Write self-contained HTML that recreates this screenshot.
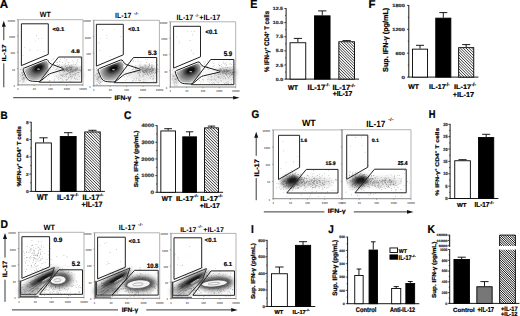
<!DOCTYPE html>
<html><head><meta charset="utf-8"><style>
html,body{margin:0;padding:0;background:#fff;width:520px;height:316px;overflow:hidden}
svg{display:block}
text{font-family:"Liberation Sans",sans-serif;text-rendering:geometricPrecision}
</style></head><body>
<svg width="520" height="316" viewBox="0 0 520 316">
<defs>
<filter id="b1" x="-50%" y="-50%" width="200%" height="200%"><feGaussianBlur stdDeviation="1"/></filter>
<filter id="b2" x="-50%" y="-50%" width="200%" height="200%"><feGaussianBlur stdDeviation="2.2"/></filter>
<filter id="b3" x="-50%" y="-50%" width="200%" height="200%"><feGaussianBlur stdDeviation="0.5"/></filter>
<pattern id="hatch" patternUnits="userSpaceOnUse" width="2.3" height="2.3"><rect width="2.3" height="2.3" fill="#fff"/><path d="M-0.5,-0.5 L2.8,2.8 M1.8,-0.5 L2.8,0.5 M-0.5,1.8 L0.5,2.8" stroke="#111" stroke-width="0.8"/></pattern>
</defs>
<rect width="520" height="316" fill="#fff"/>
<text transform="translate(-0.35,7.80) scale(0.1164,0.1159)" font-size="100" font-weight="bold" fill="#000" stroke="#000" stroke-width="1.89">A</text>
<clipPath id="ac1"><path d="M23.3,70.8 Q22.4,68.8 24.4,68.0 L45.3,59.6 Q47.3,58.8 48.2,60.8 L48.4,61.3 Q49.3,63.3 51.4,64.1 L62.3,68.2 Q63.0,68.4 63.5,68.9 L63.5,68.9 Q64.0,69.4 63.3,69.6 L51.4,73.2 Q49.3,73.8 47.6,75.2 L41.7,80.2 Q40.0,81.6 37.8,81.5 L32.4,81.2 Q30.3,81.1 28.6,80.0 L28.6,79.9 Q26.8,78.8 26.0,76.9 Z"/></clipPath>
<ellipse cx="70.0" cy="69.6" rx="11" ry="2.8" transform="rotate(2 70.0 69.6)" fill="#8a8a8a" opacity="0.9" filter="url(#b2)"/>
<ellipse cx="68.8" cy="75.6" rx="16" ry="4" transform="rotate(0 68.8 75.6)" fill="#e2e2e2" opacity="0.9" filter="url(#b2)"/>
<ellipse cx="23.8" cy="75.8" rx="3.5" ry="7" transform="rotate(0 23.8 75.8)" fill="#cfcfcf" opacity="0.9" filter="url(#b2)"/>
<path d="M23.3,70.8 Q22.4,68.8 24.4,68.0 L45.3,59.6 Q47.3,58.8 48.2,60.8 L48.4,61.3 Q49.3,63.3 51.4,64.1 L62.3,68.2 Q63.0,68.4 63.5,68.9 L63.5,68.9 Q64.0,69.4 63.3,69.6 L51.4,73.2 Q49.3,73.8 47.6,75.2 L41.7,80.2 Q40.0,81.6 37.8,81.5 L32.4,81.2 Q30.3,81.1 28.6,80.0 L28.6,79.9 Q26.8,78.8 26.0,76.9 Z" fill="#f2f2f2"/>
<g clip-path="url(#ac1)">
<ellipse cx="36.7" cy="70.2" rx="14" ry="9.5" transform="rotate(-35 36.7 70.2)" fill="#b0b0b0" opacity="1" filter="url(#b1)"/>
<ellipse cx="37.7" cy="69.2" rx="10.5" ry="7.0" transform="rotate(-30 37.7 69.2)" fill="#7a7a7a" opacity="1" filter="url(#b1)"/>
<ellipse cx="38.2" cy="68.2" rx="7.0" ry="4.6" transform="rotate(-25 38.2 68.2)" fill="#333" opacity="1" filter="url(#b1)"/>
<ellipse cx="38.5" cy="67.8" rx="4.2" ry="2.6" transform="rotate(-25 38.5 67.8)" fill="#0a0a0a" opacity="1" filter="url(#b3)"/>
<ellipse cx="38.5" cy="69.2" rx="1.4" ry="0.6" fill="#bbb" filter="url(#b3)"/>
<ellipse cx="37.6" cy="69.2" rx="10.0" ry="6.8" transform="rotate(-32 38.2 68.2)" fill="none" stroke="#888" stroke-width="0.35"/>
<ellipse cx="37.6" cy="69.2" rx="7.6" ry="5.0" transform="rotate(-32 38.2 68.2)" fill="none" stroke="#666" stroke-width="0.35"/>
<ellipse cx="37.6" cy="69.2" rx="5.2" ry="3.4" transform="rotate(-32 38.2 68.2)" fill="none" stroke="#444" stroke-width="0.35"/>
<path d="M48.3,64.4 L63.0,68.6 L63.5,69.4 L49.3,73.6 Z" fill="#f7f7f7" filter="url(#b3)"/>
<path d="M23.3,70.8 Q22.4,68.8 24.4,68.0 L45.3,59.6 Q47.3,58.8 48.2,60.8 L48.4,61.3 Q49.3,63.3 51.4,64.1 L62.3,68.2 Q63.0,68.4 63.5,68.9 L63.5,68.9 Q64.0,69.4 63.3,69.6 L51.4,73.2 Q49.3,73.8 47.6,75.2 L41.7,80.2 Q40.0,81.6 37.8,81.5 L32.4,81.2 Q30.3,81.1 28.6,80.0 L28.6,79.9 Q26.8,78.8 26.0,76.9 Z" fill="none" stroke="#fff" stroke-width="2.4"/>
</g>
<path d="M70.6 66.9h0.6v0.6h-0.6zM72.5 71.6h0.6v0.6h-0.6zM68.5 70.6h0.6v0.6h-0.6zM64.2 71.3h0.6v0.6h-0.6zM67.2 73.6h0.6v0.6h-0.6zM63.4 72.6h0.6v0.6h-0.6zM71.0 67.1h0.6v0.6h-0.6zM80.0 66.2h0.6v0.6h-0.6zM67.0 71.3h0.6v0.6h-0.6zM66.2 67.2h0.6v0.6h-0.6zM73.9 69.7h0.6v0.6h-0.6zM72.9 71.5h0.6v0.6h-0.6zM71.4 66.0h0.6v0.6h-0.6zM64.2 64.7h0.6v0.6h-0.6zM70.3 70.2h0.6v0.6h-0.6zM75.4 69.9h0.6v0.6h-0.6zM61.1 68.7h0.6v0.6h-0.6zM67.3 69.6h0.6v0.6h-0.6zM57.3 67.2h0.6v0.6h-0.6zM61.6 66.0h0.6v0.6h-0.6zM57.6 68.8h0.6v0.6h-0.6zM68.9 67.4h0.6v0.6h-0.6zM61.8 65.7h0.6v0.6h-0.6zM72.4 70.8h0.6v0.6h-0.6zM71.6 69.5h0.6v0.6h-0.6zM69.2 70.4h0.6v0.6h-0.6zM53.0 66.8h0.6v0.6h-0.6zM66.8 68.0h0.6v0.6h-0.6zM70.2 67.4h0.6v0.6h-0.6zM71.4 67.7h0.6v0.6h-0.6zM59.8 69.7h0.6v0.6h-0.6zM67.2 67.8h0.6v0.6h-0.6zM63.6 70.1h0.6v0.6h-0.6zM64.8 70.1h0.6v0.6h-0.6zM77.8 74.3h0.6v0.6h-0.6zM65.0 66.3h0.6v0.6h-0.6zM70.2 71.5h0.6v0.6h-0.6zM76.7 69.6h0.6v0.6h-0.6zM66.4 69.4h0.6v0.6h-0.6zM69.8 66.4h0.6v0.6h-0.6zM71.3 68.6h0.6v0.6h-0.6zM70.9 71.2h0.6v0.6h-0.6zM61.9 69.1h0.6v0.6h-0.6zM71.0 69.8h0.6v0.6h-0.6zM80.0 69.3h0.6v0.6h-0.6zM59.6 71.8h0.6v0.6h-0.6zM76.5 69.8h0.6v0.6h-0.6zM71.5 64.8h0.6v0.6h-0.6zM66.1 67.9h0.6v0.6h-0.6zM76.1 62.6h0.6v0.6h-0.6zM62.2 68.1h0.6v0.6h-0.6zM70.9 72.6h0.6v0.6h-0.6zM74.5 69.8h0.6v0.6h-0.6zM69.3 67.0h0.6v0.6h-0.6zM75.3 67.7h0.6v0.6h-0.6zM69.9 72.1h0.6v0.6h-0.6zM75.2 70.1h0.6v0.6h-0.6zM80.6 70.1h0.6v0.6h-0.6zM65.8 69.3h0.6v0.6h-0.6zM71.9 69.7h0.6v0.6h-0.6zM67.2 71.3h0.6v0.6h-0.6zM71.3 70.8h0.6v0.6h-0.6zM62.2 69.8h0.6v0.6h-0.6zM66.5 67.2h0.6v0.6h-0.6zM69.1 70.7h0.6v0.6h-0.6zM76.8 68.3h0.6v0.6h-0.6zM78.4 72.3h0.6v0.6h-0.6zM61.3 66.5h0.6v0.6h-0.6zM65.0 69.1h0.6v0.6h-0.6zM75.0 69.7h0.6v0.6h-0.6zM56.7 66.2h0.6v0.6h-0.6zM67.1 73.3h0.6v0.6h-0.6zM69.7 72.8h0.6v0.6h-0.6zM79.3 68.9h0.6v0.6h-0.6zM75.3 71.5h0.6v0.6h-0.6zM68.2 70.4h0.6v0.6h-0.6zM68.1 63.8h0.6v0.6h-0.6zM68.7 70.1h0.6v0.6h-0.6zM81.2 69.8h0.6v0.6h-0.6zM67.5 69.7h0.6v0.6h-0.6zM68.5 67.2h0.6v0.6h-0.6zM73.0 69.1h0.6v0.6h-0.6zM69.7 69.2h0.6v0.6h-0.6zM69.0 72.2h0.6v0.6h-0.6zM62.7 70.1h0.6v0.6h-0.6zM70.4 69.6h0.6v0.6h-0.6zM67.3 72.9h0.6v0.6h-0.6zM78.7 68.7h0.6v0.6h-0.6zM75.1 68.9h0.6v0.6h-0.6zM70.5 65.6h0.6v0.6h-0.6zM75.1 73.2h0.6v0.6h-0.6zM68.0 71.6h0.6v0.6h-0.6zM77.8 71.9h0.6v0.6h-0.6zM70.4 71.1h0.6v0.6h-0.6zM74.6 70.0h0.6v0.6h-0.6zM61.5 69.8h0.6v0.6h-0.6zM72.9 69.1h0.6v0.6h-0.6zM58.7 68.7h0.6v0.6h-0.6zM56.3 69.2h0.6v0.6h-0.6zM68.3 72.8h0.6v0.6h-0.6zM64.2 70.6h0.6v0.6h-0.6zM71.7 69.5h0.6v0.6h-0.6zM64.7 68.0h0.6v0.6h-0.6zM66.0 73.0h0.6v0.6h-0.6zM71.9 70.8h0.6v0.6h-0.6zM73.9 69.9h0.6v0.6h-0.6zM69.3 68.8h0.6v0.6h-0.6zM69.1 67.1h0.6v0.6h-0.6zM75.4 69.6h0.6v0.6h-0.6zM74.1 71.6h0.6v0.6h-0.6zM63.3 68.5h0.6v0.6h-0.6zM70.0 69.1h0.6v0.6h-0.6zM70.8 69.1h0.6v0.6h-0.6zM63.1 69.6h0.6v0.6h-0.6zM72.4 66.2h0.6v0.6h-0.6zM64.5 68.9h0.6v0.6h-0.6zM77.4 68.0h0.6v0.6h-0.6zM71.8 71.6h0.6v0.6h-0.6zM71.2 67.9h0.6v0.6h-0.6zM66.3 70.7h0.6v0.6h-0.6zM69.6 72.9h0.6v0.6h-0.6zM56.5 68.4h0.6v0.6h-0.6zM62.6 68.0h0.6v0.6h-0.6zM73.0 70.1h0.6v0.6h-0.6zM55.6 69.1h0.6v0.6h-0.6zM76.5 67.6h0.6v0.6h-0.6zM58.2 70.2h0.6v0.6h-0.6zM75.6 74.2h0.6v0.6h-0.6zM64.6 68.8h0.6v0.6h-0.6zM76.0 69.3h0.6v0.6h-0.6zM71.5 67.3h0.6v0.6h-0.6zM59.7 69.9h0.6v0.6h-0.6zM79.3 67.2h0.6v0.6h-0.6zM80.7 67.5h0.6v0.6h-0.6zM69.9 72.4h0.6v0.6h-0.6zM68.7 67.5h0.6v0.6h-0.6zM69.3 71.9h0.6v0.6h-0.6zM63.6 72.7h0.6v0.6h-0.6zM78.2 70.4h0.6v0.6h-0.6zM66.7 70.7h0.6v0.6h-0.6zM70.0 73.9h0.6v0.6h-0.6zM65.0 69.0h0.6v0.6h-0.6zM66.2 68.1h0.6v0.6h-0.6zM61.7 66.3h0.6v0.6h-0.6zM79.3 70.0h0.6v0.6h-0.6zM69.3 72.8h0.6v0.6h-0.6zM77.2 71.9h0.6v0.6h-0.6zM70.7 67.5h0.6v0.6h-0.6zM65.7 67.5h0.6v0.6h-0.6zM68.3 68.4h0.6v0.6h-0.6zM66.6 70.1h0.6v0.6h-0.6zM70.6 69.2h0.6v0.6h-0.6zM67.9 70.0h0.6v0.6h-0.6zM68.4 70.2h0.6v0.6h-0.6zM60.9 68.6h0.6v0.6h-0.6zM64.9 69.3h0.6v0.6h-0.6zM65.8 69.3h0.6v0.6h-0.6zM63.1 70.4h0.6v0.6h-0.6zM72.7 73.8h0.6v0.6h-0.6zM80.3 71.2h0.6v0.6h-0.6zM60.3 69.4h0.6v0.6h-0.6zM69.2 65.8h0.6v0.6h-0.6zM66.0 70.3h0.6v0.6h-0.6zM58.3 64.9h0.6v0.6h-0.6zM75.7 66.7h0.6v0.6h-0.6zM70.3 71.5h0.6v0.6h-0.6zM70.9 71.2h0.6v0.6h-0.6zM65.2 69.1h0.6v0.6h-0.6zM73.8 66.0h0.6v0.6h-0.6zM66.8 68.7h0.6v0.6h-0.6zM69.6 68.1h0.6v0.6h-0.6zM62.7 70.7h0.6v0.6h-0.6zM61.8 74.3h0.6v0.6h-0.6zM79.8 70.4h0.6v0.6h-0.6zM67.0 67.8h0.6v0.6h-0.6zM72.6 67.1h0.6v0.6h-0.6zM70.3 69.5h0.6v0.6h-0.6zM67.4 69.1h0.6v0.6h-0.6zM67.0 66.9h0.6v0.6h-0.6zM74.9 70.0h0.6v0.6h-0.6zM68.5 67.0h0.6v0.6h-0.6zM69.4 72.0h0.6v0.6h-0.6zM70.6 71.9h0.6v0.6h-0.6zM78.6 72.3h0.6v0.6h-0.6zM75.3 68.7h0.6v0.6h-0.6zM73.1 70.8h0.6v0.6h-0.6zM66.6 69.2h0.6v0.6h-0.6zM60.9 68.4h0.6v0.6h-0.6zM77.2 69.1h0.6v0.6h-0.6zM77.4 67.0h0.6v0.6h-0.6zM69.6 66.4h0.6v0.6h-0.6zM74.2 71.5h0.6v0.6h-0.6zM76.0 69.4h0.6v0.6h-0.6zM76.3 70.3h0.6v0.6h-0.6zM76.9 72.0h0.6v0.6h-0.6zM67.4 65.7h0.6v0.6h-0.6zM81.2 68.2h0.6v0.6h-0.6zM74.4 77.6h0.6v0.6h-0.6zM56.5 76.0h0.6v0.6h-0.6zM74.3 73.6h0.6v0.6h-0.6zM70.9 74.7h0.6v0.6h-0.6zM68.9 74.7h0.6v0.6h-0.6zM79.4 76.1h0.6v0.6h-0.6zM61.7 81.8h0.6v0.6h-0.6zM61.0 75.3h0.6v0.6h-0.6zM70.5 76.3h0.6v0.6h-0.6zM75.4 75.5h0.6v0.6h-0.6zM58.3 77.6h0.6v0.6h-0.6zM69.8 81.3h0.6v0.6h-0.6zM54.0 80.7h0.6v0.6h-0.6zM65.7 75.6h0.6v0.6h-0.6zM73.2 74.5h0.6v0.6h-0.6zM49.0 80.6h0.6v0.6h-0.6zM71.8 76.7h0.6v0.6h-0.6zM47.3 78.7h0.6v0.6h-0.6zM79.7 72.5h0.6v0.6h-0.6zM62.9 80.5h0.6v0.6h-0.6zM60.8 74.9h0.6v0.6h-0.6zM71.5 76.7h0.6v0.6h-0.6zM64.7 73.8h0.6v0.6h-0.6zM71.9 76.0h0.6v0.6h-0.6zM49.7 80.1h0.6v0.6h-0.6zM66.1 80.1h0.6v0.6h-0.6zM65.9 76.5h0.6v0.6h-0.6zM78.8 79.5h0.6v0.6h-0.6zM48.2 76.4h0.6v0.6h-0.6zM62.3 75.5h0.6v0.6h-0.6zM68.4 77.3h0.6v0.6h-0.6zM65.7 73.8h0.6v0.6h-0.6zM49.3 75.0h0.6v0.6h-0.6zM67.1 78.9h0.6v0.6h-0.6zM54.4 79.5h0.6v0.6h-0.6zM53.5 72.4h0.6v0.6h-0.6zM76.9 79.1h0.6v0.6h-0.6zM53.6 80.0h0.6v0.6h-0.6zM62.4 76.3h0.6v0.6h-0.6zM72.5 72.4h0.6v0.6h-0.6zM71.1 78.6h0.6v0.6h-0.6zM65.8 74.3h0.6v0.6h-0.6zM74.5 78.2h0.6v0.6h-0.6zM62.8 75.6h0.6v0.6h-0.6zM68.1 78.2h0.6v0.6h-0.6zM74.9 74.4h0.6v0.6h-0.6zM70.1 76.6h0.6v0.6h-0.6zM68.8 77.0h0.6v0.6h-0.6zM60.7 78.1h0.6v0.6h-0.6zM66.0 73.8h0.6v0.6h-0.6zM60.4 81.4h0.6v0.6h-0.6zM72.3 74.7h0.6v0.6h-0.6zM59.8 74.9h0.6v0.6h-0.6zM62.8 74.4h0.6v0.6h-0.6zM72.7 72.5h0.6v0.6h-0.6zM64.1 76.0h0.6v0.6h-0.6zM58.4 79.5h0.6v0.6h-0.6zM75.2 78.9h0.6v0.6h-0.6zM59.9 73.8h0.6v0.6h-0.6zM75.8 73.2h0.6v0.6h-0.6zM73.7 75.0h0.6v0.6h-0.6zM62.1 79.5h0.6v0.6h-0.6zM71.3 76.7h0.6v0.6h-0.6zM48.0 81.0h0.6v0.6h-0.6zM60.2 78.4h0.6v0.6h-0.6zM76.3 78.0h0.6v0.6h-0.6zM66.7 79.5h0.6v0.6h-0.6zM65.9 79.3h0.6v0.6h-0.6zM69.6 75.2h0.6v0.6h-0.6zM70.0 74.4h0.6v0.6h-0.6zM20.1 69.3h0.6v0.6h-0.6zM21.6 72.6h0.6v0.6h-0.6zM22.2 82.2h0.6v0.6h-0.6zM23.0 77.2h0.6v0.6h-0.6zM22.0 75.3h0.6v0.6h-0.6zM22.1 74.6h0.6v0.6h-0.6zM20.8 69.5h0.6v0.6h-0.6zM22.3 72.3h0.6v0.6h-0.6zM21.7 77.9h0.6v0.6h-0.6zM23.0 77.8h0.6v0.6h-0.6zM20.4 76.4h0.6v0.6h-0.6zM23.3 80.8h0.6v0.6h-0.6zM23.1 71.9h0.6v0.6h-0.6zM22.5 75.5h0.6v0.6h-0.6zM21.9 79.5h0.6v0.6h-0.6zM23.9 78.7h0.6v0.6h-0.6zM19.5 81.2h0.6v0.6h-0.6zM23.7 77.8h0.6v0.6h-0.6zM23.3 74.3h0.6v0.6h-0.6zM23.4 77.6h0.6v0.6h-0.6zM23.6 70.8h0.6v0.6h-0.6zM21.5 67.6h0.6v0.6h-0.6zM22.3 78.7h0.6v0.6h-0.6zM24.1 75.5h0.6v0.6h-0.6zM23.7 77.3h0.6v0.6h-0.6zM23.2 67.3h0.6v0.6h-0.6zM19.8 74.0h0.6v0.6h-0.6zM23.9 72.8h0.6v0.6h-0.6zM25.1 71.5h0.6v0.6h-0.6zM24.8 64.5h0.6v0.6h-0.6zM23.3 74.1h0.6v0.6h-0.6zM19.7 80.3h0.6v0.6h-0.6zM24.7 77.7h0.6v0.6h-0.6zM22.5 72.8h0.6v0.6h-0.6zM23.6 79.6h0.6v0.6h-0.6zM19.8 62.0h0.6v0.6h-0.6zM35.2 40.7h0.6v0.6h-0.6zM22.7 55.0h0.6v0.6h-0.6zM36.1 35.1h0.6v0.6h-0.6zM43.8 51.3h0.6v0.6h-0.6zM24.0 47.0h0.6v0.6h-0.6zM28.9 50.7h0.6v0.6h-0.6zM41.7 38.0h0.6v0.6h-0.6zM37.6 50.2h0.6v0.6h-0.6zM29.9 49.2h0.6v0.6h-0.6zM38.2 38.4h0.6v0.6h-0.6zM51.6 63.9h0.6v0.6h-0.6zM80.0 58.4h0.6v0.6h-0.6zM72.4 59.9h0.6v0.6h-0.6zM57.0 64.3h0.6v0.6h-0.6zM72.9 61.6h0.6v0.6h-0.6zM59.2 61.4h0.6v0.6h-0.6zM65.0 65.5h0.6v0.6h-0.6zM76.9 60.4h0.6v0.6h-0.6zM64.4 58.1h0.6v0.6h-0.6zM59.5 60.9h0.6v0.6h-0.6zM60.1 59.0h0.6v0.6h-0.6zM53.1 58.5h0.6v0.6h-0.6zM57.5 62.3h0.6v0.6h-0.6zM59.0 65.4h0.6v0.6h-0.6zM56.0 62.4h0.6v0.6h-0.6zM52.7 63.0h0.6v0.6h-0.6zM64.9 60.4h0.6v0.6h-0.6zM57.3 62.4h0.6v0.6h-0.6zM73.2 63.8h0.6v0.6h-0.6zM78.8 62.5h0.6v0.6h-0.6zM59.1 64.2h0.6v0.6h-0.6zM68.1 62.2h0.6v0.6h-0.6zM66.2 59.4h0.6v0.6h-0.6zM53.1 62.5h0.6v0.6h-0.6zM54.6 61.7h0.6v0.6h-0.6zM77.6 59.1h0.6v0.6h-0.6zM65.2 62.8h0.6v0.6h-0.6zM75.2 64.3h0.6v0.6h-0.6zM52.8 58.9h0.6v0.6h-0.6zM68.8 62.2h0.6v0.6h-0.6zM77.0 63.7h0.6v0.6h-0.6zM77.1 61.0h0.6v0.6h-0.6zM51.0 60.0h0.6v0.6h-0.6zM66.6 60.8h0.6v0.6h-0.6zM62.0 62.1h0.6v0.6h-0.6z" fill="#333" opacity="0.55"/>
<path d="M23.3,70.8 Q22.4,68.8 24.4,68.0 L45.3,59.6 Q47.3,58.8 48.2,60.8 L48.4,61.3 Q49.3,63.3 51.4,64.1 L62.3,68.2 Q63.0,68.4 63.5,68.9 L63.5,68.9 Q64.0,69.4 63.3,69.6 L51.4,73.2 Q49.3,73.8 47.6,75.2 L41.7,80.2 Q40.0,81.6 37.8,81.5 L32.4,81.2 Q30.3,81.1 28.6,80.0 L28.6,79.9 Q26.8,78.8 26.0,76.9 Z" fill="none" stroke="#1a1a1a" stroke-width="1.0"/>
<polygon points="21.4,23.8 48.3,23.8 48.3,54.3 21.4,65.6" fill="none" stroke="#222" stroke-width="1.0" stroke-linejoin="miter"/>
<polygon points="58.5,57.0 81.7,57.0 81.7,82.2 39.2,82.2" fill="none" stroke="#222" stroke-width="1.0" stroke-linejoin="miter"/>
<path d="M18.1,19.7 H83.0 V84.9" fill="none" stroke="#aaa" stroke-width="0.9"/>
<path d="M18.1,19.7 V84.9 H83.0" fill="none" stroke="#888" stroke-width="1.0"/>
<line x1="16.900000000000002" y1="19.7" x2="18.1" y2="19.7" stroke="#777" stroke-width="0.6"/>
<text x="15.0" y="21.6" font-size="2.8" font-weight="bold" text-anchor="end" fill="#444" textLength="7.5" lengthAdjust="spacingAndGlyphs">10000</text>
<line x1="16.900000000000002" y1="36.0" x2="18.1" y2="36.0" stroke="#777" stroke-width="0.6"/>
<text x="15.0" y="37.9" font-size="2.8" font-weight="bold" text-anchor="end" fill="#444" textLength="6.0" lengthAdjust="spacingAndGlyphs">1000</text>
<line x1="16.900000000000002" y1="52.3" x2="18.1" y2="52.3" stroke="#777" stroke-width="0.6"/>
<text x="15.0" y="54.2" font-size="2.8" font-weight="bold" text-anchor="end" fill="#444" textLength="4.5" lengthAdjust="spacingAndGlyphs">100</text>
<line x1="16.900000000000002" y1="68.6" x2="18.1" y2="68.6" stroke="#777" stroke-width="0.6"/>
<text x="15.0" y="70.5" font-size="2.8" font-weight="bold" text-anchor="end" fill="#444" textLength="3.0" lengthAdjust="spacingAndGlyphs">10</text>
<line x1="16.900000000000002" y1="84.9" x2="18.1" y2="84.9" stroke="#777" stroke-width="0.6"/>
<text x="15.0" y="86.8" font-size="2.8" font-weight="bold" text-anchor="end" fill="#444" textLength="1.5" lengthAdjust="spacingAndGlyphs">1</text>
<line x1="18.1" y1="84.9" x2="18.1" y2="86.10000000000001" stroke="#777" stroke-width="0.6"/>
<text x="18.1" y="90.2" font-size="2.8" font-weight="bold" text-anchor="middle" fill="#444" textLength="1.5" lengthAdjust="spacingAndGlyphs">1</text>
<line x1="34.3" y1="84.9" x2="34.3" y2="86.10000000000001" stroke="#777" stroke-width="0.6"/>
<text x="34.3" y="90.2" font-size="2.8" font-weight="bold" text-anchor="middle" fill="#444" textLength="3.0" lengthAdjust="spacingAndGlyphs">10</text>
<line x1="50.6" y1="84.9" x2="50.6" y2="86.10000000000001" stroke="#777" stroke-width="0.6"/>
<text x="50.6" y="90.2" font-size="2.8" font-weight="bold" text-anchor="middle" fill="#444" textLength="4.5" lengthAdjust="spacingAndGlyphs">100</text>
<line x1="66.8" y1="84.9" x2="66.8" y2="86.10000000000001" stroke="#777" stroke-width="0.6"/>
<text x="66.8" y="90.2" font-size="2.8" font-weight="bold" text-anchor="middle" fill="#444" textLength="6.0" lengthAdjust="spacingAndGlyphs">1000</text>
<line x1="83.0" y1="84.9" x2="83.0" y2="86.10000000000001" stroke="#777" stroke-width="0.6"/>
<text x="83.0" y="90.2" font-size="2.8" font-weight="bold" text-anchor="middle" fill="#444" textLength="7.5" lengthAdjust="spacingAndGlyphs">10000</text>
<text transform="translate(52.56,30.95) scale(0.0592,0.0535)" font-size="100" font-weight="bold" fill="#000" stroke="#000" stroke-width="3.90">&lt;0.1</text>
<text transform="translate(71.04,52.95) scale(0.0637,0.0521)" font-size="100" font-weight="bold" fill="#000" stroke="#000" stroke-width="3.80">4.8</text>
<clipPath id="ac2"><path d="M98.3,71.3 Q97.4,69.3 99.4,68.5 L120.3,60.1 Q122.3,59.3 123.2,61.3 L123.4,61.8 Q124.3,63.8 126.4,64.5 L138.8,68.7 Q139.5,68.9 140.0,69.4 L140.0,69.4 Q140.5,69.9 139.8,70.1 L126.4,73.7 Q124.3,74.3 122.6,75.7 L116.7,80.7 Q115.0,82.1 112.8,82.0 L107.4,81.7 Q105.3,81.6 103.5,80.5 L103.5,80.4 Q101.8,79.3 101.0,77.4 Z"/></clipPath>
<ellipse cx="146.5" cy="70.1" rx="11" ry="2.8" transform="rotate(2 146.5 70.1)" fill="#8a8a8a" opacity="0.9" filter="url(#b2)"/>
<ellipse cx="143.8" cy="76.1" rx="16" ry="4" transform="rotate(0 143.8 76.1)" fill="#e2e2e2" opacity="0.9" filter="url(#b2)"/>
<ellipse cx="98.8" cy="76.3" rx="3.5" ry="7" transform="rotate(0 98.8 76.3)" fill="#cfcfcf" opacity="0.9" filter="url(#b2)"/>
<path d="M98.3,71.3 Q97.4,69.3 99.4,68.5 L120.3,60.1 Q122.3,59.3 123.2,61.3 L123.4,61.8 Q124.3,63.8 126.4,64.5 L138.8,68.7 Q139.5,68.9 140.0,69.4 L140.0,69.4 Q140.5,69.9 139.8,70.1 L126.4,73.7 Q124.3,74.3 122.6,75.7 L116.7,80.7 Q115.0,82.1 112.8,82.0 L107.4,81.7 Q105.3,81.6 103.5,80.5 L103.5,80.4 Q101.8,79.3 101.0,77.4 Z" fill="#f2f2f2"/>
<g clip-path="url(#ac2)">
<ellipse cx="111.69999999999999" cy="70.7" rx="14" ry="9.5" transform="rotate(-35 111.69999999999999 70.7)" fill="#b0b0b0" opacity="1" filter="url(#b1)"/>
<ellipse cx="112.69999999999999" cy="69.7" rx="10.5" ry="7.0" transform="rotate(-30 112.69999999999999 69.7)" fill="#7a7a7a" opacity="1" filter="url(#b1)"/>
<ellipse cx="113.19999999999999" cy="68.7" rx="7.0" ry="4.6" transform="rotate(-25 113.19999999999999 68.7)" fill="#333" opacity="1" filter="url(#b1)"/>
<ellipse cx="113.49999999999999" cy="68.3" rx="4.2" ry="2.6" transform="rotate(-25 113.49999999999999 68.3)" fill="#0a0a0a" opacity="1" filter="url(#b3)"/>
<ellipse cx="113.49999999999999" cy="69.7" rx="1.4" ry="0.6" fill="#bbb" filter="url(#b3)"/>
<ellipse cx="112.6" cy="69.7" rx="10.0" ry="6.8" transform="rotate(-32 113.19999999999999 68.7)" fill="none" stroke="#888" stroke-width="0.35"/>
<ellipse cx="112.6" cy="69.7" rx="7.6" ry="5.0" transform="rotate(-32 113.19999999999999 68.7)" fill="none" stroke="#666" stroke-width="0.35"/>
<ellipse cx="112.6" cy="69.7" rx="5.2" ry="3.4" transform="rotate(-32 113.19999999999999 68.7)" fill="none" stroke="#444" stroke-width="0.35"/>
<path d="M123.3,64.9 L139.5,69.1 L140.0,69.9 L124.3,74.1 Z" fill="#f7f7f7" filter="url(#b3)"/>
<path d="M98.3,71.3 Q97.4,69.3 99.4,68.5 L120.3,60.1 Q122.3,59.3 123.2,61.3 L123.4,61.8 Q124.3,63.8 126.4,64.5 L138.8,68.7 Q139.5,68.9 140.0,69.4 L140.0,69.4 Q140.5,69.9 139.8,70.1 L126.4,73.7 Q124.3,74.3 122.6,75.7 L116.7,80.7 Q115.0,82.1 112.8,82.0 L107.4,81.7 Q105.3,81.6 103.5,80.5 L103.5,80.4 Q101.8,79.3 101.0,77.4 Z" fill="none" stroke="#fff" stroke-width="2.4"/>
</g>
<path d="M151.6 71.9h0.6v0.6h-0.6zM143.4 70.2h0.6v0.6h-0.6zM151.1 67.3h0.6v0.6h-0.6zM151.7 72.6h0.6v0.6h-0.6zM132.8 69.5h0.6v0.6h-0.6zM151.4 73.4h0.6v0.6h-0.6zM145.6 70.5h0.6v0.6h-0.6zM150.1 68.7h0.6v0.6h-0.6zM151.8 70.9h0.6v0.6h-0.6zM144.6 71.6h0.6v0.6h-0.6zM135.2 69.8h0.6v0.6h-0.6zM149.5 71.3h0.6v0.6h-0.6zM141.9 68.8h0.6v0.6h-0.6zM144.9 65.3h0.6v0.6h-0.6zM142.7 71.9h0.6v0.6h-0.6zM144.6 71.6h0.6v0.6h-0.6zM130.8 69.9h0.6v0.6h-0.6zM155.5 70.5h0.6v0.6h-0.6zM148.7 72.4h0.6v0.6h-0.6zM154.8 69.4h0.6v0.6h-0.6zM147.2 69.7h0.6v0.6h-0.6zM134.3 72.3h0.6v0.6h-0.6zM140.9 66.8h0.6v0.6h-0.6zM138.5 72.4h0.6v0.6h-0.6zM143.5 68.6h0.6v0.6h-0.6zM147.6 67.7h0.6v0.6h-0.6zM132.9 72.4h0.6v0.6h-0.6zM149.4 70.0h0.6v0.6h-0.6zM136.5 66.9h0.6v0.6h-0.6zM149.1 69.4h0.6v0.6h-0.6zM146.2 72.1h0.6v0.6h-0.6zM144.7 72.6h0.6v0.6h-0.6zM146.5 69.1h0.6v0.6h-0.6zM143.2 70.9h0.6v0.6h-0.6zM142.7 71.5h0.6v0.6h-0.6zM135.3 68.3h0.6v0.6h-0.6zM146.8 70.9h0.6v0.6h-0.6zM156.3 69.3h0.6v0.6h-0.6zM151.9 70.4h0.6v0.6h-0.6zM142.3 70.0h0.6v0.6h-0.6zM157.1 69.2h0.6v0.6h-0.6zM146.6 69.1h0.6v0.6h-0.6zM146.4 72.5h0.6v0.6h-0.6zM144.9 70.5h0.6v0.6h-0.6zM147.6 72.1h0.6v0.6h-0.6zM143.9 72.6h0.6v0.6h-0.6zM146.4 71.4h0.6v0.6h-0.6zM139.2 74.8h0.6v0.6h-0.6zM144.4 68.2h0.6v0.6h-0.6zM146.5 69.4h0.6v0.6h-0.6zM145.2 74.1h0.6v0.6h-0.6zM150.6 74.0h0.6v0.6h-0.6zM152.1 66.0h0.6v0.6h-0.6zM139.3 67.7h0.6v0.6h-0.6zM145.5 71.5h0.6v0.6h-0.6zM153.4 72.1h0.6v0.6h-0.6zM148.8 71.8h0.6v0.6h-0.6zM147.9 70.0h0.6v0.6h-0.6zM157.8 71.5h0.6v0.6h-0.6zM142.2 71.4h0.6v0.6h-0.6zM147.6 69.9h0.6v0.6h-0.6zM143.3 72.2h0.6v0.6h-0.6zM157.6 65.5h0.6v0.6h-0.6zM133.3 71.0h0.6v0.6h-0.6zM142.4 67.7h0.6v0.6h-0.6zM143.2 72.1h0.6v0.6h-0.6zM151.7 69.8h0.6v0.6h-0.6zM151.3 68.3h0.6v0.6h-0.6zM156.7 71.3h0.6v0.6h-0.6zM136.1 67.7h0.6v0.6h-0.6zM152.3 68.3h0.6v0.6h-0.6zM145.1 66.6h0.6v0.6h-0.6zM142.3 69.9h0.6v0.6h-0.6zM150.7 71.3h0.6v0.6h-0.6zM140.5 72.1h0.6v0.6h-0.6zM132.5 69.3h0.6v0.6h-0.6zM144.3 72.3h0.6v0.6h-0.6zM136.5 69.8h0.6v0.6h-0.6zM142.5 69.7h0.6v0.6h-0.6zM149.6 71.5h0.6v0.6h-0.6zM149.1 72.5h0.6v0.6h-0.6zM158.1 69.7h0.6v0.6h-0.6zM145.6 69.5h0.6v0.6h-0.6zM136.3 69.4h0.6v0.6h-0.6zM141.7 70.1h0.6v0.6h-0.6zM140.6 67.9h0.6v0.6h-0.6zM138.4 72.1h0.6v0.6h-0.6zM150.1 69.3h0.6v0.6h-0.6zM142.5 71.0h0.6v0.6h-0.6zM133.2 67.8h0.6v0.6h-0.6zM151.8 71.1h0.6v0.6h-0.6zM146.2 70.9h0.6v0.6h-0.6zM149.5 69.3h0.6v0.6h-0.6zM147.6 74.6h0.6v0.6h-0.6zM151.4 71.1h0.6v0.6h-0.6zM147.1 74.0h0.6v0.6h-0.6zM155.6 72.5h0.6v0.6h-0.6zM150.0 68.7h0.6v0.6h-0.6zM149.8 69.4h0.6v0.6h-0.6zM149.8 71.2h0.6v0.6h-0.6zM136.8 69.9h0.6v0.6h-0.6zM145.8 70.2h0.6v0.6h-0.6zM145.2 69.4h0.6v0.6h-0.6zM148.6 66.2h0.6v0.6h-0.6zM137.5 69.3h0.6v0.6h-0.6zM147.7 70.9h0.6v0.6h-0.6zM138.6 68.2h0.6v0.6h-0.6zM135.1 68.1h0.6v0.6h-0.6zM145.0 69.5h0.6v0.6h-0.6zM146.4 70.7h0.6v0.6h-0.6zM142.1 66.8h0.6v0.6h-0.6zM147.8 66.3h0.6v0.6h-0.6zM142.6 67.6h0.6v0.6h-0.6zM151.0 65.7h0.6v0.6h-0.6zM142.0 67.8h0.6v0.6h-0.6zM146.6 73.6h0.6v0.6h-0.6zM153.9 68.0h0.6v0.6h-0.6zM140.1 66.8h0.6v0.6h-0.6zM143.7 70.6h0.6v0.6h-0.6zM141.1 69.2h0.6v0.6h-0.6zM152.5 70.2h0.6v0.6h-0.6zM138.9 71.1h0.6v0.6h-0.6zM143.5 73.8h0.6v0.6h-0.6zM146.8 70.5h0.6v0.6h-0.6zM140.1 70.1h0.6v0.6h-0.6zM140.4 67.7h0.6v0.6h-0.6zM143.6 71.3h0.6v0.6h-0.6zM132.3 69.0h0.6v0.6h-0.6zM136.8 71.6h0.6v0.6h-0.6zM144.1 69.9h0.6v0.6h-0.6zM147.9 74.0h0.6v0.6h-0.6zM145.9 65.7h0.6v0.6h-0.6zM134.6 69.0h0.6v0.6h-0.6zM143.7 71.9h0.6v0.6h-0.6zM152.6 69.5h0.6v0.6h-0.6zM150.9 68.5h0.6v0.6h-0.6zM146.5 69.5h0.6v0.6h-0.6zM140.9 66.8h0.6v0.6h-0.6zM151.4 70.5h0.6v0.6h-0.6zM142.8 75.3h0.6v0.6h-0.6zM138.7 72.3h0.6v0.6h-0.6zM141.5 67.5h0.6v0.6h-0.6zM157.2 68.5h0.6v0.6h-0.6zM148.6 69.3h0.6v0.6h-0.6zM155.0 72.6h0.6v0.6h-0.6zM143.7 68.2h0.6v0.6h-0.6zM153.6 68.8h0.6v0.6h-0.6zM142.7 71.9h0.6v0.6h-0.6zM145.8 72.0h0.6v0.6h-0.6zM152.5 67.8h0.6v0.6h-0.6zM143.6 66.6h0.6v0.6h-0.6zM146.5 68.5h0.6v0.6h-0.6zM149.5 65.3h0.6v0.6h-0.6zM155.4 72.0h0.6v0.6h-0.6zM143.6 68.6h0.6v0.6h-0.6zM134.8 70.7h0.6v0.6h-0.6zM144.9 74.1h0.6v0.6h-0.6zM147.0 72.7h0.6v0.6h-0.6zM147.9 67.6h0.6v0.6h-0.6zM156.1 72.3h0.6v0.6h-0.6zM149.1 72.7h0.6v0.6h-0.6zM152.7 68.7h0.6v0.6h-0.6zM139.4 67.7h0.6v0.6h-0.6zM153.1 70.1h0.6v0.6h-0.6zM152.3 73.5h0.6v0.6h-0.6zM149.0 64.9h0.6v0.6h-0.6zM148.2 67.7h0.6v0.6h-0.6zM140.5 69.4h0.6v0.6h-0.6zM146.2 70.4h0.6v0.6h-0.6zM150.2 70.8h0.6v0.6h-0.6zM152.2 69.8h0.6v0.6h-0.6zM143.9 72.5h0.6v0.6h-0.6zM149.3 65.5h0.6v0.6h-0.6zM145.1 70.0h0.6v0.6h-0.6zM147.9 68.6h0.6v0.6h-0.6zM146.1 70.4h0.6v0.6h-0.6zM139.0 70.3h0.6v0.6h-0.6zM146.9 68.1h0.6v0.6h-0.6zM153.2 68.9h0.6v0.6h-0.6zM140.2 71.6h0.6v0.6h-0.6zM145.3 70.8h0.6v0.6h-0.6zM151.7 68.8h0.6v0.6h-0.6zM139.4 74.3h0.6v0.6h-0.6zM148.1 75.2h0.6v0.6h-0.6zM139.7 66.6h0.6v0.6h-0.6zM154.9 71.0h0.6v0.6h-0.6zM145.4 70.5h0.6v0.6h-0.6zM149.8 78.1h0.6v0.6h-0.6zM152.7 75.7h0.6v0.6h-0.6zM123.8 82.0h0.6v0.6h-0.6zM147.3 73.2h0.6v0.6h-0.6zM128.8 74.5h0.6v0.6h-0.6zM131.3 73.2h0.6v0.6h-0.6zM133.4 79.8h0.6v0.6h-0.6zM142.9 75.4h0.6v0.6h-0.6zM144.2 81.8h0.6v0.6h-0.6zM155.0 81.7h0.6v0.6h-0.6zM122.3 82.1h0.6v0.6h-0.6zM128.7 75.0h0.6v0.6h-0.6zM134.7 72.3h0.6v0.6h-0.6zM150.9 76.4h0.6v0.6h-0.6zM141.4 82.4h0.6v0.6h-0.6zM140.0 80.3h0.6v0.6h-0.6zM148.9 72.9h0.6v0.6h-0.6zM145.1 79.7h0.6v0.6h-0.6zM132.1 81.9h0.6v0.6h-0.6zM124.9 82.5h0.6v0.6h-0.6zM138.3 79.8h0.6v0.6h-0.6zM153.1 81.4h0.6v0.6h-0.6zM143.1 81.1h0.6v0.6h-0.6zM123.7 76.1h0.6v0.6h-0.6zM137.5 73.3h0.6v0.6h-0.6zM135.5 79.9h0.6v0.6h-0.6zM142.5 73.7h0.6v0.6h-0.6zM142.7 76.3h0.6v0.6h-0.6zM155.7 82.8h0.6v0.6h-0.6zM133.8 78.2h0.6v0.6h-0.6zM136.3 77.8h0.6v0.6h-0.6zM143.6 82.3h0.6v0.6h-0.6zM153.4 75.3h0.6v0.6h-0.6zM146.9 82.8h0.6v0.6h-0.6zM138.6 81.9h0.6v0.6h-0.6zM150.8 76.1h0.6v0.6h-0.6zM139.1 75.7h0.6v0.6h-0.6zM156.1 73.6h0.6v0.6h-0.6zM131.9 81.9h0.6v0.6h-0.6zM126.3 74.3h0.6v0.6h-0.6zM151.4 72.4h0.6v0.6h-0.6zM132.4 81.6h0.6v0.6h-0.6zM152.0 78.6h0.6v0.6h-0.6zM143.5 79.4h0.6v0.6h-0.6zM139.9 80.0h0.6v0.6h-0.6zM124.9 72.7h0.6v0.6h-0.6zM149.8 73.3h0.6v0.6h-0.6zM124.1 77.5h0.6v0.6h-0.6zM156.2 72.8h0.6v0.6h-0.6zM153.0 77.6h0.6v0.6h-0.6zM132.6 80.0h0.6v0.6h-0.6zM126.4 79.2h0.6v0.6h-0.6zM153.3 78.8h0.6v0.6h-0.6zM138.9 72.8h0.6v0.6h-0.6zM126.2 74.8h0.6v0.6h-0.6zM139.5 81.7h0.6v0.6h-0.6zM130.6 73.6h0.6v0.6h-0.6zM136.3 77.9h0.6v0.6h-0.6zM144.6 72.8h0.6v0.6h-0.6zM154.4 82.2h0.6v0.6h-0.6zM150.3 74.1h0.6v0.6h-0.6zM127.5 76.6h0.6v0.6h-0.6zM138.8 78.0h0.6v0.6h-0.6zM139.3 79.8h0.6v0.6h-0.6zM157.0 82.1h0.6v0.6h-0.6zM124.9 80.0h0.6v0.6h-0.6zM140.0 75.9h0.6v0.6h-0.6zM154.4 73.1h0.6v0.6h-0.6zM136.0 79.7h0.6v0.6h-0.6zM131.1 82.5h0.6v0.6h-0.6zM97.5 80.8h0.6v0.6h-0.6zM98.4 82.6h0.6v0.6h-0.6zM97.0 77.9h0.6v0.6h-0.6zM99.6 73.3h0.6v0.6h-0.6zM97.1 73.6h0.6v0.6h-0.6zM95.9 78.8h0.6v0.6h-0.6zM100.7 79.2h0.6v0.6h-0.6zM99.1 83.3h0.6v0.6h-0.6zM98.2 78.4h0.6v0.6h-0.6zM99.7 81.6h0.6v0.6h-0.6zM99.9 83.9h0.6v0.6h-0.6zM98.5 77.1h0.6v0.6h-0.6zM96.4 70.4h0.6v0.6h-0.6zM96.9 69.1h0.6v0.6h-0.6zM95.8 84.3h0.6v0.6h-0.6zM98.2 72.1h0.6v0.6h-0.6zM100.2 82.5h0.6v0.6h-0.6zM96.8 79.2h0.6v0.6h-0.6zM101.9 81.3h0.6v0.6h-0.6zM96.9 75.8h0.6v0.6h-0.6zM95.3 75.3h0.6v0.6h-0.6zM98.3 76.7h0.6v0.6h-0.6zM98.7 77.2h0.6v0.6h-0.6zM96.4 73.6h0.6v0.6h-0.6zM99.4 76.1h0.6v0.6h-0.6zM96.8 84.3h0.6v0.6h-0.6zM96.0 67.8h0.6v0.6h-0.6zM98.2 77.6h0.6v0.6h-0.6zM99.3 71.8h0.6v0.6h-0.6zM96.5 77.2h0.6v0.6h-0.6zM98.5 80.5h0.6v0.6h-0.6zM97.6 76.0h0.6v0.6h-0.6zM103.4 80.2h0.6v0.6h-0.6zM96.4 68.4h0.6v0.6h-0.6zM100.6 81.8h0.6v0.6h-0.6zM97.7 73.3h0.6v0.6h-0.6zM97.5 79.4h0.6v0.6h-0.6zM99.2 77.2h0.6v0.6h-0.6zM109.8 56.5h0.6v0.6h-0.6zM102.5 29.6h0.6v0.6h-0.6zM106.8 38.0h0.6v0.6h-0.6zM98.7 42.6h0.6v0.6h-0.6zM113.9 29.4h0.6v0.6h-0.6zM120.0 36.5h0.6v0.6h-0.6zM106.0 34.9h0.6v0.6h-0.6zM99.5 50.3h0.6v0.6h-0.6zM112.9 59.8h0.6v0.6h-0.6zM100.1 38.0h0.6v0.6h-0.6zM150.8 62.0h0.6v0.6h-0.6zM130.2 60.2h0.6v0.6h-0.6zM144.1 64.7h0.6v0.6h-0.6zM139.5 64.8h0.6v0.6h-0.6zM134.9 65.9h0.6v0.6h-0.6zM151.8 65.0h0.6v0.6h-0.6zM149.4 63.5h0.6v0.6h-0.6zM130.0 59.8h0.6v0.6h-0.6zM135.0 64.9h0.6v0.6h-0.6zM151.7 64.1h0.6v0.6h-0.6zM157.2 64.3h0.6v0.6h-0.6zM145.1 63.9h0.6v0.6h-0.6zM153.3 64.9h0.6v0.6h-0.6zM156.9 60.7h0.6v0.6h-0.6zM149.2 63.7h0.6v0.6h-0.6zM146.2 62.4h0.6v0.6h-0.6zM132.8 61.0h0.6v0.6h-0.6zM137.5 60.9h0.6v0.6h-0.6zM145.5 59.5h0.6v0.6h-0.6zM155.1 62.2h0.6v0.6h-0.6zM135.3 61.2h0.6v0.6h-0.6zM138.3 61.7h0.6v0.6h-0.6zM126.5 65.1h0.6v0.6h-0.6zM147.8 63.8h0.6v0.6h-0.6zM139.8 63.7h0.6v0.6h-0.6zM151.0 66.2h0.6v0.6h-0.6zM133.2 60.0h0.6v0.6h-0.6zM146.6 62.4h0.6v0.6h-0.6zM147.1 59.0h0.6v0.6h-0.6zM140.5 61.4h0.6v0.6h-0.6zM131.8 65.9h0.6v0.6h-0.6zM138.5 59.0h0.6v0.6h-0.6zM149.3 64.4h0.6v0.6h-0.6zM131.8 65.2h0.6v0.6h-0.6zM128.6 62.4h0.6v0.6h-0.6z" fill="#333" opacity="0.55"/>
<path d="M98.3,71.3 Q97.4,69.3 99.4,68.5 L120.3,60.1 Q122.3,59.3 123.2,61.3 L123.4,61.8 Q124.3,63.8 126.4,64.5 L138.8,68.7 Q139.5,68.9 140.0,69.4 L140.0,69.4 Q140.5,69.9 139.8,70.1 L126.4,73.7 Q124.3,74.3 122.6,75.7 L116.7,80.7 Q115.0,82.1 112.8,82.0 L107.4,81.7 Q105.3,81.6 103.5,80.5 L103.5,80.4 Q101.8,79.3 101.0,77.4 Z" fill="none" stroke="#1a1a1a" stroke-width="1.0"/>
<polygon points="96.4,24.3 123.3,24.3 123.3,54.8 96.4,66.1" fill="none" stroke="#222" stroke-width="1.0" stroke-linejoin="miter"/>
<polygon points="133.5,57.5 156.7,57.5 156.7,82.7 114.2,82.7" fill="none" stroke="#222" stroke-width="1.0" stroke-linejoin="miter"/>
<path d="M93.8,20.3 H159.4 V85.8" fill="none" stroke="#aaa" stroke-width="0.9"/>
<path d="M93.8,20.3 V85.8 H159.4" fill="none" stroke="#888" stroke-width="1.0"/>
<line x1="92.6" y1="20.3" x2="93.8" y2="20.3" stroke="#777" stroke-width="0.6"/>
<text x="90.7" y="22.2" font-size="2.8" font-weight="bold" text-anchor="end" fill="#444" textLength="7.5" lengthAdjust="spacingAndGlyphs">10000</text>
<line x1="92.6" y1="36.7" x2="93.8" y2="36.7" stroke="#777" stroke-width="0.6"/>
<text x="90.7" y="38.6" font-size="2.8" font-weight="bold" text-anchor="end" fill="#444" textLength="6.0" lengthAdjust="spacingAndGlyphs">1000</text>
<line x1="92.6" y1="53.0" x2="93.8" y2="53.0" stroke="#777" stroke-width="0.6"/>
<text x="90.7" y="54.9" font-size="2.8" font-weight="bold" text-anchor="end" fill="#444" textLength="4.5" lengthAdjust="spacingAndGlyphs">100</text>
<line x1="92.6" y1="69.4" x2="93.8" y2="69.4" stroke="#777" stroke-width="0.6"/>
<text x="90.7" y="71.3" font-size="2.8" font-weight="bold" text-anchor="end" fill="#444" textLength="3.0" lengthAdjust="spacingAndGlyphs">10</text>
<line x1="92.6" y1="85.8" x2="93.8" y2="85.8" stroke="#777" stroke-width="0.6"/>
<text x="90.7" y="87.7" font-size="2.8" font-weight="bold" text-anchor="end" fill="#444" textLength="1.5" lengthAdjust="spacingAndGlyphs">1</text>
<line x1="93.8" y1="85.8" x2="93.8" y2="87.0" stroke="#777" stroke-width="0.6"/>
<text x="93.8" y="91.1" font-size="2.8" font-weight="bold" text-anchor="middle" fill="#444" textLength="1.5" lengthAdjust="spacingAndGlyphs">1</text>
<line x1="110.2" y1="85.8" x2="110.2" y2="87.0" stroke="#777" stroke-width="0.6"/>
<text x="110.2" y="91.1" font-size="2.8" font-weight="bold" text-anchor="middle" fill="#444" textLength="3.0" lengthAdjust="spacingAndGlyphs">10</text>
<line x1="126.6" y1="85.8" x2="126.6" y2="87.0" stroke="#777" stroke-width="0.6"/>
<text x="126.6" y="91.1" font-size="2.8" font-weight="bold" text-anchor="middle" fill="#444" textLength="4.5" lengthAdjust="spacingAndGlyphs">100</text>
<line x1="143.0" y1="85.8" x2="143.0" y2="87.0" stroke="#777" stroke-width="0.6"/>
<text x="143.0" y="91.1" font-size="2.8" font-weight="bold" text-anchor="middle" fill="#444" textLength="6.0" lengthAdjust="spacingAndGlyphs">1000</text>
<line x1="159.4" y1="85.8" x2="159.4" y2="87.0" stroke="#777" stroke-width="0.6"/>
<text x="159.4" y="91.1" font-size="2.8" font-weight="bold" text-anchor="middle" fill="#444" textLength="7.5" lengthAdjust="spacingAndGlyphs">10000</text>
<text transform="translate(128.37,31.34) scale(0.0565,0.0563)" font-size="100" font-weight="bold" fill="#000" stroke="#000" stroke-width="3.90">&lt;0.1</text>
<text transform="translate(147.91,55.24) scale(0.0636,0.0634)" font-size="100" font-weight="bold" fill="#000" stroke="#000" stroke-width="3.46">5.3</text>
<clipPath id="ac3"><path d="M175.5,73.3 Q174.6,71.3 176.6,70.5 L197.5,62.1 Q199.5,61.3 200.4,63.3 L200.6,63.8 Q201.5,65.8 203.6,66.4 L218.6,70.7 Q219.3,70.9 219.8,71.4 L219.8,71.4 Q220.3,71.9 219.6,72.1 L203.6,75.8 Q201.5,76.3 199.8,77.7 L193.9,82.7 Q192.2,84.1 190.0,84.0 L184.6,83.7 Q182.5,83.6 180.8,82.5 L180.8,82.4 Q179.0,81.3 178.2,79.4 Z"/></clipPath>
<ellipse cx="226.3" cy="72.1" rx="11" ry="2.8" transform="rotate(2 226.3 72.1)" fill="#8a8a8a" opacity="0.9" filter="url(#b2)"/>
<ellipse cx="221.0" cy="78.1" rx="16" ry="4" transform="rotate(0 221.0 78.1)" fill="#e2e2e2" opacity="0.9" filter="url(#b2)"/>
<ellipse cx="176.0" cy="78.3" rx="3.5" ry="7" transform="rotate(0 176.0 78.3)" fill="#cfcfcf" opacity="0.9" filter="url(#b2)"/>
<path d="M175.5,73.3 Q174.6,71.3 176.6,70.5 L197.5,62.1 Q199.5,61.3 200.4,63.3 L200.6,63.8 Q201.5,65.8 203.6,66.4 L218.6,70.7 Q219.3,70.9 219.8,71.4 L219.8,71.4 Q220.3,71.9 219.6,72.1 L203.6,75.8 Q201.5,76.3 199.8,77.7 L193.9,82.7 Q192.2,84.1 190.0,84.0 L184.6,83.7 Q182.5,83.6 180.8,82.5 L180.8,82.4 Q179.0,81.3 178.2,79.4 Z" fill="#f2f2f2"/>
<g clip-path="url(#ac3)">
<ellipse cx="188.9" cy="72.7" rx="14" ry="9.5" transform="rotate(-35 188.9 72.7)" fill="#b0b0b0" opacity="1" filter="url(#b1)"/>
<ellipse cx="189.9" cy="71.7" rx="10.5" ry="7.0" transform="rotate(-30 189.9 71.7)" fill="#7a7a7a" opacity="1" filter="url(#b1)"/>
<ellipse cx="190.4" cy="70.7" rx="7.0" ry="4.6" transform="rotate(-25 190.4 70.7)" fill="#333" opacity="1" filter="url(#b1)"/>
<ellipse cx="190.70000000000002" cy="70.3" rx="4.2" ry="2.6" transform="rotate(-25 190.70000000000002 70.3)" fill="#0a0a0a" opacity="1" filter="url(#b3)"/>
<ellipse cx="190.70000000000002" cy="71.7" rx="1.4" ry="0.6" fill="#bbb" filter="url(#b3)"/>
<ellipse cx="189.8" cy="71.7" rx="10.0" ry="6.8" transform="rotate(-32 190.4 70.7)" fill="none" stroke="#888" stroke-width="0.35"/>
<ellipse cx="189.8" cy="71.7" rx="7.6" ry="5.0" transform="rotate(-32 190.4 70.7)" fill="none" stroke="#666" stroke-width="0.35"/>
<ellipse cx="189.8" cy="71.7" rx="5.2" ry="3.4" transform="rotate(-32 190.4 70.7)" fill="none" stroke="#444" stroke-width="0.35"/>
<path d="M200.5,66.9 L219.3,71.1 L219.8,71.9 L201.5,76.1 Z" fill="#f7f7f7" filter="url(#b3)"/>
<path d="M175.5,73.3 Q174.6,71.3 176.6,70.5 L197.5,62.1 Q199.5,61.3 200.4,63.3 L200.6,63.8 Q201.5,65.8 203.6,66.4 L218.6,70.7 Q219.3,70.9 219.8,71.4 L219.8,71.4 Q220.3,71.9 219.6,72.1 L203.6,75.8 Q201.5,76.3 199.8,77.7 L193.9,82.7 Q192.2,84.1 190.0,84.0 L184.6,83.7 Q182.5,83.6 180.8,82.5 L180.8,82.4 Q179.0,81.3 178.2,79.4 Z" fill="none" stroke="#fff" stroke-width="2.4"/>
</g>
<path d="M226.1 71.6h0.6v0.6h-0.6zM226.5 70.9h0.6v0.6h-0.6zM235.2 74.8h0.6v0.6h-0.6zM221.4 71.0h0.6v0.6h-0.6zM224.5 71.3h0.6v0.6h-0.6zM233.2 72.8h0.6v0.6h-0.6zM218.0 74.2h0.6v0.6h-0.6zM225.0 67.1h0.6v0.6h-0.6zM217.6 69.9h0.6v0.6h-0.6zM227.7 69.9h0.6v0.6h-0.6zM221.6 70.0h0.6v0.6h-0.6zM228.4 70.3h0.6v0.6h-0.6zM220.5 72.6h0.6v0.6h-0.6zM218.8 69.8h0.6v0.6h-0.6zM218.1 72.1h0.6v0.6h-0.6zM230.2 72.5h0.6v0.6h-0.6zM221.7 75.6h0.6v0.6h-0.6zM231.7 73.0h0.6v0.6h-0.6zM224.5 70.6h0.6v0.6h-0.6zM232.4 72.1h0.6v0.6h-0.6zM228.9 70.1h0.6v0.6h-0.6zM228.7 72.8h0.6v0.6h-0.6zM231.0 74.2h0.6v0.6h-0.6zM222.8 70.1h0.6v0.6h-0.6zM224.0 71.5h0.6v0.6h-0.6zM214.7 74.2h0.6v0.6h-0.6zM223.7 70.9h0.6v0.6h-0.6zM216.8 72.2h0.6v0.6h-0.6zM225.9 69.8h0.6v0.6h-0.6zM220.2 70.0h0.6v0.6h-0.6zM227.5 71.0h0.6v0.6h-0.6zM229.8 77.0h0.6v0.6h-0.6zM216.9 70.9h0.6v0.6h-0.6zM221.2 70.7h0.6v0.6h-0.6zM220.2 70.6h0.6v0.6h-0.6zM232.0 71.9h0.6v0.6h-0.6zM232.7 72.7h0.6v0.6h-0.6zM224.2 76.5h0.6v0.6h-0.6zM216.1 74.9h0.6v0.6h-0.6zM222.2 73.3h0.6v0.6h-0.6zM207.5 68.2h0.6v0.6h-0.6zM219.6 71.3h0.6v0.6h-0.6zM228.1 67.4h0.6v0.6h-0.6zM225.2 74.0h0.6v0.6h-0.6zM227.5 71.3h0.6v0.6h-0.6zM216.5 70.8h0.6v0.6h-0.6zM222.1 71.4h0.6v0.6h-0.6zM230.1 71.7h0.6v0.6h-0.6zM228.3 73.0h0.6v0.6h-0.6zM227.4 70.1h0.6v0.6h-0.6zM221.8 72.2h0.6v0.6h-0.6zM228.6 71.3h0.6v0.6h-0.6zM213.4 70.4h0.6v0.6h-0.6zM218.1 70.0h0.6v0.6h-0.6zM220.1 74.5h0.6v0.6h-0.6zM230.6 69.9h0.6v0.6h-0.6zM226.3 75.4h0.6v0.6h-0.6zM219.4 73.7h0.6v0.6h-0.6zM224.4 71.0h0.6v0.6h-0.6zM223.1 73.7h0.6v0.6h-0.6zM223.5 68.8h0.6v0.6h-0.6zM232.2 68.5h0.6v0.6h-0.6zM231.5 69.4h0.6v0.6h-0.6zM222.8 71.1h0.6v0.6h-0.6zM220.5 71.2h0.6v0.6h-0.6zM228.8 71.0h0.6v0.6h-0.6zM226.1 72.3h0.6v0.6h-0.6zM234.2 67.7h0.6v0.6h-0.6zM232.8 69.2h0.6v0.6h-0.6zM226.6 70.6h0.6v0.6h-0.6zM225.6 71.2h0.6v0.6h-0.6zM220.9 69.3h0.6v0.6h-0.6zM220.6 68.9h0.6v0.6h-0.6zM219.9 69.6h0.6v0.6h-0.6zM224.0 72.0h0.6v0.6h-0.6zM223.8 73.3h0.6v0.6h-0.6zM232.0 73.5h0.6v0.6h-0.6zM224.1 69.8h0.6v0.6h-0.6zM225.5 70.3h0.6v0.6h-0.6zM218.3 69.8h0.6v0.6h-0.6zM230.5 67.7h0.6v0.6h-0.6zM232.4 71.2h0.6v0.6h-0.6zM225.0 72.8h0.6v0.6h-0.6zM231.7 74.5h0.6v0.6h-0.6zM218.2 74.1h0.6v0.6h-0.6zM235.0 72.7h0.6v0.6h-0.6zM229.7 74.9h0.6v0.6h-0.6zM232.2 72.1h0.6v0.6h-0.6zM222.1 72.3h0.6v0.6h-0.6zM229.7 72.4h0.6v0.6h-0.6zM220.7 69.9h0.6v0.6h-0.6zM222.0 71.3h0.6v0.6h-0.6zM222.3 73.7h0.6v0.6h-0.6zM225.9 69.2h0.6v0.6h-0.6zM227.8 73.6h0.6v0.6h-0.6zM230.0 73.0h0.6v0.6h-0.6zM216.6 72.4h0.6v0.6h-0.6zM235.1 72.2h0.6v0.6h-0.6zM232.0 73.7h0.6v0.6h-0.6zM224.3 70.3h0.6v0.6h-0.6zM226.2 72.3h0.6v0.6h-0.6zM230.9 67.0h0.6v0.6h-0.6zM229.7 73.7h0.6v0.6h-0.6zM214.8 70.2h0.6v0.6h-0.6zM232.0 74.2h0.6v0.6h-0.6zM213.5 73.2h0.6v0.6h-0.6zM234.0 71.8h0.6v0.6h-0.6zM229.4 74.0h0.6v0.6h-0.6zM226.1 70.0h0.6v0.6h-0.6zM218.1 76.7h0.6v0.6h-0.6zM228.0 70.3h0.6v0.6h-0.6zM225.4 71.4h0.6v0.6h-0.6zM223.9 69.7h0.6v0.6h-0.6zM227.5 74.7h0.6v0.6h-0.6zM223.5 75.8h0.6v0.6h-0.6zM220.4 68.1h0.6v0.6h-0.6zM233.0 74.9h0.6v0.6h-0.6zM217.7 74.2h0.6v0.6h-0.6zM231.5 74.1h0.6v0.6h-0.6zM226.0 74.6h0.6v0.6h-0.6zM208.3 69.5h0.6v0.6h-0.6zM226.8 71.7h0.6v0.6h-0.6zM219.2 68.8h0.6v0.6h-0.6zM223.7 68.9h0.6v0.6h-0.6zM218.8 70.3h0.6v0.6h-0.6zM219.0 76.8h0.6v0.6h-0.6zM227.7 70.7h0.6v0.6h-0.6zM229.0 76.1h0.6v0.6h-0.6zM220.4 72.9h0.6v0.6h-0.6zM226.4 69.4h0.6v0.6h-0.6zM233.5 75.4h0.6v0.6h-0.6zM226.8 71.0h0.6v0.6h-0.6zM227.2 70.4h0.6v0.6h-0.6zM225.9 74.3h0.6v0.6h-0.6zM222.6 72.3h0.6v0.6h-0.6zM226.9 71.3h0.6v0.6h-0.6zM218.7 70.2h0.6v0.6h-0.6zM223.3 72.6h0.6v0.6h-0.6zM232.0 72.5h0.6v0.6h-0.6zM231.3 74.8h0.6v0.6h-0.6zM225.8 73.6h0.6v0.6h-0.6zM222.1 68.5h0.6v0.6h-0.6zM226.9 73.0h0.6v0.6h-0.6zM214.7 73.7h0.6v0.6h-0.6zM217.4 72.8h0.6v0.6h-0.6zM232.5 74.6h0.6v0.6h-0.6zM223.4 70.8h0.6v0.6h-0.6zM229.6 70.1h0.6v0.6h-0.6zM231.6 69.9h0.6v0.6h-0.6zM227.1 67.4h0.6v0.6h-0.6zM231.7 70.7h0.6v0.6h-0.6zM224.3 71.3h0.6v0.6h-0.6zM232.2 69.2h0.6v0.6h-0.6zM229.8 69.3h0.6v0.6h-0.6zM220.7 69.3h0.6v0.6h-0.6zM227.4 71.3h0.6v0.6h-0.6zM225.6 72.9h0.6v0.6h-0.6zM212.8 66.6h0.6v0.6h-0.6zM225.5 73.7h0.6v0.6h-0.6zM224.9 69.4h0.6v0.6h-0.6zM223.7 69.6h0.6v0.6h-0.6zM214.9 73.2h0.6v0.6h-0.6zM224.3 71.8h0.6v0.6h-0.6zM226.6 68.7h0.6v0.6h-0.6zM227.4 76.2h0.6v0.6h-0.6zM218.7 69.9h0.6v0.6h-0.6zM231.3 72.8h0.6v0.6h-0.6zM218.0 72.2h0.6v0.6h-0.6zM225.1 78.3h0.6v0.6h-0.6zM210.8 80.1h0.6v0.6h-0.6zM215.4 80.0h0.6v0.6h-0.6zM228.5 83.5h0.6v0.6h-0.6zM211.6 82.7h0.6v0.6h-0.6zM227.5 81.8h0.6v0.6h-0.6zM226.7 83.7h0.6v0.6h-0.6zM215.6 75.0h0.6v0.6h-0.6zM230.7 82.2h0.6v0.6h-0.6zM212.6 79.0h0.6v0.6h-0.6zM225.5 82.0h0.6v0.6h-0.6zM221.6 77.3h0.6v0.6h-0.6zM210.7 79.1h0.6v0.6h-0.6zM217.8 82.7h0.6v0.6h-0.6zM220.5 74.7h0.6v0.6h-0.6zM218.0 77.3h0.6v0.6h-0.6zM202.9 79.3h0.6v0.6h-0.6zM234.1 83.0h0.6v0.6h-0.6zM233.2 77.1h0.6v0.6h-0.6zM200.3 82.7h0.6v0.6h-0.6zM232.4 76.8h0.6v0.6h-0.6zM217.8 77.4h0.6v0.6h-0.6zM203.4 79.9h0.6v0.6h-0.6zM228.0 81.0h0.6v0.6h-0.6zM214.3 83.3h0.6v0.6h-0.6zM224.2 83.3h0.6v0.6h-0.6zM228.3 76.9h0.6v0.6h-0.6zM218.0 81.9h0.6v0.6h-0.6zM200.8 80.8h0.6v0.6h-0.6zM228.1 78.2h0.6v0.6h-0.6zM223.6 82.2h0.6v0.6h-0.6zM231.2 83.5h0.6v0.6h-0.6zM208.6 79.2h0.6v0.6h-0.6zM226.8 83.6h0.6v0.6h-0.6zM229.9 75.6h0.6v0.6h-0.6zM211.6 76.0h0.6v0.6h-0.6zM213.5 82.1h0.6v0.6h-0.6zM210.8 77.4h0.6v0.6h-0.6zM199.2 80.3h0.6v0.6h-0.6zM207.2 79.4h0.6v0.6h-0.6zM210.7 75.8h0.6v0.6h-0.6zM202.8 82.0h0.6v0.6h-0.6zM226.1 81.9h0.6v0.6h-0.6zM214.1 75.8h0.6v0.6h-0.6zM219.1 76.9h0.6v0.6h-0.6zM209.1 82.5h0.6v0.6h-0.6zM211.8 83.6h0.6v0.6h-0.6zM225.7 83.2h0.6v0.6h-0.6zM215.6 79.4h0.6v0.6h-0.6zM220.1 78.0h0.6v0.6h-0.6zM214.0 78.8h0.6v0.6h-0.6zM218.7 76.1h0.6v0.6h-0.6zM230.8 79.4h0.6v0.6h-0.6zM208.5 76.7h0.6v0.6h-0.6zM217.4 76.0h0.6v0.6h-0.6zM223.3 78.2h0.6v0.6h-0.6zM202.1 75.0h0.6v0.6h-0.6zM233.1 79.1h0.6v0.6h-0.6zM216.7 81.4h0.6v0.6h-0.6zM207.7 80.9h0.6v0.6h-0.6zM225.9 84.2h0.6v0.6h-0.6zM227.9 83.3h0.6v0.6h-0.6zM221.3 80.8h0.6v0.6h-0.6zM231.4 83.5h0.6v0.6h-0.6zM202.1 78.8h0.6v0.6h-0.6zM217.7 82.4h0.6v0.6h-0.6zM225.3 77.2h0.6v0.6h-0.6zM231.5 79.7h0.6v0.6h-0.6zM221.7 84.3h0.6v0.6h-0.6zM220.3 80.4h0.6v0.6h-0.6zM174.8 78.3h0.6v0.6h-0.6zM174.2 81.9h0.6v0.6h-0.6zM176.0 80.7h0.6v0.6h-0.6zM174.7 85.2h0.6v0.6h-0.6zM172.9 75.6h0.6v0.6h-0.6zM176.4 77.9h0.6v0.6h-0.6zM175.2 71.9h0.6v0.6h-0.6zM174.7 79.5h0.6v0.6h-0.6zM175.7 79.1h0.6v0.6h-0.6zM171.9 78.8h0.6v0.6h-0.6zM176.2 67.8h0.6v0.6h-0.6zM175.6 74.9h0.6v0.6h-0.6zM174.7 78.9h0.6v0.6h-0.6zM177.0 72.0h0.6v0.6h-0.6zM177.4 74.0h0.6v0.6h-0.6zM172.8 76.5h0.6v0.6h-0.6zM173.4 80.0h0.6v0.6h-0.6zM178.1 77.5h0.6v0.6h-0.6zM177.8 73.9h0.6v0.6h-0.6zM173.5 82.2h0.6v0.6h-0.6zM172.6 75.6h0.6v0.6h-0.6zM173.7 75.8h0.6v0.6h-0.6zM174.0 71.4h0.6v0.6h-0.6zM171.8 74.4h0.6v0.6h-0.6zM175.1 81.6h0.6v0.6h-0.6zM172.4 70.2h0.6v0.6h-0.6zM172.6 77.9h0.6v0.6h-0.6zM176.8 81.9h0.6v0.6h-0.6zM173.6 76.4h0.6v0.6h-0.6zM174.9 79.5h0.6v0.6h-0.6zM176.3 72.7h0.6v0.6h-0.6zM176.6 84.9h0.6v0.6h-0.6zM174.3 83.8h0.6v0.6h-0.6zM175.1 79.5h0.6v0.6h-0.6zM173.3 69.5h0.6v0.6h-0.6zM178.5 73.1h0.6v0.6h-0.6zM176.3 83.2h0.6v0.6h-0.6zM190.8 31.4h0.6v0.6h-0.6zM176.3 36.7h0.6v0.6h-0.6zM178.7 43.0h0.6v0.6h-0.6zM193.9 31.3h0.6v0.6h-0.6zM187.0 31.0h0.6v0.6h-0.6zM191.2 50.1h0.6v0.6h-0.6zM193.1 53.3h0.6v0.6h-0.6zM189.8 40.3h0.6v0.6h-0.6zM179.1 40.9h0.6v0.6h-0.6zM192.2 34.6h0.6v0.6h-0.6zM219.4 64.9h0.6v0.6h-0.6zM221.2 64.5h0.6v0.6h-0.6zM232.3 66.2h0.6v0.6h-0.6zM204.3 62.9h0.6v0.6h-0.6zM231.5 64.3h0.6v0.6h-0.6zM234.1 64.1h0.6v0.6h-0.6zM213.9 65.6h0.6v0.6h-0.6zM225.8 62.0h0.6v0.6h-0.6zM228.9 60.5h0.6v0.6h-0.6zM223.4 61.0h0.6v0.6h-0.6zM212.1 61.7h0.6v0.6h-0.6zM222.6 67.2h0.6v0.6h-0.6zM230.5 66.0h0.6v0.6h-0.6zM206.4 66.3h0.6v0.6h-0.6zM218.1 63.9h0.6v0.6h-0.6zM203.7 61.1h0.6v0.6h-0.6zM229.5 64.0h0.6v0.6h-0.6zM227.4 67.2h0.6v0.6h-0.6zM204.4 64.4h0.6v0.6h-0.6zM226.4 65.4h0.6v0.6h-0.6zM224.7 63.3h0.6v0.6h-0.6zM207.0 61.5h0.6v0.6h-0.6zM219.5 65.3h0.6v0.6h-0.6zM224.6 64.2h0.6v0.6h-0.6zM213.5 63.1h0.6v0.6h-0.6zM218.8 62.4h0.6v0.6h-0.6zM233.6 65.9h0.6v0.6h-0.6zM223.0 62.8h0.6v0.6h-0.6zM218.8 64.9h0.6v0.6h-0.6zM205.1 62.4h0.6v0.6h-0.6zM206.8 66.3h0.6v0.6h-0.6zM229.7 63.3h0.6v0.6h-0.6zM226.3 64.1h0.6v0.6h-0.6zM229.2 67.7h0.6v0.6h-0.6zM221.2 66.0h0.6v0.6h-0.6z" fill="#333" opacity="0.55"/>
<path d="M175.5,73.3 Q174.6,71.3 176.6,70.5 L197.5,62.1 Q199.5,61.3 200.4,63.3 L200.6,63.8 Q201.5,65.8 203.6,66.4 L218.6,70.7 Q219.3,70.9 219.8,71.4 L219.8,71.4 Q220.3,71.9 219.6,72.1 L203.6,75.8 Q201.5,76.3 199.8,77.7 L193.9,82.7 Q192.2,84.1 190.0,84.0 L184.6,83.7 Q182.5,83.6 180.8,82.5 L180.8,82.4 Q179.0,81.3 178.2,79.4 Z" fill="none" stroke="#1a1a1a" stroke-width="1.0"/>
<polygon points="173.6,26.3 200.5,26.3 200.5,56.8 173.6,68.1" fill="none" stroke="#222" stroke-width="1.0" stroke-linejoin="miter"/>
<polygon points="210.7,59.5 233.9,59.5 233.9,84.7 191.4,84.7" fill="none" stroke="#222" stroke-width="1.0" stroke-linejoin="miter"/>
<path d="M170.3,21.8 H235.7 V87.0" fill="none" stroke="#aaa" stroke-width="0.9"/>
<path d="M170.3,21.8 V87.0 H235.7" fill="none" stroke="#888" stroke-width="1.0"/>
<line x1="169.10000000000002" y1="21.8" x2="170.3" y2="21.8" stroke="#777" stroke-width="0.6"/>
<text x="167.2" y="23.7" font-size="2.8" font-weight="bold" text-anchor="end" fill="#444" textLength="7.5" lengthAdjust="spacingAndGlyphs">10000</text>
<line x1="169.10000000000002" y1="38.1" x2="170.3" y2="38.1" stroke="#777" stroke-width="0.6"/>
<text x="167.2" y="40.0" font-size="2.8" font-weight="bold" text-anchor="end" fill="#444" textLength="6.0" lengthAdjust="spacingAndGlyphs">1000</text>
<line x1="169.10000000000002" y1="54.4" x2="170.3" y2="54.4" stroke="#777" stroke-width="0.6"/>
<text x="167.2" y="56.3" font-size="2.8" font-weight="bold" text-anchor="end" fill="#444" textLength="4.5" lengthAdjust="spacingAndGlyphs">100</text>
<line x1="169.10000000000002" y1="70.7" x2="170.3" y2="70.7" stroke="#777" stroke-width="0.6"/>
<text x="167.2" y="72.6" font-size="2.8" font-weight="bold" text-anchor="end" fill="#444" textLength="3.0" lengthAdjust="spacingAndGlyphs">10</text>
<line x1="169.10000000000002" y1="87.0" x2="170.3" y2="87.0" stroke="#777" stroke-width="0.6"/>
<text x="167.2" y="88.9" font-size="2.8" font-weight="bold" text-anchor="end" fill="#444" textLength="1.5" lengthAdjust="spacingAndGlyphs">1</text>
<line x1="170.3" y1="87.0" x2="170.3" y2="88.2" stroke="#777" stroke-width="0.6"/>
<text x="170.3" y="92.3" font-size="2.8" font-weight="bold" text-anchor="middle" fill="#444" textLength="1.5" lengthAdjust="spacingAndGlyphs">1</text>
<line x1="186.7" y1="87.0" x2="186.7" y2="88.2" stroke="#777" stroke-width="0.6"/>
<text x="186.7" y="92.3" font-size="2.8" font-weight="bold" text-anchor="middle" fill="#444" textLength="3.0" lengthAdjust="spacingAndGlyphs">10</text>
<line x1="203.0" y1="87.0" x2="203.0" y2="88.2" stroke="#777" stroke-width="0.6"/>
<text x="203.0" y="92.3" font-size="2.8" font-weight="bold" text-anchor="middle" fill="#444" textLength="4.5" lengthAdjust="spacingAndGlyphs">100</text>
<line x1="219.3" y1="87.0" x2="219.3" y2="88.2" stroke="#777" stroke-width="0.6"/>
<text x="219.3" y="92.3" font-size="2.8" font-weight="bold" text-anchor="middle" fill="#444" textLength="6.0" lengthAdjust="spacingAndGlyphs">1000</text>
<line x1="235.7" y1="87.0" x2="235.7" y2="88.2" stroke="#777" stroke-width="0.6"/>
<text x="235.7" y="92.3" font-size="2.8" font-weight="bold" text-anchor="middle" fill="#444" textLength="7.5" lengthAdjust="spacingAndGlyphs">10000</text>
<text transform="translate(205.46,33.94) scale(0.0597,0.0648)" font-size="100" font-weight="bold" fill="#000" stroke="#000" stroke-width="3.53">&lt;0.1</text>
<text transform="translate(223.72,55.73) scale(0.0606,0.0676)" font-size="100" font-weight="bold" fill="#000" stroke="#000" stroke-width="3.43">5.9</text>
<text x="39.8" y="16.8" font-size="7.6" font-weight="bold" fill="#000" textLength="11.1" lengthAdjust="spacingAndGlyphs">WT</text>
<text x="115.1" y="18.0" font-size="7.6" font-weight="bold" fill="#000" textLength="16.3" lengthAdjust="spacingAndGlyphs">IL-17</text>
<text x="133.8" y="14.6" font-size="4.3" font-weight="bold" fill="#000" textLength="4.9" lengthAdjust="spacingAndGlyphs">-/-</text>
<text x="176.6" y="19.5" font-size="7.8" font-weight="bold" fill="#000" textLength="16.7" lengthAdjust="spacingAndGlyphs">IL-17</text>
<text x="195.0" y="16.6" font-size="4.3" font-weight="bold" fill="#000" textLength="4.1" lengthAdjust="spacingAndGlyphs">-/-</text>
<text x="199.3" y="19.5" font-size="7.8" font-weight="bold" fill="#000" textLength="21.1" lengthAdjust="spacingAndGlyphs">+IL-17</text>
<line x1="3.8" y1="26.3" x2="3.8" y2="40.2" stroke="#222" stroke-width="0.9"/>
<path d="M1.7999999999999998,26.8 L3.8,20.8 L5.8,26.8 Z" fill="#111"/>
<line x1="3.8" y1="63.3" x2="3.8" y2="87.3" stroke="#222" stroke-width="0.9"/>
<text transform="translate(5.70,61.62) rotate(-90) scale(0.0743,0.0580)" font-size="100" font-weight="bold" fill="#000" stroke="#000" stroke-width="3.33">IL-17</text>
<line x1="13.2" y1="97.7" x2="111.5" y2="97.7" stroke="#222" stroke-width="0.9"/>
<line x1="138.5" y1="97.7" x2="233.6" y2="97.7" stroke="#222" stroke-width="0.9"/>
<path d="M233.1,95.9 L239.6,97.7 L233.1,99.5 Z" fill="#111"/>
<text transform="translate(114.43,99.65) scale(0.0678,0.0644)" font-size="100" font-weight="bold" fill="#000" stroke="#000" stroke-width="3.33">IFN-&#947;</text>
<text transform="translate(0.48,227.90) scale(0.1033,0.1116)" font-size="100" font-weight="bold" fill="#000" stroke="#000" stroke-width="2.05">D</text>
<ellipse cx="30.9" cy="289.3" rx="13" ry="5.5" transform="rotate(-10 30.9 289.3)" fill="#b5b5b5" opacity="0.9" filter="url(#b2)"/>
<ellipse cx="59.5" cy="279.7" rx="13.5" ry="8.7" transform="rotate(-4 59.5 279.7)" fill="#8a8a8a" opacity="0.95" filter="url(#b2)"/>
<ellipse cx="59.0" cy="279.5" rx="10.5" ry="6.4" transform="rotate(-4 59.0 279.5)" fill="#555" opacity="0.9" filter="url(#b1)"/>
<ellipse cx="41.9" cy="279.0" rx="20" ry="5.5" transform="rotate(-30 41.9 279.0)" fill="#9a9a9a" opacity="0.95" filter="url(#b2)"/>
<ellipse cx="42.9" cy="278.5" rx="14" ry="3.2" transform="rotate(-30 42.9 278.5)" fill="#3a3a3a" opacity="0.95" filter="url(#b1)"/>
<ellipse cx="44.4" cy="277.7" rx="8.5" ry="1.6" transform="rotate(-30 44.4 277.7)" fill="#111" opacity="0.9" filter="url(#b3)"/>
<ellipse cx="46.4" cy="279.1" rx="5.0" ry="0.75" transform="rotate(-30 46.4 279.1)" fill="#eee" opacity="0.9"/>
<path d="M48.0 280.8h0.6v0.6h-0.6zM66.2 275.8h0.6v0.6h-0.6zM63.6 255.1h0.6v0.6h-0.6zM57.4 280.7h0.6v0.6h-0.6zM51.8 267.6h0.6v0.6h-0.6zM56.5 281.7h0.6v0.6h-0.6zM61.8 287.4h0.6v0.6h-0.6zM63.4 281.6h0.6v0.6h-0.6zM59.9 277.3h0.6v0.6h-0.6zM65.1 278.4h0.6v0.6h-0.6zM53.9 279.3h0.6v0.6h-0.6zM59.5 276.2h0.6v0.6h-0.6zM46.5 276.7h0.6v0.6h-0.6zM63.2 273.5h0.6v0.6h-0.6zM59.5 287.9h0.6v0.6h-0.6zM55.0 280.1h0.6v0.6h-0.6zM66.7 286.0h0.6v0.6h-0.6zM62.9 278.1h0.6v0.6h-0.6zM37.8 281.5h0.6v0.6h-0.6zM58.2 278.8h0.6v0.6h-0.6zM47.7 283.7h0.6v0.6h-0.6zM66.0 285.1h0.6v0.6h-0.6zM76.0 280.7h0.6v0.6h-0.6zM54.0 275.7h0.6v0.6h-0.6zM58.3 274.7h0.6v0.6h-0.6zM56.8 291.2h0.6v0.6h-0.6zM60.4 278.0h0.6v0.6h-0.6zM62.5 277.8h0.6v0.6h-0.6zM67.8 289.3h0.6v0.6h-0.6zM51.3 287.7h0.6v0.6h-0.6zM69.5 283.0h0.6v0.6h-0.6zM51.2 277.7h0.6v0.6h-0.6zM60.8 295.7h0.6v0.6h-0.6zM66.5 282.2h0.6v0.6h-0.6zM63.3 283.4h0.6v0.6h-0.6zM51.2 279.2h0.6v0.6h-0.6zM52.5 270.8h0.6v0.6h-0.6zM54.2 271.2h0.6v0.6h-0.6zM57.8 282.8h0.6v0.6h-0.6zM66.4 282.2h0.6v0.6h-0.6zM48.6 278.9h0.6v0.6h-0.6zM60.9 272.0h0.6v0.6h-0.6zM61.9 270.1h0.6v0.6h-0.6zM61.9 277.6h0.6v0.6h-0.6zM60.8 270.1h0.6v0.6h-0.6zM69.2 285.5h0.6v0.6h-0.6zM61.9 287.6h0.6v0.6h-0.6zM62.4 285.7h0.6v0.6h-0.6zM70.7 275.3h0.6v0.6h-0.6zM44.0 274.9h0.6v0.6h-0.6zM66.0 256.4h0.6v0.6h-0.6zM55.9 276.1h0.6v0.6h-0.6zM55.9 278.9h0.6v0.6h-0.6zM51.4 286.9h0.6v0.6h-0.6zM44.8 284.8h0.6v0.6h-0.6zM55.5 284.1h0.6v0.6h-0.6zM53.1 281.7h0.6v0.6h-0.6zM61.8 284.2h0.6v0.6h-0.6zM47.9 290.3h0.6v0.6h-0.6zM67.9 272.3h0.6v0.6h-0.6zM59.8 276.8h0.6v0.6h-0.6zM55.7 270.8h0.6v0.6h-0.6zM53.5 291.1h0.6v0.6h-0.6zM52.8 289.0h0.6v0.6h-0.6zM50.1 285.5h0.6v0.6h-0.6zM53.7 272.2h0.6v0.6h-0.6zM58.1 281.2h0.6v0.6h-0.6zM56.6 278.5h0.6v0.6h-0.6zM47.9 281.1h0.6v0.6h-0.6zM56.0 278.8h0.6v0.6h-0.6zM51.8 283.8h0.6v0.6h-0.6zM59.0 277.3h0.6v0.6h-0.6zM71.7 285.0h0.6v0.6h-0.6zM62.6 281.4h0.6v0.6h-0.6zM55.6 278.2h0.6v0.6h-0.6zM46.3 279.9h0.6v0.6h-0.6zM47.7 277.6h0.6v0.6h-0.6zM46.2 286.1h0.6v0.6h-0.6zM63.1 277.9h0.6v0.6h-0.6zM52.6 282.3h0.6v0.6h-0.6zM58.3 277.3h0.6v0.6h-0.6zM53.0 270.3h0.6v0.6h-0.6zM59.0 286.0h0.6v0.6h-0.6zM67.7 272.4h0.6v0.6h-0.6zM53.3 284.8h0.6v0.6h-0.6zM55.7 282.9h0.6v0.6h-0.6zM51.6 269.2h0.6v0.6h-0.6zM64.0 273.3h0.6v0.6h-0.6zM50.4 276.9h0.6v0.6h-0.6zM49.6 274.9h0.6v0.6h-0.6zM47.6 272.6h0.6v0.6h-0.6zM48.1 285.5h0.6v0.6h-0.6zM61.3 278.2h0.6v0.6h-0.6zM76.6 281.6h0.6v0.6h-0.6zM50.7 277.5h0.6v0.6h-0.6zM64.9 281.7h0.6v0.6h-0.6zM59.5 274.9h0.6v0.6h-0.6zM50.1 280.2h0.6v0.6h-0.6zM56.2 284.0h0.6v0.6h-0.6zM56.3 280.4h0.6v0.6h-0.6zM52.9 277.2h0.6v0.6h-0.6zM71.5 272.0h0.6v0.6h-0.6zM44.4 281.8h0.6v0.6h-0.6zM60.9 282.2h0.6v0.6h-0.6zM60.3 278.1h0.6v0.6h-0.6zM53.6 275.1h0.6v0.6h-0.6zM59.3 283.6h0.6v0.6h-0.6zM59.0 277.9h0.6v0.6h-0.6zM61.1 282.1h0.6v0.6h-0.6zM63.1 282.3h0.6v0.6h-0.6zM42.5 263.5h0.6v0.6h-0.6zM68.7 280.3h0.6v0.6h-0.6zM74.1 274.4h0.6v0.6h-0.6zM65.5 288.9h0.6v0.6h-0.6zM65.2 277.9h0.6v0.6h-0.6zM47.6 275.3h0.6v0.6h-0.6zM57.1 278.6h0.6v0.6h-0.6zM52.2 281.4h0.6v0.6h-0.6zM53.6 276.5h0.6v0.6h-0.6zM64.9 279.3h0.6v0.6h-0.6zM51.7 271.2h0.6v0.6h-0.6zM57.0 278.5h0.6v0.6h-0.6zM44.5 285.9h0.6v0.6h-0.6zM57.6 293.3h0.6v0.6h-0.6zM58.9 284.7h0.6v0.6h-0.6zM53.0 282.1h0.6v0.6h-0.6zM53.2 288.2h0.6v0.6h-0.6zM71.9 286.1h0.6v0.6h-0.6zM49.9 291.6h0.6v0.6h-0.6zM50.8 287.7h0.6v0.6h-0.6zM52.1 279.5h0.6v0.6h-0.6zM66.7 281.3h0.6v0.6h-0.6zM73.2 280.4h0.6v0.6h-0.6zM60.5 281.9h0.6v0.6h-0.6zM52.9 281.6h0.6v0.6h-0.6zM54.6 274.9h0.6v0.6h-0.6zM64.9 265.5h0.6v0.6h-0.6zM51.2 275.8h0.6v0.6h-0.6zM67.7 265.9h0.6v0.6h-0.6zM68.2 279.9h0.6v0.6h-0.6zM58.5 280.0h0.6v0.6h-0.6zM62.1 268.5h0.6v0.6h-0.6zM63.6 284.3h0.6v0.6h-0.6zM69.5 285.2h0.6v0.6h-0.6zM50.5 281.0h0.6v0.6h-0.6zM67.1 290.7h0.6v0.6h-0.6zM56.0 292.7h0.6v0.6h-0.6zM52.1 272.2h0.6v0.6h-0.6zM59.1 286.9h0.6v0.6h-0.6zM56.6 283.0h0.6v0.6h-0.6zM51.0 283.2h0.6v0.6h-0.6zM46.8 286.9h0.6v0.6h-0.6zM51.0 275.5h0.6v0.6h-0.6zM68.2 275.5h0.6v0.6h-0.6zM71.8 273.7h0.6v0.6h-0.6zM62.4 274.7h0.6v0.6h-0.6zM66.5 278.9h0.6v0.6h-0.6zM53.8 270.5h0.6v0.6h-0.6zM57.1 273.0h0.6v0.6h-0.6zM60.2 283.8h0.6v0.6h-0.6zM50.2 279.9h0.6v0.6h-0.6zM51.0 282.9h0.6v0.6h-0.6zM58.0 267.3h0.6v0.6h-0.6zM55.4 274.9h0.6v0.6h-0.6zM50.2 276.7h0.6v0.6h-0.6zM60.8 280.1h0.6v0.6h-0.6zM55.9 276.2h0.6v0.6h-0.6zM65.7 285.9h0.6v0.6h-0.6zM57.9 279.6h0.6v0.6h-0.6zM55.8 280.2h0.6v0.6h-0.6zM58.9 280.0h0.6v0.6h-0.6zM57.0 284.8h0.6v0.6h-0.6zM53.0 277.1h0.6v0.6h-0.6zM55.5 287.7h0.6v0.6h-0.6zM63.6 282.8h0.6v0.6h-0.6zM62.7 280.8h0.6v0.6h-0.6zM67.3 279.8h0.6v0.6h-0.6zM46.0 284.1h0.6v0.6h-0.6zM55.5 287.0h0.6v0.6h-0.6zM55.4 286.5h0.6v0.6h-0.6zM59.4 282.5h0.6v0.6h-0.6zM55.1 286.1h0.6v0.6h-0.6zM54.4 281.0h0.6v0.6h-0.6zM64.1 288.1h0.6v0.6h-0.6zM59.3 279.8h0.6v0.6h-0.6zM48.9 266.5h0.6v0.6h-0.6zM68.1 288.5h0.6v0.6h-0.6zM65.2 280.3h0.6v0.6h-0.6zM53.5 272.4h0.6v0.6h-0.6zM63.9 278.4h0.6v0.6h-0.6zM52.4 274.3h0.6v0.6h-0.6zM66.8 293.7h0.6v0.6h-0.6zM56.6 283.4h0.6v0.6h-0.6zM51.7 269.8h0.6v0.6h-0.6zM55.5 283.8h0.6v0.6h-0.6zM52.4 277.6h0.6v0.6h-0.6zM60.1 292.8h0.6v0.6h-0.6zM58.9 272.9h0.6v0.6h-0.6zM58.7 288.4h0.6v0.6h-0.6zM59.4 290.1h0.6v0.6h-0.6zM40.1 294.5h0.6v0.6h-0.6zM31.7 288.0h0.6v0.6h-0.6zM73.3 285.3h0.6v0.6h-0.6zM67.6 284.7h0.6v0.6h-0.6zM65.8 294.2h0.6v0.6h-0.6zM81.8 287.8h0.6v0.6h-0.6zM55.1 285.6h0.6v0.6h-0.6zM31.8 291.0h0.6v0.6h-0.6zM58.1 293.8h0.6v0.6h-0.6zM38.5 291.0h0.6v0.6h-0.6zM52.2 286.0h0.6v0.6h-0.6zM49.0 288.8h0.6v0.6h-0.6zM55.3 287.3h0.6v0.6h-0.6zM77.2 284.5h0.6v0.6h-0.6zM70.4 295.1h0.6v0.6h-0.6zM46.3 289.4h0.6v0.6h-0.6zM70.8 285.8h0.6v0.6h-0.6zM73.5 294.2h0.6v0.6h-0.6zM68.2 295.3h0.6v0.6h-0.6zM54.6 293.4h0.6v0.6h-0.6zM75.8 287.1h0.6v0.6h-0.6zM51.0 286.4h0.6v0.6h-0.6zM27.4 290.2h0.6v0.6h-0.6zM37.5 290.8h0.6v0.6h-0.6zM61.1 294.1h0.6v0.6h-0.6zM44.1 295.1h0.6v0.6h-0.6zM46.7 294.5h0.6v0.6h-0.6zM45.5 288.1h0.6v0.6h-0.6zM32.6 290.9h0.6v0.6h-0.6zM26.6 285.7h0.6v0.6h-0.6zM23.9 290.1h0.6v0.6h-0.6zM62.0 285.1h0.6v0.6h-0.6zM40.7 285.5h0.6v0.6h-0.6zM48.8 285.7h0.6v0.6h-0.6zM78.0 287.7h0.6v0.6h-0.6zM59.2 287.8h0.6v0.6h-0.6zM70.4 292.2h0.6v0.6h-0.6zM67.5 285.2h0.6v0.6h-0.6zM79.2 285.5h0.6v0.6h-0.6zM25.0 291.7h0.6v0.6h-0.6zM44.4 291.8h0.6v0.6h-0.6zM78.9 292.3h0.6v0.6h-0.6zM49.3 292.4h0.6v0.6h-0.6zM78.8 291.7h0.6v0.6h-0.6zM32.2 290.5h0.6v0.6h-0.6zM24.6 292.6h0.6v0.6h-0.6zM75.6 285.2h0.6v0.6h-0.6zM46.0 286.7h0.6v0.6h-0.6zM52.0 292.6h0.6v0.6h-0.6zM78.1 286.5h0.6v0.6h-0.6zM34.3 290.2h0.6v0.6h-0.6zM80.1 287.2h0.6v0.6h-0.6zM45.1 289.1h0.6v0.6h-0.6zM36.0 293.6h0.6v0.6h-0.6zM35.2 291.7h0.6v0.6h-0.6zM52.6 289.3h0.6v0.6h-0.6zM49.4 287.4h0.6v0.6h-0.6zM75.0 293.3h0.6v0.6h-0.6zM24.0 291.7h0.6v0.6h-0.6zM23.6 289.2h0.6v0.6h-0.6zM30.2 294.0h0.6v0.6h-0.6zM57.9 292.1h0.6v0.6h-0.6zM68.6 295.3h0.6v0.6h-0.6zM50.2 291.7h0.6v0.6h-0.6zM58.4 294.4h0.6v0.6h-0.6zM60.2 290.5h0.6v0.6h-0.6zM22.1 292.3h0.6v0.6h-0.6zM35.9 293.7h0.6v0.6h-0.6zM81.9 285.3h0.6v0.6h-0.6zM41.1 289.6h0.6v0.6h-0.6zM78.7 291.1h0.6v0.6h-0.6zM51.0 284.9h0.6v0.6h-0.6zM34.5 293.1h0.6v0.6h-0.6zM21.0 292.3h0.6v0.6h-0.6zM34.2 294.8h0.6v0.6h-0.6zM40.5 288.5h0.6v0.6h-0.6zM47.7 289.6h0.6v0.6h-0.6zM48.2 294.5h0.6v0.6h-0.6zM54.4 288.9h0.6v0.6h-0.6zM49.9 293.6h0.6v0.6h-0.6zM22.9 289.0h0.6v0.6h-0.6zM37.2 288.1h0.6v0.6h-0.6zM79.7 287.4h0.6v0.6h-0.6zM22.6 286.7h0.6v0.6h-0.6zM65.8 289.1h0.6v0.6h-0.6zM50.0 286.1h0.6v0.6h-0.6zM64.1 293.6h0.6v0.6h-0.6zM41.2 295.2h0.6v0.6h-0.6zM27.2 286.6h0.6v0.6h-0.6zM47.1 277.5h0.6v0.6h-0.6zM42.1 278.2h0.6v0.6h-0.6zM56.1 280.7h0.6v0.6h-0.6zM55.0 277.8h0.6v0.6h-0.6zM38.7 282.2h0.6v0.6h-0.6zM49.5 276.6h0.6v0.6h-0.6zM28.4 291.3h0.6v0.6h-0.6zM68.4 271.4h0.6v0.6h-0.6zM54.1 271.7h0.6v0.6h-0.6zM44.2 290.4h0.6v0.6h-0.6zM30.8 288.6h0.6v0.6h-0.6zM47.1 279.6h0.6v0.6h-0.6zM36.6 290.1h0.6v0.6h-0.6zM50.9 277.3h0.6v0.6h-0.6zM44.9 283.5h0.6v0.6h-0.6zM35.3 279.1h0.6v0.6h-0.6zM51.9 273.8h0.6v0.6h-0.6zM26.8 276.5h0.6v0.6h-0.6zM48.6 285.6h0.6v0.6h-0.6zM33.5 275.4h0.6v0.6h-0.6zM35.1 288.9h0.6v0.6h-0.6zM46.2 275.4h0.6v0.6h-0.6zM30.0 282.1h0.6v0.6h-0.6zM63.2 271.0h0.6v0.6h-0.6zM37.1 285.7h0.6v0.6h-0.6zM65.8 274.2h0.6v0.6h-0.6zM34.7 295.1h0.6v0.6h-0.6zM50.2 280.1h0.6v0.6h-0.6zM31.7 291.6h0.6v0.6h-0.6zM27.0 285.6h0.6v0.6h-0.6zM46.1 283.9h0.6v0.6h-0.6zM50.6 278.8h0.6v0.6h-0.6zM28.1 285.9h0.6v0.6h-0.6zM55.6 275.1h0.6v0.6h-0.6zM34.1 285.3h0.6v0.6h-0.6zM44.7 281.7h0.6v0.6h-0.6zM47.9 281.4h0.6v0.6h-0.6zM48.3 276.2h0.6v0.6h-0.6zM21.8 287.3h0.6v0.6h-0.6zM62.1 276.7h0.6v0.6h-0.6zM45.4 271.0h0.6v0.6h-0.6zM37.0 280.9h0.6v0.6h-0.6zM35.0 293.7h0.6v0.6h-0.6zM26.6 285.3h0.6v0.6h-0.6zM50.3 281.9h0.6v0.6h-0.6zM35.7 275.8h0.6v0.6h-0.6zM31.7 272.4h0.6v0.6h-0.6zM62.9 280.1h0.6v0.6h-0.6zM42.6 290.2h0.6v0.6h-0.6zM38.5 288.6h0.6v0.6h-0.6zM57.1 273.6h0.6v0.6h-0.6zM48.7 280.8h0.6v0.6h-0.6zM41.5 277.2h0.6v0.6h-0.6zM38.0 288.2h0.6v0.6h-0.6zM23.7 284.3h0.6v0.6h-0.6zM29.6 286.2h0.6v0.6h-0.6zM39.8 288.5h0.6v0.6h-0.6zM38.2 277.6h0.6v0.6h-0.6zM46.0 278.0h0.6v0.6h-0.6zM49.2 279.4h0.6v0.6h-0.6zM42.5 274.3h0.6v0.6h-0.6zM47.8 285.7h0.6v0.6h-0.6zM32.7 288.2h0.6v0.6h-0.6zM37.1 283.9h0.6v0.6h-0.6zM30.9 282.8h0.6v0.6h-0.6zM34.4 281.8h0.6v0.6h-0.6zM40.1 283.2h0.6v0.6h-0.6zM27.9 284.6h0.6v0.6h-0.6zM32.9 291.5h0.6v0.6h-0.6zM40.3 278.8h0.6v0.6h-0.6zM46.2 285.4h0.6v0.6h-0.6zM35.7 284.6h0.6v0.6h-0.6zM50.1 282.9h0.6v0.6h-0.6zM39.4 280.2h0.6v0.6h-0.6zM30.7 284.4h0.6v0.6h-0.6zM40.9 276.1h0.6v0.6h-0.6zM64.6 274.6h0.6v0.6h-0.6zM37.5 289.2h0.6v0.6h-0.6zM60.1 285.2h0.6v0.6h-0.6zM60.6 280.4h0.6v0.6h-0.6zM59.7 275.0h0.6v0.6h-0.6zM33.5 284.7h0.6v0.6h-0.6zM65.6 273.0h0.6v0.6h-0.6zM44.1 280.8h0.6v0.6h-0.6zM43.2 289.4h0.6v0.6h-0.6zM42.4 286.9h0.6v0.6h-0.6zM47.7 274.7h0.6v0.6h-0.6zM42.0 278.1h0.6v0.6h-0.6zM43.9 288.6h0.6v0.6h-0.6zM57.5 276.4h0.6v0.6h-0.6zM34.5 284.1h0.6v0.6h-0.6zM34.1 292.2h0.6v0.6h-0.6zM50.7 275.7h0.6v0.6h-0.6zM50.0 276.7h0.6v0.6h-0.6zM53.8 273.9h0.6v0.6h-0.6zM27.1 278.0h0.6v0.6h-0.6zM56.5 279.9h0.6v0.6h-0.6zM45.6 273.6h0.6v0.6h-0.6zM60.9 270.0h0.6v0.6h-0.6zM27.8 284.5h0.6v0.6h-0.6zM46.8 283.7h0.6v0.6h-0.6zM39.7 282.6h0.6v0.6h-0.6zM25.6 289.6h0.6v0.6h-0.6zM31.6 277.5h0.6v0.6h-0.6zM55.0 275.4h0.6v0.6h-0.6zM34.7 277.2h0.6v0.6h-0.6zM35.7 286.6h0.6v0.6h-0.6zM53.1 278.8h0.6v0.6h-0.6zM53.6 276.4h0.6v0.6h-0.6zM57.9 285.8h0.6v0.6h-0.6zM35.4 287.9h0.6v0.6h-0.6zM43.5 284.5h0.6v0.6h-0.6zM54.4 276.9h0.6v0.6h-0.6zM35.4 284.0h0.6v0.6h-0.6zM36.8 289.7h0.6v0.6h-0.6zM54.2 282.3h0.6v0.6h-0.6zM57.1 267.7h0.6v0.6h-0.6zM32.6 292.1h0.6v0.6h-0.6zM29.2 293.2h0.6v0.6h-0.6zM32.9 288.7h0.6v0.6h-0.6zM38.8 276.6h0.6v0.6h-0.6zM47.1 273.1h0.6v0.6h-0.6zM45.2 290.5h0.6v0.6h-0.6zM35.8 286.2h0.6v0.6h-0.6zM41.6 274.3h0.6v0.6h-0.6zM33.2 288.0h0.6v0.6h-0.6zM41.6 280.1h0.6v0.6h-0.6zM32.0 276.4h0.6v0.6h-0.6zM67.2 257.5h0.6v0.6h-0.6zM48.4 270.1h0.6v0.6h-0.6zM34.4 287.0h0.6v0.6h-0.6zM32.0 286.3h0.6v0.6h-0.6zM37.6 282.6h0.6v0.6h-0.6zM25.6 291.1h0.6v0.6h-0.6zM36.2 287.9h0.6v0.6h-0.6zM30.4 275.7h0.6v0.6h-0.6zM51.9 275.7h0.6v0.6h-0.6zM36.5 279.9h0.6v0.6h-0.6zM31.7 279.9h0.6v0.6h-0.6zM27.2 285.8h0.6v0.6h-0.6zM29.8 286.9h0.6v0.6h-0.6zM41.6 280.6h0.6v0.6h-0.6zM37.5 276.0h0.6v0.6h-0.6zM54.2 273.6h0.6v0.6h-0.6zM40.3 293.8h0.6v0.6h-0.6zM52.2 271.3h0.6v0.6h-0.6zM42.1 272.6h0.6v0.6h-0.6zM43.4 282.8h0.6v0.6h-0.6zM22.3 294.4h0.6v0.6h-0.6zM29.9 290.1h0.6v0.6h-0.6zM48.6 272.7h0.6v0.6h-0.6zM60.2 278.9h0.6v0.6h-0.6zM43.5 276.9h0.6v0.6h-0.6zM48.8 272.5h0.6v0.6h-0.6zM31.1 265.1h0.6v0.6h-0.6zM32.5 252.6h0.6v0.6h-0.6zM41.6 271.0h0.6v0.6h-0.6zM37.8 253.3h0.6v0.6h-0.6zM33.5 254.7h0.6v0.6h-0.6zM40.0 253.3h0.6v0.6h-0.6zM33.5 250.6h0.6v0.6h-0.6zM40.7 258.5h0.6v0.6h-0.6zM24.3 258.2h0.6v0.6h-0.6zM25.4 271.3h0.6v0.6h-0.6zM40.1 260.1h0.6v0.6h-0.6zM25.1 262.2h0.6v0.6h-0.6zM31.5 254.9h0.6v0.6h-0.6zM31.3 245.3h0.6v0.6h-0.6zM30.4 256.2h0.6v0.6h-0.6zM29.6 250.2h0.6v0.6h-0.6zM44.8 262.1h0.6v0.6h-0.6zM42.3 268.3h0.6v0.6h-0.6zM50.7 259.3h0.6v0.6h-0.6zM35.2 262.9h0.6v0.6h-0.6zM34.1 258.1h0.6v0.6h-0.6zM39.2 257.1h0.6v0.6h-0.6zM47.4 259.2h0.6v0.6h-0.6zM27.0 265.0h0.6v0.6h-0.6zM33.5 250.6h0.6v0.6h-0.6zM33.3 260.4h0.6v0.6h-0.6zM41.4 276.3h0.6v0.6h-0.6zM34.9 255.4h0.6v0.6h-0.6zM38.1 253.5h0.6v0.6h-0.6zM30.0 251.4h0.6v0.6h-0.6zM32.2 244.8h0.6v0.6h-0.6zM30.9 266.5h0.6v0.6h-0.6zM29.4 257.6h0.6v0.6h-0.6zM33.3 258.8h0.6v0.6h-0.6zM35.5 271.0h0.6v0.6h-0.6zM29.3 277.5h0.6v0.6h-0.6zM43.5 247.4h0.6v0.6h-0.6zM34.4 264.8h0.6v0.6h-0.6zM25.2 262.9h0.6v0.6h-0.6zM42.0 258.1h0.6v0.6h-0.6zM29.4 261.0h0.6v0.6h-0.6zM37.4 255.5h0.6v0.6h-0.6zM36.0 268.9h0.6v0.6h-0.6zM36.5 260.9h0.6v0.6h-0.6zM35.6 258.8h0.6v0.6h-0.6zM31.7 266.8h0.6v0.6h-0.6zM35.4 263.3h0.6v0.6h-0.6zM48.6 257.5h0.6v0.6h-0.6zM36.8 270.1h0.6v0.6h-0.6zM37.6 259.8h0.6v0.6h-0.6zM26.5 256.9h0.6v0.6h-0.6zM23.3 251.2h0.6v0.6h-0.6zM48.3 251.0h0.6v0.6h-0.6zM29.9 248.5h0.6v0.6h-0.6zM48.4 254.6h0.6v0.6h-0.6zM38.0 257.7h0.6v0.6h-0.6zM31.6 240.1h0.6v0.6h-0.6zM37.2 255.9h0.6v0.6h-0.6zM39.2 260.7h0.6v0.6h-0.6zM42.3 256.2h0.6v0.6h-0.6zM35.6 248.3h0.6v0.6h-0.6zM36.7 266.1h0.6v0.6h-0.6zM34.2 250.6h0.6v0.6h-0.6zM41.5 245.0h0.6v0.6h-0.6zM38.0 246.8h0.6v0.6h-0.6zM27.0 257.4h0.6v0.6h-0.6zM30.9 264.8h0.6v0.6h-0.6zM37.8 265.1h0.6v0.6h-0.6zM29.9 258.7h0.6v0.6h-0.6zM29.6 247.4h0.6v0.6h-0.6zM26.4 252.3h0.6v0.6h-0.6zM30.9 249.6h0.6v0.6h-0.6zM36.6 254.4h0.6v0.6h-0.6zM38.3 241.1h0.6v0.6h-0.6zM34.1 257.2h0.6v0.6h-0.6zM49.1 258.9h0.6v0.6h-0.6zM33.2 255.2h0.6v0.6h-0.6zM56.6 256.1h0.6v0.6h-0.6zM39.5 247.7h0.6v0.6h-0.6zM35.3 244.2h0.6v0.6h-0.6zM29.6 251.9h0.6v0.6h-0.6zM34.3 264.6h0.6v0.6h-0.6zM34.5 252.5h0.6v0.6h-0.6zM48.8 263.5h0.6v0.6h-0.6zM23.9 255.4h0.6v0.6h-0.6zM49.1 265.9h0.6v0.6h-0.6zM32.8 260.4h0.6v0.6h-0.6zM38.3 251.9h0.6v0.6h-0.6zM33.8 250.0h0.6v0.6h-0.6zM30.2 249.3h0.6v0.6h-0.6zM36.6 244.0h0.6v0.6h-0.6zM34.9 258.2h0.6v0.6h-0.6zM26.0 257.3h0.6v0.6h-0.6zM40.3 254.5h0.6v0.6h-0.6zM38.1 252.2h0.6v0.6h-0.6zM40.0 266.9h0.6v0.6h-0.6zM40.3 251.7h0.6v0.6h-0.6zM40.5 249.3h0.6v0.6h-0.6zM35.5 266.1h0.6v0.6h-0.6zM26.5 269.1h0.6v0.6h-0.6zM24.8 260.7h0.6v0.6h-0.6zM40.8 241.0h0.6v0.6h-0.6zM38.0 250.7h0.6v0.6h-0.6zM35.5 261.0h0.6v0.6h-0.6zM30.9 257.0h0.6v0.6h-0.6zM36.3 268.5h0.6v0.6h-0.6zM32.2 245.5h0.6v0.6h-0.6zM32.5 262.1h0.6v0.6h-0.6zM28.2 252.2h0.6v0.6h-0.6zM50.7 264.1h0.6v0.6h-0.6zM35.4 255.4h0.6v0.6h-0.6zM31.2 265.2h0.6v0.6h-0.6zM24.0 252.8h0.6v0.6h-0.6zM26.9 246.1h0.6v0.6h-0.6zM37.3 246.7h0.6v0.6h-0.6zM38.3 250.6h0.6v0.6h-0.6zM31.0 248.5h0.6v0.6h-0.6zM35.9 265.7h0.6v0.6h-0.6zM33.7 267.2h0.6v0.6h-0.6zM26.6 259.8h0.6v0.6h-0.6zM41.4 246.6h0.6v0.6h-0.6zM36.3 254.9h0.6v0.6h-0.6zM50.0 247.9h0.6v0.6h-0.6zM30.7 268.7h0.6v0.6h-0.6zM33.4 259.0h0.6v0.6h-0.6zM40.7 259.1h0.6v0.6h-0.6zM31.7 253.4h0.6v0.6h-0.6zM21.5 242.1h0.6v0.6h-0.6zM26.3 251.4h0.6v0.6h-0.6zM33.0 247.4h0.6v0.6h-0.6zM36.8 258.8h0.6v0.6h-0.6zM33.4 257.2h0.6v0.6h-0.6zM39.7 248.8h0.6v0.6h-0.6zM40.2 252.0h0.6v0.6h-0.6zM38.3 268.2h0.6v0.6h-0.6zM32.8 248.7h0.6v0.6h-0.6zM30.9 249.4h0.6v0.6h-0.6zM37.4 253.8h0.6v0.6h-0.6zM39.3 249.7h0.6v0.6h-0.6zM33.7 252.8h0.6v0.6h-0.6zM37.7 259.9h0.6v0.6h-0.6zM34.1 270.3h0.6v0.6h-0.6zM21.7 244.0h0.6v0.6h-0.6zM27.0 257.4h0.6v0.6h-0.6zM39.2 255.7h0.6v0.6h-0.6zM36.9 255.1h0.6v0.6h-0.6zM44.6 252.9h0.6v0.6h-0.6zM33.8 253.6h0.6v0.6h-0.6zM41.3 263.2h0.6v0.6h-0.6zM42.4 251.0h0.6v0.6h-0.6zM40.6 254.1h0.6v0.6h-0.6zM29.7 257.0h0.6v0.6h-0.6zM32.8 257.4h0.6v0.6h-0.6zM34.6 254.8h0.6v0.6h-0.6zM28.5 265.4h0.6v0.6h-0.6zM37.2 255.7h0.6v0.6h-0.6z" fill="#444" opacity="0.6"/>
<ellipse cx="58.0" cy="280.0" rx="8.0" ry="4.2" transform="rotate(-5 58.0 280.0)" fill="#f4f4f4" stroke="#333" stroke-width="0.5"/>
<ellipse cx="57.5" cy="280.1" rx="3.6" ry="1.5" transform="rotate(-5 58.0 280.0)" fill="none" stroke="#666" stroke-width="0.4"/>
<clipPath id="dc4"><polygon points="20.7,281.3 54.3,267.5 50.7,278.3 36.3,294.3 20.7,294.3"/></clipPath>
<path d="M28.9,283.0 Q42.9,276.8 56.9,268.4 M28.9,285.3 Q42.9,277.9 56.9,269.8 M28.9,288.0 Q42.9,279.2 56.9,271.4 M28.9,291.0 Q42.9,280.8 56.9,273.2 M28.9,294.0 Q42.9,282.2 56.9,275.0 " fill="none" stroke="#333" stroke-width="0.4" opacity="0.8" clip-path="url(#dc4)"/>
<rect x="19.4" y="280.3" width="1.3" height="16.69999999999999" fill="#222" opacity="0.85"/>
<rect x="19.9" y="295.8" width="18.7" height="1.2" fill="#222" opacity="0.7"/>
<polygon points="21.9,236.7 49.6,236.7 49.6,266.8 21.9,278.3" fill="none" stroke="#222" stroke-width="1.0" stroke-linejoin="miter"/>
<polygon points="58.9,269.8 82.5,269.8 82.5,294.3 39.6,294.3" fill="none" stroke="#222" stroke-width="1.0" stroke-linejoin="miter"/>
<polygon points="20.7,281.3 54.3,267.5 50.7,278.3 36.3,294.3 20.7,294.3" fill="none" stroke="#222" stroke-width="0.9" stroke-linejoin="miter"/>
<path d="M18.9,232.3 H84.0 V297.5" fill="none" stroke="#aaa" stroke-width="0.9"/>
<path d="M18.9,232.3 V297.5 H84.0" fill="none" stroke="#888" stroke-width="1.0"/>
<line x1="17.7" y1="232.3" x2="18.9" y2="232.3" stroke="#777" stroke-width="0.6"/>
<text x="15.8" y="234.2" font-size="2.8" font-weight="bold" text-anchor="end" fill="#444" textLength="7.5" lengthAdjust="spacingAndGlyphs">10000</text>
<line x1="17.7" y1="248.6" x2="18.9" y2="248.6" stroke="#777" stroke-width="0.6"/>
<text x="15.8" y="250.5" font-size="2.8" font-weight="bold" text-anchor="end" fill="#444" textLength="6.0" lengthAdjust="spacingAndGlyphs">1000</text>
<line x1="17.7" y1="264.9" x2="18.9" y2="264.9" stroke="#777" stroke-width="0.6"/>
<text x="15.8" y="266.8" font-size="2.8" font-weight="bold" text-anchor="end" fill="#444" textLength="4.5" lengthAdjust="spacingAndGlyphs">100</text>
<line x1="17.7" y1="281.2" x2="18.9" y2="281.2" stroke="#777" stroke-width="0.6"/>
<text x="15.8" y="283.1" font-size="2.8" font-weight="bold" text-anchor="end" fill="#444" textLength="3.0" lengthAdjust="spacingAndGlyphs">10</text>
<line x1="17.7" y1="297.5" x2="18.9" y2="297.5" stroke="#777" stroke-width="0.6"/>
<text x="15.8" y="299.4" font-size="2.8" font-weight="bold" text-anchor="end" fill="#444" textLength="1.5" lengthAdjust="spacingAndGlyphs">1</text>
<line x1="18.9" y1="297.5" x2="18.9" y2="298.7" stroke="#777" stroke-width="0.6"/>
<text x="18.9" y="302.8" font-size="2.8" font-weight="bold" text-anchor="middle" fill="#444" textLength="1.5" lengthAdjust="spacingAndGlyphs">1</text>
<line x1="35.2" y1="297.5" x2="35.2" y2="298.7" stroke="#777" stroke-width="0.6"/>
<text x="35.2" y="302.8" font-size="2.8" font-weight="bold" text-anchor="middle" fill="#444" textLength="3.0" lengthAdjust="spacingAndGlyphs">10</text>
<line x1="51.4" y1="297.5" x2="51.4" y2="298.7" stroke="#777" stroke-width="0.6"/>
<text x="51.4" y="302.8" font-size="2.8" font-weight="bold" text-anchor="middle" fill="#444" textLength="4.5" lengthAdjust="spacingAndGlyphs">100</text>
<line x1="67.7" y1="297.5" x2="67.7" y2="298.7" stroke="#777" stroke-width="0.6"/>
<text x="67.7" y="302.8" font-size="2.8" font-weight="bold" text-anchor="middle" fill="#444" textLength="6.0" lengthAdjust="spacingAndGlyphs">1000</text>
<line x1="84.0" y1="297.5" x2="84.0" y2="298.7" stroke="#777" stroke-width="0.6"/>
<text x="84.0" y="302.8" font-size="2.8" font-weight="bold" text-anchor="middle" fill="#444" textLength="7.5" lengthAdjust="spacingAndGlyphs">10000</text>
<text transform="translate(53.44,242.44) scale(0.0649,0.0634)" font-size="100" font-weight="bold" fill="#000" stroke="#000" stroke-width="3.43">0.9</text>
<text transform="translate(71.72,266.44) scale(0.0606,0.0648)" font-size="100" font-weight="bold" fill="#000" stroke="#000" stroke-width="3.51">5.2</text>
<ellipse cx="106.6" cy="289.8" rx="13" ry="5.5" transform="rotate(-10 106.6 289.8)" fill="#777" opacity="0.9" filter="url(#b2)"/>
<ellipse cx="140.0" cy="283.9" rx="17.2" ry="8.7" transform="rotate(-4 140.0 283.9)" fill="#8a8a8a" opacity="0.95" filter="url(#b2)"/>
<ellipse cx="139.5" cy="283.7" rx="14.2" ry="6.4" transform="rotate(-4 139.5 283.7)" fill="#555" opacity="0.9" filter="url(#b1)"/>
<ellipse cx="114.1" cy="280.1" rx="20" ry="5.5" transform="rotate(-30 114.1 280.1)" fill="#9a9a9a" opacity="0.95" filter="url(#b2)"/>
<ellipse cx="115.1" cy="279.6" rx="14" ry="3.2" transform="rotate(-30 115.1 279.6)" fill="#3a3a3a" opacity="0.95" filter="url(#b1)"/>
<ellipse cx="116.6" cy="278.8" rx="8.5" ry="1.6" transform="rotate(-30 116.6 278.8)" fill="#111" opacity="0.9" filter="url(#b3)"/>
<ellipse cx="118.6" cy="280.20000000000005" rx="5.0" ry="0.75" transform="rotate(-30 118.6 280.20000000000005)" fill="#eee" opacity="0.9"/>
<path d="M140.5 286.4h0.6v0.6h-0.6zM138.4 292.6h0.6v0.6h-0.6zM128.3 291.9h0.6v0.6h-0.6zM129.2 274.0h0.6v0.6h-0.6zM127.1 278.2h0.6v0.6h-0.6zM140.0 273.3h0.6v0.6h-0.6zM131.4 291.8h0.6v0.6h-0.6zM127.6 288.9h0.6v0.6h-0.6zM141.3 288.8h0.6v0.6h-0.6zM143.7 278.0h0.6v0.6h-0.6zM119.6 277.3h0.6v0.6h-0.6zM156.3 283.8h0.6v0.6h-0.6zM138.9 284.9h0.6v0.6h-0.6zM137.1 278.5h0.6v0.6h-0.6zM149.8 284.6h0.6v0.6h-0.6zM139.5 288.5h0.6v0.6h-0.6zM132.2 286.1h0.6v0.6h-0.6zM126.5 270.6h0.6v0.6h-0.6zM137.4 282.5h0.6v0.6h-0.6zM147.5 284.8h0.6v0.6h-0.6zM127.2 283.0h0.6v0.6h-0.6zM137.3 281.4h0.6v0.6h-0.6zM142.3 279.3h0.6v0.6h-0.6zM129.1 284.3h0.6v0.6h-0.6zM138.0 285.1h0.6v0.6h-0.6zM145.1 277.3h0.6v0.6h-0.6zM139.1 280.0h0.6v0.6h-0.6zM125.9 286.0h0.6v0.6h-0.6zM142.4 277.2h0.6v0.6h-0.6zM139.2 275.7h0.6v0.6h-0.6zM143.1 281.7h0.6v0.6h-0.6zM150.8 291.6h0.6v0.6h-0.6zM149.2 284.9h0.6v0.6h-0.6zM143.3 293.8h0.6v0.6h-0.6zM141.7 283.1h0.6v0.6h-0.6zM126.8 282.7h0.6v0.6h-0.6zM136.6 274.9h0.6v0.6h-0.6zM140.6 280.2h0.6v0.6h-0.6zM134.8 294.1h0.6v0.6h-0.6zM139.6 286.3h0.6v0.6h-0.6zM130.1 289.6h0.6v0.6h-0.6zM154.9 288.1h0.6v0.6h-0.6zM134.3 283.0h0.6v0.6h-0.6zM142.8 284.8h0.6v0.6h-0.6zM136.3 288.8h0.6v0.6h-0.6zM151.9 286.6h0.6v0.6h-0.6zM143.2 287.3h0.6v0.6h-0.6zM139.4 285.2h0.6v0.6h-0.6zM135.9 279.2h0.6v0.6h-0.6zM139.7 282.4h0.6v0.6h-0.6zM127.6 278.4h0.6v0.6h-0.6zM146.0 290.6h0.6v0.6h-0.6zM130.3 270.5h0.6v0.6h-0.6zM144.0 282.4h0.6v0.6h-0.6zM149.9 281.3h0.6v0.6h-0.6zM137.9 276.6h0.6v0.6h-0.6zM149.3 283.5h0.6v0.6h-0.6zM129.3 293.4h0.6v0.6h-0.6zM144.9 282.8h0.6v0.6h-0.6zM136.4 288.4h0.6v0.6h-0.6zM140.6 284.8h0.6v0.6h-0.6zM139.1 281.7h0.6v0.6h-0.6zM117.3 285.8h0.6v0.6h-0.6zM141.7 280.4h0.6v0.6h-0.6zM122.6 281.7h0.6v0.6h-0.6zM151.3 286.1h0.6v0.6h-0.6zM117.9 288.0h0.6v0.6h-0.6zM128.2 289.9h0.6v0.6h-0.6zM120.9 286.1h0.6v0.6h-0.6zM155.2 273.7h0.6v0.6h-0.6zM125.1 288.5h0.6v0.6h-0.6zM139.6 282.1h0.6v0.6h-0.6zM132.8 282.6h0.6v0.6h-0.6zM119.1 275.2h0.6v0.6h-0.6zM134.8 280.5h0.6v0.6h-0.6zM145.2 279.0h0.6v0.6h-0.6zM136.5 284.1h0.6v0.6h-0.6zM147.9 273.9h0.6v0.6h-0.6zM134.7 284.7h0.6v0.6h-0.6zM138.6 285.0h0.6v0.6h-0.6zM134.1 276.9h0.6v0.6h-0.6zM141.9 279.8h0.6v0.6h-0.6zM158.2 277.4h0.6v0.6h-0.6zM142.6 290.1h0.6v0.6h-0.6zM139.7 267.1h0.6v0.6h-0.6zM131.9 282.2h0.6v0.6h-0.6zM130.0 273.5h0.6v0.6h-0.6zM153.7 280.5h0.6v0.6h-0.6zM127.1 290.5h0.6v0.6h-0.6zM128.7 280.5h0.6v0.6h-0.6zM137.5 285.2h0.6v0.6h-0.6zM133.7 278.8h0.6v0.6h-0.6zM113.9 291.6h0.6v0.6h-0.6zM142.7 291.6h0.6v0.6h-0.6zM145.5 274.9h0.6v0.6h-0.6zM126.3 277.4h0.6v0.6h-0.6zM132.1 291.8h0.6v0.6h-0.6zM143.0 282.7h0.6v0.6h-0.6zM155.5 281.6h0.6v0.6h-0.6zM128.9 286.9h0.6v0.6h-0.6zM121.5 276.6h0.6v0.6h-0.6zM149.0 288.9h0.6v0.6h-0.6zM154.5 283.5h0.6v0.6h-0.6zM135.1 287.6h0.6v0.6h-0.6zM115.0 280.9h0.6v0.6h-0.6zM153.9 286.8h0.6v0.6h-0.6zM136.2 279.6h0.6v0.6h-0.6zM150.7 290.0h0.6v0.6h-0.6zM138.4 291.8h0.6v0.6h-0.6zM134.9 290.5h0.6v0.6h-0.6zM133.9 287.9h0.6v0.6h-0.6zM154.2 287.6h0.6v0.6h-0.6zM152.6 265.3h0.6v0.6h-0.6zM116.3 291.0h0.6v0.6h-0.6zM128.6 282.9h0.6v0.6h-0.6zM157.2 283.9h0.6v0.6h-0.6zM134.5 282.5h0.6v0.6h-0.6zM123.7 275.6h0.6v0.6h-0.6zM138.4 280.6h0.6v0.6h-0.6zM137.6 288.7h0.6v0.6h-0.6zM138.0 293.8h0.6v0.6h-0.6zM133.2 280.3h0.6v0.6h-0.6zM134.9 278.3h0.6v0.6h-0.6zM134.2 294.2h0.6v0.6h-0.6zM141.7 278.1h0.6v0.6h-0.6zM135.5 284.7h0.6v0.6h-0.6zM136.7 278.4h0.6v0.6h-0.6zM152.6 290.1h0.6v0.6h-0.6zM143.0 295.4h0.6v0.6h-0.6zM136.8 274.6h0.6v0.6h-0.6zM144.7 294.4h0.6v0.6h-0.6zM142.7 282.1h0.6v0.6h-0.6zM150.5 293.6h0.6v0.6h-0.6zM143.7 281.4h0.6v0.6h-0.6zM156.8 272.6h0.6v0.6h-0.6zM152.8 286.8h0.6v0.6h-0.6zM138.4 290.4h0.6v0.6h-0.6zM148.4 295.3h0.6v0.6h-0.6zM144.2 288.6h0.6v0.6h-0.6zM137.4 282.7h0.6v0.6h-0.6zM122.8 281.5h0.6v0.6h-0.6zM119.1 283.2h0.6v0.6h-0.6zM141.9 278.4h0.6v0.6h-0.6zM146.5 281.9h0.6v0.6h-0.6zM146.1 266.7h0.6v0.6h-0.6zM125.0 286.1h0.6v0.6h-0.6zM149.4 283.4h0.6v0.6h-0.6zM142.9 289.1h0.6v0.6h-0.6zM142.7 280.7h0.6v0.6h-0.6zM130.3 288.4h0.6v0.6h-0.6zM131.9 276.3h0.6v0.6h-0.6zM116.5 281.3h0.6v0.6h-0.6zM128.2 272.2h0.6v0.6h-0.6zM120.1 294.8h0.6v0.6h-0.6zM143.3 287.9h0.6v0.6h-0.6zM138.7 276.3h0.6v0.6h-0.6zM148.1 283.3h0.6v0.6h-0.6zM142.6 290.4h0.6v0.6h-0.6zM132.0 287.9h0.6v0.6h-0.6zM142.3 286.6h0.6v0.6h-0.6zM134.1 278.7h0.6v0.6h-0.6zM144.7 279.6h0.6v0.6h-0.6zM141.8 284.7h0.6v0.6h-0.6zM128.4 290.9h0.6v0.6h-0.6zM138.2 278.6h0.6v0.6h-0.6zM138.7 276.6h0.6v0.6h-0.6zM135.7 292.0h0.6v0.6h-0.6zM147.6 277.5h0.6v0.6h-0.6zM156.9 290.5h0.6v0.6h-0.6zM134.7 286.0h0.6v0.6h-0.6zM135.1 290.3h0.6v0.6h-0.6zM137.4 288.9h0.6v0.6h-0.6zM134.2 289.6h0.6v0.6h-0.6zM115.5 279.2h0.6v0.6h-0.6zM141.3 279.4h0.6v0.6h-0.6zM144.9 288.2h0.6v0.6h-0.6zM131.3 294.9h0.6v0.6h-0.6zM135.1 293.7h0.6v0.6h-0.6zM146.6 285.9h0.6v0.6h-0.6zM122.6 286.4h0.6v0.6h-0.6zM135.6 291.1h0.6v0.6h-0.6zM139.0 283.8h0.6v0.6h-0.6zM143.1 276.9h0.6v0.6h-0.6zM137.3 290.9h0.6v0.6h-0.6zM125.8 277.7h0.6v0.6h-0.6zM138.3 287.7h0.6v0.6h-0.6zM142.3 274.5h0.6v0.6h-0.6zM128.1 292.1h0.6v0.6h-0.6zM107.5 290.2h0.6v0.6h-0.6zM125.5 291.5h0.6v0.6h-0.6zM103.4 294.1h0.6v0.6h-0.6zM149.7 292.0h0.6v0.6h-0.6zM130.2 290.7h0.6v0.6h-0.6zM102.4 288.4h0.6v0.6h-0.6zM116.6 290.7h0.6v0.6h-0.6zM112.2 296.2h0.6v0.6h-0.6zM106.1 291.4h0.6v0.6h-0.6zM126.0 290.3h0.6v0.6h-0.6zM107.8 295.0h0.6v0.6h-0.6zM105.9 285.4h0.6v0.6h-0.6zM139.5 285.5h0.6v0.6h-0.6zM122.8 293.9h0.6v0.6h-0.6zM137.7 295.6h0.6v0.6h-0.6zM125.3 285.4h0.6v0.6h-0.6zM127.4 285.1h0.6v0.6h-0.6zM115.6 284.9h0.6v0.6h-0.6zM122.6 291.4h0.6v0.6h-0.6zM126.0 286.4h0.6v0.6h-0.6zM117.5 291.3h0.6v0.6h-0.6zM147.1 292.4h0.6v0.6h-0.6zM111.6 285.0h0.6v0.6h-0.6zM110.1 294.8h0.6v0.6h-0.6zM117.6 287.7h0.6v0.6h-0.6zM144.6 291.2h0.6v0.6h-0.6zM148.4 288.9h0.6v0.6h-0.6zM131.1 288.7h0.6v0.6h-0.6zM118.6 289.4h0.6v0.6h-0.6zM136.2 284.8h0.6v0.6h-0.6zM147.1 289.7h0.6v0.6h-0.6zM111.4 287.8h0.6v0.6h-0.6zM137.4 288.9h0.6v0.6h-0.6zM140.0 286.7h0.6v0.6h-0.6zM120.4 288.7h0.6v0.6h-0.6zM105.4 292.8h0.6v0.6h-0.6zM133.7 296.1h0.6v0.6h-0.6zM109.4 287.1h0.6v0.6h-0.6zM119.1 294.8h0.6v0.6h-0.6zM129.9 291.9h0.6v0.6h-0.6zM155.4 286.0h0.6v0.6h-0.6zM105.6 285.0h0.6v0.6h-0.6zM101.1 295.0h0.6v0.6h-0.6zM129.5 287.5h0.6v0.6h-0.6zM154.2 286.0h0.6v0.6h-0.6zM99.4 292.3h0.6v0.6h-0.6zM135.8 292.9h0.6v0.6h-0.6zM98.3 295.1h0.6v0.6h-0.6zM130.3 290.6h0.6v0.6h-0.6zM103.9 288.4h0.6v0.6h-0.6zM136.9 288.5h0.6v0.6h-0.6zM118.7 287.2h0.6v0.6h-0.6zM136.6 292.1h0.6v0.6h-0.6zM112.4 295.6h0.6v0.6h-0.6zM101.2 285.8h0.6v0.6h-0.6zM107.7 289.2h0.6v0.6h-0.6zM113.3 288.8h0.6v0.6h-0.6zM106.7 285.7h0.6v0.6h-0.6zM108.7 291.6h0.6v0.6h-0.6zM129.8 296.1h0.6v0.6h-0.6zM123.3 288.0h0.6v0.6h-0.6zM147.0 293.2h0.6v0.6h-0.6zM127.0 295.2h0.6v0.6h-0.6zM129.6 287.9h0.6v0.6h-0.6zM140.0 295.4h0.6v0.6h-0.6zM148.7 293.4h0.6v0.6h-0.6zM132.3 292.2h0.6v0.6h-0.6zM98.8 287.0h0.6v0.6h-0.6zM124.7 288.0h0.6v0.6h-0.6zM98.6 286.0h0.6v0.6h-0.6zM133.6 295.1h0.6v0.6h-0.6zM100.6 294.1h0.6v0.6h-0.6zM129.6 285.8h0.6v0.6h-0.6zM105.8 290.9h0.6v0.6h-0.6zM148.9 287.3h0.6v0.6h-0.6zM102.4 293.6h0.6v0.6h-0.6zM136.9 291.4h0.6v0.6h-0.6zM139.6 295.7h0.6v0.6h-0.6zM113.4 293.2h0.6v0.6h-0.6zM132.8 286.0h0.6v0.6h-0.6zM116.8 289.1h0.6v0.6h-0.6zM112.4 291.4h0.6v0.6h-0.6zM112.5 295.3h0.6v0.6h-0.6zM97.6 289.1h0.6v0.6h-0.6zM137.7 287.0h0.6v0.6h-0.6zM101.0 288.1h0.6v0.6h-0.6zM108.6 287.7h0.6v0.6h-0.6zM101.9 286.6h0.6v0.6h-0.6zM145.7 288.8h0.6v0.6h-0.6zM129.0 287.7h0.6v0.6h-0.6zM113.5 285.2h0.6v0.6h-0.6zM118.6 284.7h0.6v0.6h-0.6zM98.4 279.2h0.6v0.6h-0.6zM112.4 290.4h0.6v0.6h-0.6zM128.6 283.7h0.6v0.6h-0.6zM111.6 282.5h0.6v0.6h-0.6zM119.4 275.9h0.6v0.6h-0.6zM108.2 287.3h0.6v0.6h-0.6zM107.6 280.7h0.6v0.6h-0.6zM130.6 279.4h0.6v0.6h-0.6zM103.4 285.1h0.6v0.6h-0.6zM97.5 296.1h0.6v0.6h-0.6zM122.4 286.7h0.6v0.6h-0.6zM98.4 279.2h0.6v0.6h-0.6zM110.9 286.2h0.6v0.6h-0.6zM123.5 274.8h0.6v0.6h-0.6zM103.2 280.4h0.6v0.6h-0.6zM123.3 275.3h0.6v0.6h-0.6zM107.2 285.1h0.6v0.6h-0.6zM133.5 279.7h0.6v0.6h-0.6zM126.3 269.0h0.6v0.6h-0.6zM112.2 289.8h0.6v0.6h-0.6zM117.0 292.8h0.6v0.6h-0.6zM107.3 289.5h0.6v0.6h-0.6zM118.4 284.1h0.6v0.6h-0.6zM127.6 276.7h0.6v0.6h-0.6zM96.9 284.6h0.6v0.6h-0.6zM126.2 280.4h0.6v0.6h-0.6zM101.5 291.1h0.6v0.6h-0.6zM107.3 290.3h0.6v0.6h-0.6zM139.5 275.2h0.6v0.6h-0.6zM116.6 284.2h0.6v0.6h-0.6zM121.1 288.4h0.6v0.6h-0.6zM104.9 279.9h0.6v0.6h-0.6zM124.3 272.0h0.6v0.6h-0.6zM114.0 279.5h0.6v0.6h-0.6zM140.6 274.6h0.6v0.6h-0.6zM110.3 283.1h0.6v0.6h-0.6zM119.0 290.4h0.6v0.6h-0.6zM125.6 286.1h0.6v0.6h-0.6zM107.9 290.2h0.6v0.6h-0.6zM114.5 280.7h0.6v0.6h-0.6zM126.9 280.5h0.6v0.6h-0.6zM118.9 285.3h0.6v0.6h-0.6zM116.9 275.9h0.6v0.6h-0.6zM112.0 286.0h0.6v0.6h-0.6zM120.0 284.2h0.6v0.6h-0.6zM116.2 283.3h0.6v0.6h-0.6zM134.2 282.3h0.6v0.6h-0.6zM125.5 284.4h0.6v0.6h-0.6zM110.7 280.1h0.6v0.6h-0.6zM121.1 275.2h0.6v0.6h-0.6zM124.5 281.4h0.6v0.6h-0.6zM103.3 283.3h0.6v0.6h-0.6zM95.3 296.9h0.6v0.6h-0.6zM103.5 290.1h0.6v0.6h-0.6zM127.2 282.3h0.6v0.6h-0.6zM103.2 287.3h0.6v0.6h-0.6zM107.0 278.3h0.6v0.6h-0.6zM121.2 289.5h0.6v0.6h-0.6zM128.1 275.6h0.6v0.6h-0.6zM117.8 288.9h0.6v0.6h-0.6zM114.9 285.1h0.6v0.6h-0.6zM110.6 288.4h0.6v0.6h-0.6zM136.7 282.6h0.6v0.6h-0.6zM127.4 278.7h0.6v0.6h-0.6zM117.0 289.4h0.6v0.6h-0.6zM96.8 283.0h0.6v0.6h-0.6zM108.3 290.6h0.6v0.6h-0.6zM120.9 278.6h0.6v0.6h-0.6zM107.0 285.7h0.6v0.6h-0.6zM124.8 278.1h0.6v0.6h-0.6zM119.8 282.3h0.6v0.6h-0.6zM121.8 288.6h0.6v0.6h-0.6zM118.3 270.9h0.6v0.6h-0.6zM120.6 280.3h0.6v0.6h-0.6zM104.3 283.7h0.6v0.6h-0.6zM114.0 289.5h0.6v0.6h-0.6zM139.7 268.8h0.6v0.6h-0.6zM102.9 290.8h0.6v0.6h-0.6zM109.1 283.2h0.6v0.6h-0.6zM128.1 280.2h0.6v0.6h-0.6zM115.5 288.0h0.6v0.6h-0.6zM105.4 284.9h0.6v0.6h-0.6zM100.8 289.5h0.6v0.6h-0.6zM117.9 273.4h0.6v0.6h-0.6zM126.8 278.8h0.6v0.6h-0.6zM132.1 279.4h0.6v0.6h-0.6zM114.5 279.8h0.6v0.6h-0.6zM128.8 282.4h0.6v0.6h-0.6zM99.5 278.4h0.6v0.6h-0.6zM113.0 273.4h0.6v0.6h-0.6zM104.8 279.7h0.6v0.6h-0.6zM116.0 279.5h0.6v0.6h-0.6zM123.3 278.9h0.6v0.6h-0.6zM126.6 276.8h0.6v0.6h-0.6zM104.2 287.3h0.6v0.6h-0.6zM130.4 279.5h0.6v0.6h-0.6zM108.9 282.9h0.6v0.6h-0.6zM101.3 282.1h0.6v0.6h-0.6zM110.6 277.8h0.6v0.6h-0.6zM110.2 271.9h0.6v0.6h-0.6zM117.9 280.3h0.6v0.6h-0.6zM116.0 290.2h0.6v0.6h-0.6zM122.0 282.1h0.6v0.6h-0.6zM109.9 280.4h0.6v0.6h-0.6zM115.1 282.6h0.6v0.6h-0.6zM101.3 293.8h0.6v0.6h-0.6zM118.1 287.9h0.6v0.6h-0.6zM103.9 282.8h0.6v0.6h-0.6zM111.8 288.3h0.6v0.6h-0.6zM114.6 284.2h0.6v0.6h-0.6zM119.5 286.6h0.6v0.6h-0.6zM97.4 289.0h0.6v0.6h-0.6zM108.8 277.6h0.6v0.6h-0.6zM121.1 282.0h0.6v0.6h-0.6zM122.8 288.8h0.6v0.6h-0.6zM126.3 281.2h0.6v0.6h-0.6zM129.7 277.0h0.6v0.6h-0.6zM125.6 291.0h0.6v0.6h-0.6zM112.7 278.0h0.6v0.6h-0.6zM105.8 291.9h0.6v0.6h-0.6zM103.6 284.8h0.6v0.6h-0.6zM110.1 285.2h0.6v0.6h-0.6zM118.2 281.6h0.6v0.6h-0.6zM120.7 288.3h0.6v0.6h-0.6zM113.2 278.3h0.6v0.6h-0.6zM112.3 280.9h0.6v0.6h-0.6zM118.6 272.2h0.6v0.6h-0.6zM118.4 283.8h0.6v0.6h-0.6zM117.4 279.0h0.6v0.6h-0.6zM119.3 282.9h0.6v0.6h-0.6zM106.9 280.5h0.6v0.6h-0.6zM103.1 286.2h0.6v0.6h-0.6zM122.6 284.8h0.6v0.6h-0.6zM119.3 279.7h0.6v0.6h-0.6zM114.0 286.6h0.6v0.6h-0.6zM111.7 287.1h0.6v0.6h-0.6zM139.1 269.4h0.6v0.6h-0.6zM103.5 279.4h0.6v0.6h-0.6zM114.8 288.2h0.6v0.6h-0.6zM118.3 282.0h0.6v0.6h-0.6zM104.6 292.9h0.6v0.6h-0.6zM112.1 272.9h0.6v0.6h-0.6zM131.2 266.0h0.6v0.6h-0.6zM120.7 268.2h0.6v0.6h-0.6zM120.1 275.4h0.6v0.6h-0.6zM123.7 284.3h0.6v0.6h-0.6zM117.5 284.6h0.6v0.6h-0.6zM125.5 277.6h0.6v0.6h-0.6zM113.7 284.0h0.6v0.6h-0.6zM112.1 288.2h0.6v0.6h-0.6zM115.6 280.7h0.6v0.6h-0.6zM125.8 279.8h0.6v0.6h-0.6zM109.8 252.1h0.6v0.6h-0.6zM104.4 242.9h0.6v0.6h-0.6zM120.1 261.4h0.6v0.6h-0.6zM107.9 262.9h0.6v0.6h-0.6zM106.0 241.9h0.6v0.6h-0.6zM106.6 264.2h0.6v0.6h-0.6zM106.9 261.0h0.6v0.6h-0.6zM116.3 249.3h0.6v0.6h-0.6zM108.8 262.9h0.6v0.6h-0.6zM100.3 245.2h0.6v0.6h-0.6z" fill="#444" opacity="0.6"/>
<ellipse cx="138.5" cy="284.2" rx="11.7" ry="4.2" transform="rotate(-5 138.5 284.2)" fill="#f4f4f4" stroke="#333" stroke-width="0.5"/>
<ellipse cx="138.0" cy="284.3" rx="5.3" ry="1.5" transform="rotate(-5 138.5 284.2)" fill="none" stroke="#666" stroke-width="0.4"/>
<clipPath id="dc5"><polygon points="96.4,281.8 130.0,268.0 126.4,278.8 112.0,295.1 96.4,295.1"/></clipPath>
<path d="M101.1,284.1 Q115.1,277.9 129.1,269.5 M101.1,286.4 Q115.1,279.0 129.1,270.9 M101.1,289.1 Q115.1,280.4 129.1,272.5 M101.1,292.1 Q115.1,281.9 129.1,274.3 M101.1,295.1 Q115.1,283.4 129.1,276.1 " fill="none" stroke="#333" stroke-width="0.4" opacity="0.8" clip-path="url(#dc5)"/>
<rect x="95.1" y="280.8" width="1.3" height="17.0" fill="#222" opacity="0.85"/>
<rect x="95.6" y="296.6" width="15.5" height="1.2" fill="#222" opacity="0.7"/>
<polygon points="97.6,237.2 125.3,237.2 125.3,267.3 97.6,278.8" fill="none" stroke="#222" stroke-width="1.0" stroke-linejoin="miter"/>
<polygon points="134.6,270.3 158.2,270.3 158.2,295.1 112.1,295.1" fill="none" stroke="#222" stroke-width="1.0" stroke-linejoin="miter"/>
<polygon points="96.4,281.8 130.0,268.0 126.4,278.8 112.0,295.1 96.4,295.1" fill="none" stroke="#222" stroke-width="0.9" stroke-linejoin="miter"/>
<path d="M94.6,232.8 H159.7 V298.3" fill="none" stroke="#aaa" stroke-width="0.9"/>
<path d="M94.6,232.8 V298.3 H159.7" fill="none" stroke="#888" stroke-width="1.0"/>
<line x1="93.39999999999999" y1="232.8" x2="94.6" y2="232.8" stroke="#777" stroke-width="0.6"/>
<text x="91.5" y="234.7" font-size="2.8" font-weight="bold" text-anchor="end" fill="#444" textLength="7.5" lengthAdjust="spacingAndGlyphs">10000</text>
<line x1="93.39999999999999" y1="249.2" x2="94.6" y2="249.2" stroke="#777" stroke-width="0.6"/>
<text x="91.5" y="251.1" font-size="2.8" font-weight="bold" text-anchor="end" fill="#444" textLength="6.0" lengthAdjust="spacingAndGlyphs">1000</text>
<line x1="93.39999999999999" y1="265.6" x2="94.6" y2="265.6" stroke="#777" stroke-width="0.6"/>
<text x="91.5" y="267.4" font-size="2.8" font-weight="bold" text-anchor="end" fill="#444" textLength="4.5" lengthAdjust="spacingAndGlyphs">100</text>
<line x1="93.39999999999999" y1="281.9" x2="94.6" y2="281.9" stroke="#777" stroke-width="0.6"/>
<text x="91.5" y="283.8" font-size="2.8" font-weight="bold" text-anchor="end" fill="#444" textLength="3.0" lengthAdjust="spacingAndGlyphs">10</text>
<line x1="93.39999999999999" y1="298.3" x2="94.6" y2="298.3" stroke="#777" stroke-width="0.6"/>
<text x="91.5" y="300.2" font-size="2.8" font-weight="bold" text-anchor="end" fill="#444" textLength="1.5" lengthAdjust="spacingAndGlyphs">1</text>
<line x1="94.6" y1="298.3" x2="94.6" y2="299.5" stroke="#777" stroke-width="0.6"/>
<text x="94.6" y="303.6" font-size="2.8" font-weight="bold" text-anchor="middle" fill="#444" textLength="1.5" lengthAdjust="spacingAndGlyphs">1</text>
<line x1="110.9" y1="298.3" x2="110.9" y2="299.5" stroke="#777" stroke-width="0.6"/>
<text x="110.9" y="303.6" font-size="2.8" font-weight="bold" text-anchor="middle" fill="#444" textLength="3.0" lengthAdjust="spacingAndGlyphs">10</text>
<line x1="127.1" y1="298.3" x2="127.1" y2="299.5" stroke="#777" stroke-width="0.6"/>
<text x="127.1" y="303.6" font-size="2.8" font-weight="bold" text-anchor="middle" fill="#444" textLength="4.5" lengthAdjust="spacingAndGlyphs">100</text>
<line x1="143.4" y1="298.3" x2="143.4" y2="299.5" stroke="#777" stroke-width="0.6"/>
<text x="143.4" y="303.6" font-size="2.8" font-weight="bold" text-anchor="middle" fill="#444" textLength="6.0" lengthAdjust="spacingAndGlyphs">1000</text>
<line x1="159.7" y1="298.3" x2="159.7" y2="299.5" stroke="#777" stroke-width="0.6"/>
<text x="159.7" y="303.6" font-size="2.8" font-weight="bold" text-anchor="middle" fill="#444" textLength="7.5" lengthAdjust="spacingAndGlyphs">10000</text>
<text transform="translate(128.87,243.04) scale(0.0565,0.0563)" font-size="100" font-weight="bold" fill="#000" stroke="#000" stroke-width="3.90">&lt;0.1</text>
<text transform="translate(146.95,267.54) scale(0.0586,0.0648)" font-size="100" font-weight="bold" fill="#000" stroke="#000" stroke-width="3.57">10.8</text>
<ellipse cx="183.0" cy="290.4" rx="13" ry="5.5" transform="rotate(-10 183.0 290.4)" fill="#c5c5c5" opacity="0.9" filter="url(#b2)"/>
<ellipse cx="215.9" cy="283.2" rx="18.3" ry="7.8" transform="rotate(-4 215.9 283.2)" fill="#8a8a8a" opacity="0.95" filter="url(#b2)"/>
<ellipse cx="215.4" cy="283.0" rx="15.3" ry="5.5" transform="rotate(-4 215.4 283.0)" fill="#555" opacity="0.9" filter="url(#b1)"/>
<ellipse cx="190.5" cy="281.4" rx="20" ry="5.5" transform="rotate(-30 190.5 281.4)" fill="#9a9a9a" opacity="0.95" filter="url(#b2)"/>
<ellipse cx="191.5" cy="280.9" rx="14" ry="3.2" transform="rotate(-30 191.5 280.9)" fill="#3a3a3a" opacity="0.95" filter="url(#b1)"/>
<ellipse cx="193.0" cy="280.09999999999997" rx="8.5" ry="1.6" transform="rotate(-30 193.0 280.09999999999997)" fill="#111" opacity="0.9" filter="url(#b3)"/>
<ellipse cx="195.0" cy="281.5" rx="5.0" ry="0.75" transform="rotate(-30 195.0 281.5)" fill="#eee" opacity="0.9"/>
<path d="M198.0 287.2h0.6v0.6h-0.6zM201.6 283.8h0.6v0.6h-0.6zM224.8 288.6h0.6v0.6h-0.6zM199.0 282.6h0.6v0.6h-0.6zM201.0 282.0h0.6v0.6h-0.6zM204.1 295.6h0.6v0.6h-0.6zM216.4 278.7h0.6v0.6h-0.6zM210.3 280.8h0.6v0.6h-0.6zM224.3 282.9h0.6v0.6h-0.6zM205.9 278.0h0.6v0.6h-0.6zM199.0 272.8h0.6v0.6h-0.6zM208.9 289.1h0.6v0.6h-0.6zM214.6 279.0h0.6v0.6h-0.6zM203.5 280.9h0.6v0.6h-0.6zM217.4 281.1h0.6v0.6h-0.6zM207.3 277.9h0.6v0.6h-0.6zM214.8 284.0h0.6v0.6h-0.6zM230.5 295.0h0.6v0.6h-0.6zM207.0 287.5h0.6v0.6h-0.6zM204.7 287.6h0.6v0.6h-0.6zM201.2 275.9h0.6v0.6h-0.6zM218.8 282.8h0.6v0.6h-0.6zM219.8 276.6h0.6v0.6h-0.6zM212.7 287.4h0.6v0.6h-0.6zM214.6 282.0h0.6v0.6h-0.6zM228.9 282.6h0.6v0.6h-0.6zM224.1 282.2h0.6v0.6h-0.6zM197.9 281.0h0.6v0.6h-0.6zM213.6 275.2h0.6v0.6h-0.6zM215.5 286.2h0.6v0.6h-0.6zM222.0 275.5h0.6v0.6h-0.6zM211.2 277.1h0.6v0.6h-0.6zM206.6 282.0h0.6v0.6h-0.6zM208.6 279.8h0.6v0.6h-0.6zM193.7 285.7h0.6v0.6h-0.6zM214.1 288.5h0.6v0.6h-0.6zM207.3 284.9h0.6v0.6h-0.6zM219.5 284.0h0.6v0.6h-0.6zM202.3 283.9h0.6v0.6h-0.6zM209.3 288.0h0.6v0.6h-0.6zM202.3 274.1h0.6v0.6h-0.6zM201.9 285.8h0.6v0.6h-0.6zM221.8 277.9h0.6v0.6h-0.6zM208.3 277.0h0.6v0.6h-0.6zM219.1 283.0h0.6v0.6h-0.6zM201.0 281.8h0.6v0.6h-0.6zM215.3 286.2h0.6v0.6h-0.6zM194.8 290.0h0.6v0.6h-0.6zM207.8 271.2h0.6v0.6h-0.6zM208.1 283.1h0.6v0.6h-0.6zM221.2 293.2h0.6v0.6h-0.6zM216.2 287.7h0.6v0.6h-0.6zM212.3 290.9h0.6v0.6h-0.6zM223.6 283.2h0.6v0.6h-0.6zM215.7 275.5h0.6v0.6h-0.6zM219.8 277.0h0.6v0.6h-0.6zM222.9 286.5h0.6v0.6h-0.6zM213.4 288.3h0.6v0.6h-0.6zM210.3 279.5h0.6v0.6h-0.6zM217.6 281.6h0.6v0.6h-0.6zM209.2 284.8h0.6v0.6h-0.6zM217.9 273.8h0.6v0.6h-0.6zM226.5 280.7h0.6v0.6h-0.6zM224.1 291.2h0.6v0.6h-0.6zM210.1 295.0h0.6v0.6h-0.6zM199.1 283.4h0.6v0.6h-0.6zM213.7 292.9h0.6v0.6h-0.6zM212.3 280.5h0.6v0.6h-0.6zM226.3 278.3h0.6v0.6h-0.6zM208.8 271.6h0.6v0.6h-0.6zM211.7 288.4h0.6v0.6h-0.6zM222.2 280.8h0.6v0.6h-0.6zM209.0 295.8h0.6v0.6h-0.6zM212.1 285.1h0.6v0.6h-0.6zM233.6 283.2h0.6v0.6h-0.6zM230.5 272.8h0.6v0.6h-0.6zM221.5 290.8h0.6v0.6h-0.6zM216.8 281.1h0.6v0.6h-0.6zM202.7 283.0h0.6v0.6h-0.6zM219.6 271.3h0.6v0.6h-0.6zM214.8 288.1h0.6v0.6h-0.6zM216.6 288.3h0.6v0.6h-0.6zM207.7 280.3h0.6v0.6h-0.6zM213.7 283.7h0.6v0.6h-0.6zM211.8 285.4h0.6v0.6h-0.6zM217.7 288.1h0.6v0.6h-0.6zM230.3 282.9h0.6v0.6h-0.6zM218.5 292.1h0.6v0.6h-0.6zM194.7 282.9h0.6v0.6h-0.6zM202.5 280.6h0.6v0.6h-0.6zM195.5 281.7h0.6v0.6h-0.6zM204.0 270.3h0.6v0.6h-0.6zM220.0 278.6h0.6v0.6h-0.6zM218.7 288.3h0.6v0.6h-0.6zM207.0 285.0h0.6v0.6h-0.6zM216.7 278.8h0.6v0.6h-0.6zM205.2 285.5h0.6v0.6h-0.6zM197.0 273.4h0.6v0.6h-0.6zM197.6 282.6h0.6v0.6h-0.6zM204.1 286.5h0.6v0.6h-0.6zM230.3 286.1h0.6v0.6h-0.6zM198.2 280.0h0.6v0.6h-0.6zM228.4 287.3h0.6v0.6h-0.6zM229.6 292.3h0.6v0.6h-0.6zM211.6 281.1h0.6v0.6h-0.6zM213.5 287.2h0.6v0.6h-0.6zM206.4 275.4h0.6v0.6h-0.6zM213.0 272.9h0.6v0.6h-0.6zM221.5 286.1h0.6v0.6h-0.6zM213.9 283.5h0.6v0.6h-0.6zM225.3 283.7h0.6v0.6h-0.6zM227.3 279.5h0.6v0.6h-0.6zM217.7 281.5h0.6v0.6h-0.6zM217.8 287.3h0.6v0.6h-0.6zM213.6 292.4h0.6v0.6h-0.6zM217.7 281.9h0.6v0.6h-0.6zM200.5 275.2h0.6v0.6h-0.6zM218.8 289.7h0.6v0.6h-0.6zM216.3 286.3h0.6v0.6h-0.6zM204.1 287.4h0.6v0.6h-0.6zM203.3 296.1h0.6v0.6h-0.6zM203.8 284.2h0.6v0.6h-0.6zM217.1 285.8h0.6v0.6h-0.6zM191.0 274.7h0.6v0.6h-0.6zM204.5 280.7h0.6v0.6h-0.6zM196.1 280.6h0.6v0.6h-0.6zM202.7 283.7h0.6v0.6h-0.6zM212.4 285.2h0.6v0.6h-0.6zM217.2 279.1h0.6v0.6h-0.6zM226.9 291.7h0.6v0.6h-0.6zM222.7 277.2h0.6v0.6h-0.6zM227.3 280.2h0.6v0.6h-0.6zM220.6 284.2h0.6v0.6h-0.6zM208.0 276.9h0.6v0.6h-0.6zM226.7 285.6h0.6v0.6h-0.6zM208.3 286.9h0.6v0.6h-0.6zM206.6 282.1h0.6v0.6h-0.6zM231.9 292.4h0.6v0.6h-0.6zM222.8 283.2h0.6v0.6h-0.6zM216.4 284.6h0.6v0.6h-0.6zM222.1 277.7h0.6v0.6h-0.6zM223.4 273.9h0.6v0.6h-0.6zM197.9 280.8h0.6v0.6h-0.6zM212.6 281.6h0.6v0.6h-0.6zM200.1 281.6h0.6v0.6h-0.6zM215.4 287.2h0.6v0.6h-0.6zM205.4 271.1h0.6v0.6h-0.6zM229.0 276.5h0.6v0.6h-0.6zM219.2 273.3h0.6v0.6h-0.6zM204.8 290.8h0.6v0.6h-0.6zM213.4 280.3h0.6v0.6h-0.6zM199.7 281.3h0.6v0.6h-0.6zM213.9 277.4h0.6v0.6h-0.6zM220.3 287.7h0.6v0.6h-0.6zM216.7 280.9h0.6v0.6h-0.6zM191.6 285.6h0.6v0.6h-0.6zM209.3 272.7h0.6v0.6h-0.6zM219.9 289.1h0.6v0.6h-0.6zM217.4 285.2h0.6v0.6h-0.6zM227.2 285.5h0.6v0.6h-0.6zM199.3 290.6h0.6v0.6h-0.6zM219.7 281.9h0.6v0.6h-0.6zM206.2 282.8h0.6v0.6h-0.6zM216.2 286.9h0.6v0.6h-0.6zM218.5 285.3h0.6v0.6h-0.6zM221.6 281.6h0.6v0.6h-0.6zM207.1 283.9h0.6v0.6h-0.6zM215.7 280.5h0.6v0.6h-0.6zM200.5 287.8h0.6v0.6h-0.6zM197.8 289.1h0.6v0.6h-0.6zM220.1 283.0h0.6v0.6h-0.6zM213.6 293.2h0.6v0.6h-0.6zM194.7 276.1h0.6v0.6h-0.6zM203.9 282.6h0.6v0.6h-0.6zM214.4 292.3h0.6v0.6h-0.6zM231.5 280.1h0.6v0.6h-0.6zM225.3 274.2h0.6v0.6h-0.6zM223.3 290.2h0.6v0.6h-0.6zM193.3 287.2h0.6v0.6h-0.6zM212.3 277.0h0.6v0.6h-0.6zM219.4 287.1h0.6v0.6h-0.6zM218.0 277.6h0.6v0.6h-0.6zM218.1 275.9h0.6v0.6h-0.6zM211.0 282.6h0.6v0.6h-0.6zM233.8 279.7h0.6v0.6h-0.6zM230.4 276.6h0.6v0.6h-0.6zM212.5 281.4h0.6v0.6h-0.6zM202.2 278.6h0.6v0.6h-0.6zM207.4 283.5h0.6v0.6h-0.6zM227.7 286.5h0.6v0.6h-0.6zM202.5 276.8h0.6v0.6h-0.6zM216.7 276.1h0.6v0.6h-0.6zM209.6 282.2h0.6v0.6h-0.6zM220.1 291.1h0.6v0.6h-0.6zM217.6 287.6h0.6v0.6h-0.6zM192.0 294.1h0.6v0.6h-0.6zM193.7 288.0h0.6v0.6h-0.6zM229.9 296.2h0.6v0.6h-0.6zM228.4 288.5h0.6v0.6h-0.6zM183.7 294.9h0.6v0.6h-0.6zM217.2 290.7h0.6v0.6h-0.6zM181.5 295.8h0.6v0.6h-0.6zM191.3 288.7h0.6v0.6h-0.6zM177.3 295.7h0.6v0.6h-0.6zM212.5 288.8h0.6v0.6h-0.6zM217.3 290.4h0.6v0.6h-0.6zM218.5 292.4h0.6v0.6h-0.6zM220.2 291.6h0.6v0.6h-0.6zM197.1 292.8h0.6v0.6h-0.6zM183.8 293.1h0.6v0.6h-0.6zM173.3 288.4h0.6v0.6h-0.6zM199.9 285.5h0.6v0.6h-0.6zM229.9 293.4h0.6v0.6h-0.6zM200.4 292.1h0.6v0.6h-0.6zM210.6 291.7h0.6v0.6h-0.6zM228.9 290.9h0.6v0.6h-0.6zM225.6 295.7h0.6v0.6h-0.6zM218.1 288.7h0.6v0.6h-0.6zM209.1 295.5h0.6v0.6h-0.6zM187.1 287.3h0.6v0.6h-0.6zM218.7 293.1h0.6v0.6h-0.6zM198.5 295.9h0.6v0.6h-0.6zM216.1 287.1h0.6v0.6h-0.6zM186.6 293.9h0.6v0.6h-0.6zM230.4 288.4h0.6v0.6h-0.6zM183.0 286.1h0.6v0.6h-0.6zM221.2 290.2h0.6v0.6h-0.6zM227.3 293.2h0.6v0.6h-0.6zM182.3 288.5h0.6v0.6h-0.6zM225.8 295.9h0.6v0.6h-0.6zM212.3 285.4h0.6v0.6h-0.6zM209.8 288.4h0.6v0.6h-0.6zM188.5 289.2h0.6v0.6h-0.6zM193.0 289.5h0.6v0.6h-0.6zM187.3 288.7h0.6v0.6h-0.6zM199.9 285.6h0.6v0.6h-0.6zM212.5 287.7h0.6v0.6h-0.6zM217.5 288.3h0.6v0.6h-0.6zM216.0 292.9h0.6v0.6h-0.6zM194.2 289.6h0.6v0.6h-0.6zM193.5 293.4h0.6v0.6h-0.6zM219.6 290.3h0.6v0.6h-0.6zM232.4 289.2h0.6v0.6h-0.6zM186.5 287.2h0.6v0.6h-0.6zM198.2 287.9h0.6v0.6h-0.6zM189.8 295.4h0.6v0.6h-0.6zM232.5 290.5h0.6v0.6h-0.6zM174.0 288.9h0.6v0.6h-0.6zM227.4 287.8h0.6v0.6h-0.6zM219.8 295.1h0.6v0.6h-0.6zM193.2 293.2h0.6v0.6h-0.6zM214.5 293.1h0.6v0.6h-0.6zM195.5 294.3h0.6v0.6h-0.6zM211.8 288.1h0.6v0.6h-0.6zM198.9 293.5h0.6v0.6h-0.6zM228.8 286.2h0.6v0.6h-0.6zM200.9 292.8h0.6v0.6h-0.6zM222.6 289.0h0.6v0.6h-0.6zM208.2 292.7h0.6v0.6h-0.6zM195.7 287.9h0.6v0.6h-0.6zM232.0 289.3h0.6v0.6h-0.6zM184.9 292.8h0.6v0.6h-0.6zM228.4 295.8h0.6v0.6h-0.6zM232.9 289.2h0.6v0.6h-0.6zM224.8 287.3h0.6v0.6h-0.6zM210.2 286.8h0.6v0.6h-0.6zM211.0 292.9h0.6v0.6h-0.6zM229.6 295.3h0.6v0.6h-0.6zM199.4 285.6h0.6v0.6h-0.6zM223.3 289.2h0.6v0.6h-0.6zM220.3 287.3h0.6v0.6h-0.6zM225.4 296.0h0.6v0.6h-0.6zM199.9 286.9h0.6v0.6h-0.6zM212.8 286.2h0.6v0.6h-0.6zM178.6 293.9h0.6v0.6h-0.6zM177.4 296.5h0.6v0.6h-0.6zM179.6 294.0h0.6v0.6h-0.6zM217.9 286.7h0.6v0.6h-0.6zM194.7 289.9h0.6v0.6h-0.6zM228.4 291.2h0.6v0.6h-0.6zM177.8 295.4h0.6v0.6h-0.6zM183.5 293.8h0.6v0.6h-0.6zM224.0 286.1h0.6v0.6h-0.6zM198.5 290.4h0.6v0.6h-0.6zM186.4 294.0h0.6v0.6h-0.6zM199.1 280.7h0.6v0.6h-0.6zM189.4 288.3h0.6v0.6h-0.6zM179.3 292.7h0.6v0.6h-0.6zM206.0 275.6h0.6v0.6h-0.6zM181.5 287.3h0.6v0.6h-0.6zM197.2 284.6h0.6v0.6h-0.6zM185.3 281.5h0.6v0.6h-0.6zM199.6 280.7h0.6v0.6h-0.6zM191.0 286.4h0.6v0.6h-0.6zM184.6 282.8h0.6v0.6h-0.6zM213.9 271.2h0.6v0.6h-0.6zM187.7 282.7h0.6v0.6h-0.6zM191.1 288.1h0.6v0.6h-0.6zM177.9 286.3h0.6v0.6h-0.6zM184.0 289.8h0.6v0.6h-0.6zM201.5 287.6h0.6v0.6h-0.6zM198.2 282.8h0.6v0.6h-0.6zM187.9 276.7h0.6v0.6h-0.6zM183.9 288.2h0.6v0.6h-0.6zM200.9 285.3h0.6v0.6h-0.6zM172.1 291.4h0.6v0.6h-0.6zM189.9 290.8h0.6v0.6h-0.6zM189.9 288.1h0.6v0.6h-0.6zM183.0 290.2h0.6v0.6h-0.6zM192.4 282.1h0.6v0.6h-0.6zM183.0 285.1h0.6v0.6h-0.6zM182.0 286.9h0.6v0.6h-0.6zM211.1 275.2h0.6v0.6h-0.6zM200.5 282.6h0.6v0.6h-0.6zM205.3 279.8h0.6v0.6h-0.6zM191.3 282.4h0.6v0.6h-0.6zM202.0 279.4h0.6v0.6h-0.6zM200.7 281.8h0.6v0.6h-0.6zM201.1 270.5h0.6v0.6h-0.6zM215.5 268.5h0.6v0.6h-0.6zM187.2 281.5h0.6v0.6h-0.6zM193.8 281.8h0.6v0.6h-0.6zM190.3 283.0h0.6v0.6h-0.6zM174.4 287.1h0.6v0.6h-0.6zM193.1 287.0h0.6v0.6h-0.6zM198.9 282.1h0.6v0.6h-0.6zM181.7 279.5h0.6v0.6h-0.6zM203.8 278.3h0.6v0.6h-0.6zM203.0 272.4h0.6v0.6h-0.6zM190.6 293.8h0.6v0.6h-0.6zM206.0 274.7h0.6v0.6h-0.6zM209.7 273.3h0.6v0.6h-0.6zM196.7 282.0h0.6v0.6h-0.6zM180.4 288.1h0.6v0.6h-0.6zM207.3 276.3h0.6v0.6h-0.6zM193.0 291.8h0.6v0.6h-0.6zM187.9 286.9h0.6v0.6h-0.6zM194.5 287.2h0.6v0.6h-0.6zM188.0 291.8h0.6v0.6h-0.6zM201.1 274.1h0.6v0.6h-0.6zM203.5 287.7h0.6v0.6h-0.6zM206.2 280.9h0.6v0.6h-0.6zM199.9 285.4h0.6v0.6h-0.6zM181.1 284.1h0.6v0.6h-0.6zM191.5 288.5h0.6v0.6h-0.6zM201.9 281.4h0.6v0.6h-0.6zM186.0 283.6h0.6v0.6h-0.6zM228.1 279.5h0.6v0.6h-0.6zM190.1 287.8h0.6v0.6h-0.6zM184.7 285.9h0.6v0.6h-0.6zM204.4 279.0h0.6v0.6h-0.6zM201.6 284.3h0.6v0.6h-0.6zM193.6 289.2h0.6v0.6h-0.6zM190.3 287.8h0.6v0.6h-0.6zM198.8 287.3h0.6v0.6h-0.6zM203.7 286.4h0.6v0.6h-0.6zM197.2 274.5h0.6v0.6h-0.6zM187.2 283.3h0.6v0.6h-0.6zM194.3 277.5h0.6v0.6h-0.6zM200.9 280.1h0.6v0.6h-0.6zM202.9 286.6h0.6v0.6h-0.6zM179.6 283.8h0.6v0.6h-0.6zM182.5 286.6h0.6v0.6h-0.6zM191.2 289.8h0.6v0.6h-0.6zM192.4 280.7h0.6v0.6h-0.6zM201.4 278.9h0.6v0.6h-0.6zM198.9 282.2h0.6v0.6h-0.6zM186.3 276.4h0.6v0.6h-0.6zM193.4 287.4h0.6v0.6h-0.6zM211.4 276.6h0.6v0.6h-0.6zM186.1 289.7h0.6v0.6h-0.6zM192.8 278.0h0.6v0.6h-0.6zM206.9 272.6h0.6v0.6h-0.6zM194.0 279.5h0.6v0.6h-0.6zM195.8 282.4h0.6v0.6h-0.6zM187.6 286.5h0.6v0.6h-0.6zM194.1 292.7h0.6v0.6h-0.6zM205.7 284.6h0.6v0.6h-0.6zM195.1 278.4h0.6v0.6h-0.6zM187.3 282.4h0.6v0.6h-0.6zM204.9 287.2h0.6v0.6h-0.6zM195.6 280.3h0.6v0.6h-0.6zM195.6 289.7h0.6v0.6h-0.6zM198.2 289.7h0.6v0.6h-0.6zM193.1 280.2h0.6v0.6h-0.6zM187.3 284.5h0.6v0.6h-0.6zM186.7 286.7h0.6v0.6h-0.6zM190.0 279.9h0.6v0.6h-0.6zM179.1 284.4h0.6v0.6h-0.6zM177.0 288.6h0.6v0.6h-0.6zM207.5 281.3h0.6v0.6h-0.6zM188.0 283.2h0.6v0.6h-0.6zM190.8 283.2h0.6v0.6h-0.6zM189.1 282.6h0.6v0.6h-0.6zM188.9 277.7h0.6v0.6h-0.6zM194.9 290.6h0.6v0.6h-0.6zM187.3 273.0h0.6v0.6h-0.6zM181.4 285.1h0.6v0.6h-0.6zM202.9 281.8h0.6v0.6h-0.6zM181.1 281.2h0.6v0.6h-0.6zM204.1 281.5h0.6v0.6h-0.6zM178.2 285.5h0.6v0.6h-0.6zM202.8 279.9h0.6v0.6h-0.6zM187.6 279.7h0.6v0.6h-0.6zM185.3 289.7h0.6v0.6h-0.6zM195.8 282.5h0.6v0.6h-0.6zM180.6 290.3h0.6v0.6h-0.6zM195.3 289.8h0.6v0.6h-0.6zM189.5 292.4h0.6v0.6h-0.6zM185.8 290.2h0.6v0.6h-0.6zM194.9 275.8h0.6v0.6h-0.6zM201.6 280.7h0.6v0.6h-0.6zM183.3 290.5h0.6v0.6h-0.6zM206.0 269.3h0.6v0.6h-0.6zM187.9 293.0h0.6v0.6h-0.6zM206.4 272.1h0.6v0.6h-0.6zM190.7 284.8h0.6v0.6h-0.6zM185.1 288.6h0.6v0.6h-0.6zM182.7 286.3h0.6v0.6h-0.6zM179.8 289.9h0.6v0.6h-0.6zM201.8 267.5h0.6v0.6h-0.6zM193.5 290.6h0.6v0.6h-0.6zM208.7 269.9h0.6v0.6h-0.6zM184.8 275.1h0.6v0.6h-0.6zM199.0 275.9h0.6v0.6h-0.6zM188.7 288.3h0.6v0.6h-0.6zM187.0 281.0h0.6v0.6h-0.6zM209.2 277.3h0.6v0.6h-0.6zM186.6 281.0h0.6v0.6h-0.6zM208.8 288.1h0.6v0.6h-0.6zM192.6 286.5h0.6v0.6h-0.6zM187.5 296.7h0.6v0.6h-0.6zM194.9 276.8h0.6v0.6h-0.6zM186.4 290.0h0.6v0.6h-0.6zM202.9 273.4h0.6v0.6h-0.6zM203.2 281.7h0.6v0.6h-0.6zM189.0 246.3h0.6v0.6h-0.6zM174.4 255.0h0.6v0.6h-0.6zM178.3 258.9h0.6v0.6h-0.6zM177.8 257.1h0.6v0.6h-0.6zM174.8 253.8h0.6v0.6h-0.6zM182.2 264.8h0.6v0.6h-0.6zM180.7 265.3h0.6v0.6h-0.6zM177.1 264.6h0.6v0.6h-0.6zM186.5 255.7h0.6v0.6h-0.6zM192.6 272.5h0.6v0.6h-0.6z" fill="#444" opacity="0.6"/>
<ellipse cx="214.4" cy="283.5" rx="12.8" ry="3.3" transform="rotate(-5 214.4 283.5)" fill="#f4f4f4" stroke="#333" stroke-width="0.5"/>
<ellipse cx="213.9" cy="283.6" rx="5.8" ry="1.2" transform="rotate(-5 214.4 283.5)" fill="none" stroke="#666" stroke-width="0.4"/>
<clipPath id="dc6"><polygon points="172.8,282.4 206.4,268.6 202.8,279.4 188.4,295.3 172.8,295.3"/></clipPath>
<path d="M177.5,285.4 Q191.5,279.1 205.5,270.8 M177.5,287.7 Q191.5,280.3 205.5,272.2 M177.5,290.4 Q191.5,281.6 205.5,273.8 M177.5,293.4 Q191.5,283.1 205.5,275.6 M177.5,296.4 Q191.5,284.6 205.5,277.4 " fill="none" stroke="#333" stroke-width="0.4" opacity="0.8" clip-path="url(#dc6)"/>
<rect x="171.5" y="281.4" width="1.3" height="16.599999999999994" fill="#222" opacity="0.85"/>
<rect x="172.0" y="296.8" width="19.9" height="1.2" fill="#222" opacity="0.7"/>
<polygon points="174.0,237.8 201.7,237.8 201.7,267.9 174.0,279.4" fill="none" stroke="#222" stroke-width="1.0" stroke-linejoin="miter"/>
<polygon points="211.0,270.9 234.5,270.9 234.5,295.3 192.9,295.3" fill="none" stroke="#222" stroke-width="1.0" stroke-linejoin="miter"/>
<polygon points="172.8,282.4 206.4,268.6 202.8,279.4 188.4,295.3 172.8,295.3" fill="none" stroke="#222" stroke-width="0.9" stroke-linejoin="miter"/>
<path d="M171.0,233.4 H236.0 V298.5" fill="none" stroke="#aaa" stroke-width="0.9"/>
<path d="M171.0,233.4 V298.5 H236.0" fill="none" stroke="#888" stroke-width="1.0"/>
<line x1="169.8" y1="233.4" x2="171.0" y2="233.4" stroke="#777" stroke-width="0.6"/>
<text x="167.9" y="235.3" font-size="2.8" font-weight="bold" text-anchor="end" fill="#444" textLength="7.5" lengthAdjust="spacingAndGlyphs">10000</text>
<line x1="169.8" y1="249.7" x2="171.0" y2="249.7" stroke="#777" stroke-width="0.6"/>
<text x="167.9" y="251.6" font-size="2.8" font-weight="bold" text-anchor="end" fill="#444" textLength="6.0" lengthAdjust="spacingAndGlyphs">1000</text>
<line x1="169.8" y1="265.9" x2="171.0" y2="265.9" stroke="#777" stroke-width="0.6"/>
<text x="167.9" y="267.8" font-size="2.8" font-weight="bold" text-anchor="end" fill="#444" textLength="4.5" lengthAdjust="spacingAndGlyphs">100</text>
<line x1="169.8" y1="282.2" x2="171.0" y2="282.2" stroke="#777" stroke-width="0.6"/>
<text x="167.9" y="284.1" font-size="2.8" font-weight="bold" text-anchor="end" fill="#444" textLength="3.0" lengthAdjust="spacingAndGlyphs">10</text>
<line x1="169.8" y1="298.5" x2="171.0" y2="298.5" stroke="#777" stroke-width="0.6"/>
<text x="167.9" y="300.4" font-size="2.8" font-weight="bold" text-anchor="end" fill="#444" textLength="1.5" lengthAdjust="spacingAndGlyphs">1</text>
<line x1="171.0" y1="298.5" x2="171.0" y2="299.7" stroke="#777" stroke-width="0.6"/>
<text x="171.0" y="303.8" font-size="2.8" font-weight="bold" text-anchor="middle" fill="#444" textLength="1.5" lengthAdjust="spacingAndGlyphs">1</text>
<line x1="187.2" y1="298.5" x2="187.2" y2="299.7" stroke="#777" stroke-width="0.6"/>
<text x="187.2" y="303.8" font-size="2.8" font-weight="bold" text-anchor="middle" fill="#444" textLength="3.0" lengthAdjust="spacingAndGlyphs">10</text>
<line x1="203.5" y1="298.5" x2="203.5" y2="299.7" stroke="#777" stroke-width="0.6"/>
<text x="203.5" y="303.8" font-size="2.8" font-weight="bold" text-anchor="middle" fill="#444" textLength="4.5" lengthAdjust="spacingAndGlyphs">100</text>
<line x1="219.8" y1="298.5" x2="219.8" y2="299.7" stroke="#777" stroke-width="0.6"/>
<text x="219.8" y="303.8" font-size="2.8" font-weight="bold" text-anchor="middle" fill="#444" textLength="6.0" lengthAdjust="spacingAndGlyphs">1000</text>
<line x1="236.0" y1="298.5" x2="236.0" y2="299.7" stroke="#777" stroke-width="0.6"/>
<text x="236.0" y="303.8" font-size="2.8" font-weight="bold" text-anchor="middle" fill="#444" textLength="7.5" lengthAdjust="spacingAndGlyphs">10000</text>
<text transform="translate(204.86,242.14) scale(0.0597,0.0592)" font-size="100" font-weight="bold" fill="#000" stroke="#000" stroke-width="3.70">&lt;0.1</text>
<text transform="translate(223.66,266.44) scale(0.0606,0.0563)" font-size="100" font-weight="bold" fill="#000" stroke="#000" stroke-width="3.76">6.1</text>
<text x="43.5" y="229.9" font-size="7.8" font-weight="bold" fill="#000" textLength="11.7" lengthAdjust="spacingAndGlyphs">WT</text>
<text x="118.8" y="230.3" font-size="7.5" font-weight="bold" fill="#000" textLength="16.6" lengthAdjust="spacingAndGlyphs">IL-17</text>
<text x="138.1" y="225.9" font-size="4.3" font-weight="bold" fill="#000" textLength="5.0" lengthAdjust="spacingAndGlyphs">-/-</text>
<text x="180.2" y="231.6" font-size="7.0" font-weight="bold" fill="#000" textLength="16.1" lengthAdjust="spacingAndGlyphs">IL-17</text>
<text x="197.5" y="228.4" font-size="4.3" font-weight="bold" fill="#000" textLength="5.2" lengthAdjust="spacingAndGlyphs">-/-</text>
<text x="203.3" y="231.6" font-size="7.0" font-weight="bold" fill="#000" textLength="20.7" lengthAdjust="spacingAndGlyphs">+IL-17</text>
<line x1="5.0" y1="238.6" x2="5.0" y2="257.6" stroke="#222" stroke-width="0.9"/>
<path d="M3.0,239.1 L5.0,233.1 L7.0,239.1 Z" fill="#111"/>
<line x1="5.0" y1="279.7" x2="5.0" y2="301.8" stroke="#222" stroke-width="0.9"/>
<text transform="translate(7.30,277.30) rotate(-90) scale(0.0712,0.0638)" font-size="100" font-weight="bold" fill="#000" stroke="#000" stroke-width="3.26">IL-17</text>
<line x1="11.9" y1="309.9" x2="118.0" y2="309.9" stroke="#222" stroke-width="0.9"/>
<line x1="146.3" y1="309.9" x2="231.7" y2="309.9" stroke="#222" stroke-width="0.9"/>
<path d="M231.2,308.09999999999997 L237.7,309.9 L231.2,311.7 Z" fill="#111"/>
<text transform="translate(121.63,311.89) scale(0.0665,0.0622)" font-size="100" font-weight="bold" fill="#000" stroke="#000" stroke-width="3.42">IFN-&#947;</text>
<text transform="translate(251.60,117.79) scale(0.1000,0.1127)" font-size="100" font-weight="bold" fill="#000" stroke="#000" stroke-width="2.07">G</text>
<ellipse cx="312.40000000000003" cy="182.0" rx="20" ry="4.5" transform="rotate(0 312.40000000000003 182.0)" fill="#d6d6d6" opacity="0.9" filter="url(#b2)"/>
<ellipse cx="290.90000000000003" cy="181.5" rx="10" ry="6.5" transform="rotate(-10 290.90000000000003 181.5)" fill="#8a8a8a" opacity="0.9" filter="url(#b2)"/>
<ellipse cx="292.40000000000003" cy="180.5" rx="6.0" ry="3.8" transform="rotate(-10 292.40000000000003 180.5)" fill="#222" opacity="0.95" filter="url(#b1)"/>
<ellipse cx="292.40000000000003" cy="180.5" rx="3.5" ry="2.2" transform="rotate(-10 292.40000000000003 180.5)" fill="#000" opacity="0.9" filter="url(#b3)"/>
<path d="M300.7 178.3h0.6v0.6h-0.6zM290.0 181.7h0.6v0.6h-0.6zM290.9 178.6h0.6v0.6h-0.6zM297.8 178.4h0.6v0.6h-0.6zM286.8 175.8h0.6v0.6h-0.6zM294.1 181.0h0.6v0.6h-0.6zM293.1 186.1h0.6v0.6h-0.6zM288.4 182.2h0.6v0.6h-0.6zM291.0 182.4h0.6v0.6h-0.6zM283.3 179.1h0.6v0.6h-0.6zM290.0 186.3h0.6v0.6h-0.6zM281.3 180.2h0.6v0.6h-0.6zM304.1 181.6h0.6v0.6h-0.6zM299.7 180.0h0.6v0.6h-0.6zM297.7 176.7h0.6v0.6h-0.6zM294.1 184.2h0.6v0.6h-0.6zM297.1 180.1h0.6v0.6h-0.6zM298.6 180.4h0.6v0.6h-0.6zM297.4 181.6h0.6v0.6h-0.6zM296.6 180.1h0.6v0.6h-0.6zM287.0 180.5h0.6v0.6h-0.6zM294.4 182.2h0.6v0.6h-0.6zM289.0 180.1h0.6v0.6h-0.6zM285.9 182.3h0.6v0.6h-0.6zM285.7 179.8h0.6v0.6h-0.6zM293.2 175.6h0.6v0.6h-0.6zM296.9 177.8h0.6v0.6h-0.6zM284.6 180.6h0.6v0.6h-0.6zM300.9 179.5h0.6v0.6h-0.6zM300.1 183.6h0.6v0.6h-0.6zM289.0 175.7h0.6v0.6h-0.6zM289.6 181.8h0.6v0.6h-0.6zM290.2 173.7h0.6v0.6h-0.6zM296.3 176.6h0.6v0.6h-0.6zM289.7 179.6h0.6v0.6h-0.6zM284.9 174.5h0.6v0.6h-0.6zM292.6 174.5h0.6v0.6h-0.6zM281.4 183.4h0.6v0.6h-0.6zM292.7 181.1h0.6v0.6h-0.6zM297.8 179.6h0.6v0.6h-0.6zM293.0 178.0h0.6v0.6h-0.6zM297.2 187.5h0.6v0.6h-0.6zM294.3 180.0h0.6v0.6h-0.6zM295.1 177.5h0.6v0.6h-0.6zM293.6 186.5h0.6v0.6h-0.6zM288.0 183.8h0.6v0.6h-0.6zM290.5 180.0h0.6v0.6h-0.6zM292.2 185.1h0.6v0.6h-0.6zM298.4 180.4h0.6v0.6h-0.6zM300.6 181.7h0.6v0.6h-0.6zM294.2 181.4h0.6v0.6h-0.6zM287.4 178.2h0.6v0.6h-0.6zM288.7 184.9h0.6v0.6h-0.6zM291.0 181.7h0.6v0.6h-0.6zM298.4 176.4h0.6v0.6h-0.6zM293.2 178.1h0.6v0.6h-0.6zM292.2 184.2h0.6v0.6h-0.6zM287.8 180.5h0.6v0.6h-0.6zM296.4 180.4h0.6v0.6h-0.6zM293.8 182.9h0.6v0.6h-0.6zM291.7 181.5h0.6v0.6h-0.6zM291.5 175.8h0.6v0.6h-0.6zM300.9 181.6h0.6v0.6h-0.6zM291.6 184.3h0.6v0.6h-0.6zM301.1 182.4h0.6v0.6h-0.6zM299.2 185.3h0.6v0.6h-0.6zM292.4 182.2h0.6v0.6h-0.6zM296.9 182.8h0.6v0.6h-0.6zM292.2 186.4h0.6v0.6h-0.6zM287.5 180.8h0.6v0.6h-0.6zM291.6 187.1h0.6v0.6h-0.6zM288.3 187.6h0.6v0.6h-0.6zM295.0 183.2h0.6v0.6h-0.6zM293.1 187.1h0.6v0.6h-0.6zM295.3 183.3h0.6v0.6h-0.6zM295.6 177.3h0.6v0.6h-0.6zM276.6 187.6h0.6v0.6h-0.6zM293.7 181.8h0.6v0.6h-0.6zM282.9 184.0h0.6v0.6h-0.6zM292.8 181.4h0.6v0.6h-0.6zM288.2 186.3h0.6v0.6h-0.6zM292.8 182.8h0.6v0.6h-0.6zM298.5 177.4h0.6v0.6h-0.6zM283.4 184.2h0.6v0.6h-0.6zM293.3 183.3h0.6v0.6h-0.6zM291.1 178.6h0.6v0.6h-0.6zM282.0 181.3h0.6v0.6h-0.6zM295.0 179.1h0.6v0.6h-0.6zM291.7 178.9h0.6v0.6h-0.6zM289.5 182.6h0.6v0.6h-0.6zM288.8 185.1h0.6v0.6h-0.6zM309.5 184.4h0.6v0.6h-0.6zM290.6 185.4h0.6v0.6h-0.6zM283.3 186.0h0.6v0.6h-0.6zM287.8 185.7h0.6v0.6h-0.6zM290.8 185.8h0.6v0.6h-0.6zM289.7 180.1h0.6v0.6h-0.6zM291.9 183.4h0.6v0.6h-0.6zM286.7 183.0h0.6v0.6h-0.6zM294.6 180.1h0.6v0.6h-0.6zM289.2 179.9h0.6v0.6h-0.6zM284.6 180.5h0.6v0.6h-0.6zM287.6 180.8h0.6v0.6h-0.6zM289.2 177.2h0.6v0.6h-0.6zM296.6 182.0h0.6v0.6h-0.6zM294.4 180.5h0.6v0.6h-0.6zM290.2 181.7h0.6v0.6h-0.6zM292.2 182.1h0.6v0.6h-0.6zM293.4 183.2h0.6v0.6h-0.6zM302.0 177.2h0.6v0.6h-0.6zM288.7 181.2h0.6v0.6h-0.6zM293.3 175.2h0.6v0.6h-0.6zM294.3 172.9h0.6v0.6h-0.6zM285.9 175.4h0.6v0.6h-0.6zM293.8 186.0h0.6v0.6h-0.6zM291.7 174.7h0.6v0.6h-0.6zM289.8 183.0h0.6v0.6h-0.6zM295.7 185.4h0.6v0.6h-0.6zM296.9 178.5h0.6v0.6h-0.6zM298.7 185.4h0.6v0.6h-0.6zM292.0 187.4h0.6v0.6h-0.6zM293.4 184.0h0.6v0.6h-0.6zM305.3 186.8h0.6v0.6h-0.6zM286.6 184.1h0.6v0.6h-0.6zM292.6 178.4h0.6v0.6h-0.6zM296.8 182.0h0.6v0.6h-0.6zM292.4 179.4h0.6v0.6h-0.6zM294.5 176.1h0.6v0.6h-0.6zM292.0 176.6h0.6v0.6h-0.6zM297.1 188.1h0.6v0.6h-0.6zM298.2 178.0h0.6v0.6h-0.6zM290.8 181.1h0.6v0.6h-0.6zM292.5 178.6h0.6v0.6h-0.6zM291.7 181.5h0.6v0.6h-0.6zM289.7 180.6h0.6v0.6h-0.6zM291.6 179.7h0.6v0.6h-0.6zM285.4 178.0h0.6v0.6h-0.6zM294.9 175.6h0.6v0.6h-0.6zM300.2 177.0h0.6v0.6h-0.6zM300.8 180.5h0.6v0.6h-0.6zM299.7 186.8h0.6v0.6h-0.6zM287.6 185.4h0.6v0.6h-0.6zM300.8 185.8h0.6v0.6h-0.6zM288.5 183.3h0.6v0.6h-0.6zM291.6 180.8h0.6v0.6h-0.6zM300.6 174.9h0.6v0.6h-0.6zM286.4 182.0h0.6v0.6h-0.6zM295.0 173.1h0.6v0.6h-0.6zM293.2 179.8h0.6v0.6h-0.6zM292.1 186.6h0.6v0.6h-0.6zM287.6 183.0h0.6v0.6h-0.6zM294.7 184.5h0.6v0.6h-0.6zM289.3 180.2h0.6v0.6h-0.6zM296.5 175.5h0.6v0.6h-0.6zM297.9 178.4h0.6v0.6h-0.6zM284.6 181.0h0.6v0.6h-0.6zM290.0 185.6h0.6v0.6h-0.6zM291.4 188.0h0.6v0.6h-0.6zM285.4 179.7h0.6v0.6h-0.6zM286.0 180.9h0.6v0.6h-0.6zM292.3 180.5h0.6v0.6h-0.6zM290.6 180.1h0.6v0.6h-0.6zM282.7 178.4h0.6v0.6h-0.6zM289.2 181.9h0.6v0.6h-0.6zM294.8 181.8h0.6v0.6h-0.6zM286.0 183.5h0.6v0.6h-0.6zM286.5 177.9h0.6v0.6h-0.6zM300.0 179.3h0.6v0.6h-0.6zM297.6 174.1h0.6v0.6h-0.6zM284.2 185.6h0.6v0.6h-0.6zM284.4 178.9h0.6v0.6h-0.6zM293.7 179.8h0.6v0.6h-0.6zM285.5 180.7h0.6v0.6h-0.6zM290.3 179.4h0.6v0.6h-0.6zM289.0 178.0h0.6v0.6h-0.6zM293.7 174.7h0.6v0.6h-0.6zM280.0 189.2h0.6v0.6h-0.6zM280.8 183.9h0.6v0.6h-0.6zM285.8 183.1h0.6v0.6h-0.6zM298.3 187.2h0.6v0.6h-0.6zM291.1 180.9h0.6v0.6h-0.6zM283.5 184.5h0.6v0.6h-0.6zM294.5 180.7h0.6v0.6h-0.6zM296.2 184.4h0.6v0.6h-0.6zM291.0 183.0h0.6v0.6h-0.6zM290.4 182.5h0.6v0.6h-0.6zM294.0 179.9h0.6v0.6h-0.6zM298.3 180.9h0.6v0.6h-0.6zM293.4 184.9h0.6v0.6h-0.6zM293.4 173.7h0.6v0.6h-0.6zM291.6 180.7h0.6v0.6h-0.6zM289.7 180.1h0.6v0.6h-0.6zM287.1 180.9h0.6v0.6h-0.6zM292.1 174.3h0.6v0.6h-0.6zM290.8 183.8h0.6v0.6h-0.6zM290.2 178.5h0.6v0.6h-0.6zM296.5 179.5h0.6v0.6h-0.6zM294.1 179.0h0.6v0.6h-0.6zM295.4 174.7h0.6v0.6h-0.6zM283.6 181.0h0.6v0.6h-0.6zM293.7 174.4h0.6v0.6h-0.6zM288.3 178.5h0.6v0.6h-0.6zM287.6 180.8h0.6v0.6h-0.6zM287.6 181.9h0.6v0.6h-0.6zM298.2 180.2h0.6v0.6h-0.6zM296.1 179.9h0.6v0.6h-0.6zM289.5 188.9h0.6v0.6h-0.6zM286.4 183.6h0.6v0.6h-0.6zM291.3 177.0h0.6v0.6h-0.6zM289.2 179.5h0.6v0.6h-0.6zM300.0 177.4h0.6v0.6h-0.6zM284.3 181.8h0.6v0.6h-0.6zM282.2 180.7h0.6v0.6h-0.6zM290.1 178.5h0.6v0.6h-0.6zM292.9 186.6h0.6v0.6h-0.6zM292.6 181.1h0.6v0.6h-0.6zM295.6 179.3h0.6v0.6h-0.6zM302.4 178.4h0.6v0.6h-0.6zM290.0 180.7h0.6v0.6h-0.6zM290.0 186.3h0.6v0.6h-0.6zM283.2 184.3h0.6v0.6h-0.6zM293.8 184.7h0.6v0.6h-0.6zM294.4 169.9h0.6v0.6h-0.6zM290.8 182.4h0.6v0.6h-0.6zM298.6 183.6h0.6v0.6h-0.6zM293.2 187.7h0.6v0.6h-0.6zM299.7 179.8h0.6v0.6h-0.6zM292.6 175.1h0.6v0.6h-0.6zM286.9 184.0h0.6v0.6h-0.6zM288.3 179.7h0.6v0.6h-0.6zM283.0 176.5h0.6v0.6h-0.6zM282.7 180.6h0.6v0.6h-0.6zM293.9 184.4h0.6v0.6h-0.6zM297.1 184.4h0.6v0.6h-0.6zM302.4 181.8h0.6v0.6h-0.6zM291.0 177.7h0.6v0.6h-0.6zM292.2 189.8h0.6v0.6h-0.6zM285.6 178.2h0.6v0.6h-0.6zM296.9 180.0h0.6v0.6h-0.6zM293.1 175.9h0.6v0.6h-0.6zM289.7 186.1h0.6v0.6h-0.6zM295.7 182.0h0.6v0.6h-0.6zM295.3 183.6h0.6v0.6h-0.6zM282.4 183.1h0.6v0.6h-0.6zM295.7 180.2h0.6v0.6h-0.6zM292.7 181.6h0.6v0.6h-0.6zM288.8 175.2h0.6v0.6h-0.6zM290.4 184.8h0.6v0.6h-0.6zM301.4 182.6h0.6v0.6h-0.6zM299.6 178.4h0.6v0.6h-0.6zM301.3 179.4h0.6v0.6h-0.6zM286.2 183.2h0.6v0.6h-0.6zM289.5 187.0h0.6v0.6h-0.6zM296.8 181.8h0.6v0.6h-0.6zM285.8 182.4h0.6v0.6h-0.6zM287.9 180.1h0.6v0.6h-0.6zM281.8 177.7h0.6v0.6h-0.6zM301.1 177.5h0.6v0.6h-0.6zM297.4 180.4h0.6v0.6h-0.6zM294.1 179.9h0.6v0.6h-0.6zM293.1 181.2h0.6v0.6h-0.6zM290.2 184.0h0.6v0.6h-0.6zM290.1 183.0h0.6v0.6h-0.6zM295.2 181.5h0.6v0.6h-0.6zM288.7 184.0h0.6v0.6h-0.6zM298.3 180.7h0.6v0.6h-0.6zM289.4 181.5h0.6v0.6h-0.6zM287.7 183.5h0.6v0.6h-0.6zM297.6 174.2h0.6v0.6h-0.6zM291.9 185.5h0.6v0.6h-0.6zM294.0 176.3h0.6v0.6h-0.6zM290.3 184.3h0.6v0.6h-0.6zM280.4 183.2h0.6v0.6h-0.6zM295.4 184.4h0.6v0.6h-0.6zM285.1 182.5h0.6v0.6h-0.6zM296.9 177.0h0.6v0.6h-0.6zM284.6 186.2h0.6v0.6h-0.6zM282.5 183.5h0.6v0.6h-0.6zM293.6 181.3h0.6v0.6h-0.6zM294.2 181.1h0.6v0.6h-0.6zM293.1 184.4h0.6v0.6h-0.6zM286.2 185.0h0.6v0.6h-0.6zM296.6 181.1h0.6v0.6h-0.6zM283.5 177.3h0.6v0.6h-0.6zM289.3 180.2h0.6v0.6h-0.6zM288.0 182.2h0.6v0.6h-0.6zM291.1 187.5h0.6v0.6h-0.6zM296.5 181.7h0.6v0.6h-0.6zM288.6 181.4h0.6v0.6h-0.6zM295.5 184.7h0.6v0.6h-0.6zM295.4 180.2h0.6v0.6h-0.6zM283.2 182.6h0.6v0.6h-0.6zM286.1 182.8h0.6v0.6h-0.6zM289.1 176.5h0.6v0.6h-0.6zM289.5 184.9h0.6v0.6h-0.6zM293.8 182.3h0.6v0.6h-0.6zM281.9 182.0h0.6v0.6h-0.6zM294.9 176.7h0.6v0.6h-0.6zM295.9 181.2h0.6v0.6h-0.6zM291.9 186.0h0.6v0.6h-0.6zM284.5 180.3h0.6v0.6h-0.6zM291.3 177.6h0.6v0.6h-0.6zM289.4 183.1h0.6v0.6h-0.6zM293.9 175.3h0.6v0.6h-0.6zM290.2 173.8h0.6v0.6h-0.6zM295.4 179.0h0.6v0.6h-0.6zM289.3 179.3h0.6v0.6h-0.6zM299.2 179.0h0.6v0.6h-0.6zM279.8 181.4h0.6v0.6h-0.6zM286.9 183.2h0.6v0.6h-0.6zM294.3 180.0h0.6v0.6h-0.6zM283.8 180.5h0.6v0.6h-0.6zM295.4 179.0h0.6v0.6h-0.6zM286.1 184.4h0.6v0.6h-0.6zM293.0 184.3h0.6v0.6h-0.6zM287.8 185.0h0.6v0.6h-0.6zM290.1 183.9h0.6v0.6h-0.6zM290.9 170.0h0.6v0.6h-0.6zM290.8 177.9h0.6v0.6h-0.6zM289.8 180.5h0.6v0.6h-0.6zM303.1 179.9h0.6v0.6h-0.6zM291.0 175.8h0.6v0.6h-0.6zM287.8 186.8h0.6v0.6h-0.6zM296.9 181.4h0.6v0.6h-0.6zM295.8 178.4h0.6v0.6h-0.6zM298.3 180.6h0.6v0.6h-0.6zM300.9 178.4h0.6v0.6h-0.6zM286.7 179.5h0.6v0.6h-0.6zM297.7 181.9h0.6v0.6h-0.6zM297.5 178.7h0.6v0.6h-0.6zM291.1 176.5h0.6v0.6h-0.6zM292.8 178.9h0.6v0.6h-0.6zM276.5 183.5h0.6v0.6h-0.6zM288.4 178.1h0.6v0.6h-0.6zM301.8 183.8h0.6v0.6h-0.6zM282.1 179.2h0.6v0.6h-0.6zM290.2 187.6h0.6v0.6h-0.6zM293.9 183.9h0.6v0.6h-0.6zM294.3 177.5h0.6v0.6h-0.6zM300.4 180.2h0.6v0.6h-0.6zM283.6 186.8h0.6v0.6h-0.6zM292.0 180.5h0.6v0.6h-0.6zM295.6 176.4h0.6v0.6h-0.6zM285.3 182.8h0.6v0.6h-0.6zM292.9 187.9h0.6v0.6h-0.6zM300.7 174.5h0.6v0.6h-0.6zM299.0 181.9h0.6v0.6h-0.6zM294.7 180.8h0.6v0.6h-0.6zM278.5 183.2h0.6v0.6h-0.6zM291.0 180.0h0.6v0.6h-0.6zM293.7 179.8h0.6v0.6h-0.6zM291.0 185.0h0.6v0.6h-0.6zM292.0 183.3h0.6v0.6h-0.6zM307.1 175.1h0.6v0.6h-0.6zM291.8 186.6h0.6v0.6h-0.6zM286.2 177.8h0.6v0.6h-0.6zM293.6 183.2h0.6v0.6h-0.6zM290.4 182.1h0.6v0.6h-0.6zM291.1 185.5h0.6v0.6h-0.6zM291.7 182.5h0.6v0.6h-0.6zM296.5 184.1h0.6v0.6h-0.6zM293.1 180.9h0.6v0.6h-0.6zM286.4 185.6h0.6v0.6h-0.6zM291.5 182.5h0.6v0.6h-0.6zM295.6 188.0h0.6v0.6h-0.6zM289.1 179.3h0.6v0.6h-0.6zM298.5 184.2h0.6v0.6h-0.6zM296.2 182.1h0.6v0.6h-0.6zM287.0 182.7h0.6v0.6h-0.6zM293.2 179.1h0.6v0.6h-0.6zM302.4 180.9h0.6v0.6h-0.6zM299.1 174.9h0.6v0.6h-0.6zM290.8 176.7h0.6v0.6h-0.6zM297.0 182.8h0.6v0.6h-0.6zM287.6 176.6h0.6v0.6h-0.6zM285.4 187.4h0.6v0.6h-0.6zM294.6 179.8h0.6v0.6h-0.6zM293.4 181.9h0.6v0.6h-0.6zM294.6 181.0h0.6v0.6h-0.6zM292.1 182.7h0.6v0.6h-0.6zM293.4 180.0h0.6v0.6h-0.6zM289.1 180.5h0.6v0.6h-0.6zM294.3 180.4h0.6v0.6h-0.6zM296.8 184.0h0.6v0.6h-0.6zM292.3 185.1h0.6v0.6h-0.6zM296.9 184.8h0.6v0.6h-0.6zM283.1 184.1h0.6v0.6h-0.6zM287.8 181.3h0.6v0.6h-0.6zM298.4 174.3h0.6v0.6h-0.6zM301.3 181.8h0.6v0.6h-0.6zM293.7 183.8h0.6v0.6h-0.6zM291.2 180.0h0.6v0.6h-0.6zM285.9 185.1h0.6v0.6h-0.6zM294.6 185.2h0.6v0.6h-0.6zM296.0 180.9h0.6v0.6h-0.6zM285.0 186.1h0.6v0.6h-0.6zM295.0 181.8h0.6v0.6h-0.6zM293.4 175.0h0.6v0.6h-0.6zM293.9 179.3h0.6v0.6h-0.6zM285.9 180.9h0.6v0.6h-0.6zM295.0 182.5h0.6v0.6h-0.6zM283.8 179.7h0.6v0.6h-0.6zM299.3 178.4h0.6v0.6h-0.6zM292.1 177.9h0.6v0.6h-0.6zM286.0 182.2h0.6v0.6h-0.6zM298.9 180.3h0.6v0.6h-0.6zM298.4 183.5h0.6v0.6h-0.6zM289.1 184.5h0.6v0.6h-0.6zM303.3 179.8h0.6v0.6h-0.6zM286.9 183.0h0.6v0.6h-0.6zM293.6 181.3h0.6v0.6h-0.6zM298.1 180.6h0.6v0.6h-0.6zM281.2 188.5h0.6v0.6h-0.6zM295.6 172.0h0.6v0.6h-0.6zM291.5 180.7h0.6v0.6h-0.6zM292.0 182.3h0.6v0.6h-0.6zM287.1 186.0h0.6v0.6h-0.6zM293.0 177.3h0.6v0.6h-0.6zM286.5 183.4h0.6v0.6h-0.6zM287.5 185.0h0.6v0.6h-0.6zM289.4 180.2h0.6v0.6h-0.6zM284.5 176.0h0.6v0.6h-0.6zM299.8 178.6h0.6v0.6h-0.6zM284.4 178.4h0.6v0.6h-0.6zM288.5 184.1h0.6v0.6h-0.6zM289.8 178.7h0.6v0.6h-0.6zM293.0 187.2h0.6v0.6h-0.6zM296.1 181.0h0.6v0.6h-0.6zM295.7 177.8h0.6v0.6h-0.6zM290.1 179.8h0.6v0.6h-0.6zM289.3 177.9h0.6v0.6h-0.6zM292.4 182.5h0.6v0.6h-0.6zM297.0 185.5h0.6v0.6h-0.6zM295.4 179.9h0.6v0.6h-0.6zM289.8 184.8h0.6v0.6h-0.6zM280.8 180.0h0.6v0.6h-0.6zM303.1 180.4h0.6v0.6h-0.6zM298.2 188.1h0.6v0.6h-0.6zM292.5 176.3h0.6v0.6h-0.6zM294.4 185.1h0.6v0.6h-0.6zM290.0 185.7h0.6v0.6h-0.6zM285.7 175.9h0.6v0.6h-0.6zM289.4 176.8h0.6v0.6h-0.6zM290.2 178.2h0.6v0.6h-0.6zM289.3 185.1h0.6v0.6h-0.6zM284.2 181.1h0.6v0.6h-0.6zM290.2 181.0h0.6v0.6h-0.6zM295.3 183.1h0.6v0.6h-0.6zM289.5 182.1h0.6v0.6h-0.6zM292.2 182.0h0.6v0.6h-0.6zM281.2 182.1h0.6v0.6h-0.6zM291.5 185.2h0.6v0.6h-0.6zM290.9 178.8h0.6v0.6h-0.6zM286.7 188.0h0.6v0.6h-0.6zM282.9 181.7h0.6v0.6h-0.6zM293.6 178.2h0.6v0.6h-0.6zM288.2 184.2h0.6v0.6h-0.6zM294.7 182.3h0.6v0.6h-0.6zM288.6 175.0h0.6v0.6h-0.6zM295.3 181.4h0.6v0.6h-0.6zM289.4 177.0h0.6v0.6h-0.6zM283.7 179.8h0.6v0.6h-0.6zM292.0 184.0h0.6v0.6h-0.6zM289.8 178.7h0.6v0.6h-0.6zM295.5 181.8h0.6v0.6h-0.6zM289.4 180.4h0.6v0.6h-0.6zM291.1 188.1h0.6v0.6h-0.6zM296.3 180.1h0.6v0.6h-0.6zM297.2 176.3h0.6v0.6h-0.6zM295.2 176.9h0.6v0.6h-0.6zM296.7 177.3h0.6v0.6h-0.6zM294.3 181.3h0.6v0.6h-0.6zM295.9 180.5h0.6v0.6h-0.6zM297.0 183.7h0.6v0.6h-0.6zM294.1 181.4h0.6v0.6h-0.6zM292.3 181.6h0.6v0.6h-0.6zM292.9 182.2h0.6v0.6h-0.6zM304.2 178.6h0.6v0.6h-0.6zM292.2 182.2h0.6v0.6h-0.6zM291.2 184.1h0.6v0.6h-0.6zM290.5 184.2h0.6v0.6h-0.6zM291.4 179.4h0.6v0.6h-0.6zM292.1 175.1h0.6v0.6h-0.6zM285.7 179.5h0.6v0.6h-0.6zM282.0 184.0h0.6v0.6h-0.6zM292.0 172.6h0.6v0.6h-0.6zM283.4 181.1h0.6v0.6h-0.6zM293.5 182.5h0.6v0.6h-0.6zM292.3 179.2h0.6v0.6h-0.6zM297.2 176.4h0.6v0.6h-0.6zM301.5 185.6h0.6v0.6h-0.6zM294.6 185.5h0.6v0.6h-0.6zM288.9 180.8h0.6v0.6h-0.6zM286.7 186.7h0.6v0.6h-0.6zM288.6 186.3h0.6v0.6h-0.6zM291.5 177.4h0.6v0.6h-0.6zM282.9 192.0h0.6v0.6h-0.6zM291.8 178.0h0.6v0.6h-0.6zM291.7 180.3h0.6v0.6h-0.6zM294.6 176.9h0.6v0.6h-0.6zM313.0 178.3h0.6v0.6h-0.6zM297.5 183.9h0.6v0.6h-0.6zM311.8 191.6h0.6v0.6h-0.6zM324.0 178.1h0.6v0.6h-0.6zM314.4 178.6h0.6v0.6h-0.6zM309.1 182.9h0.6v0.6h-0.6zM329.0 183.6h0.6v0.6h-0.6zM302.2 179.5h0.6v0.6h-0.6zM322.6 182.3h0.6v0.6h-0.6zM308.8 176.7h0.6v0.6h-0.6zM314.4 180.9h0.6v0.6h-0.6zM312.3 184.7h0.6v0.6h-0.6zM313.3 187.1h0.6v0.6h-0.6zM311.4 181.3h0.6v0.6h-0.6zM303.4 180.9h0.6v0.6h-0.6zM305.7 183.2h0.6v0.6h-0.6zM316.7 185.4h0.6v0.6h-0.6zM310.7 183.4h0.6v0.6h-0.6zM299.2 179.2h0.6v0.6h-0.6zM304.2 182.8h0.6v0.6h-0.6zM304.3 184.8h0.6v0.6h-0.6zM311.4 179.6h0.6v0.6h-0.6zM313.9 177.6h0.6v0.6h-0.6zM312.9 183.5h0.6v0.6h-0.6zM304.7 182.9h0.6v0.6h-0.6zM312.0 184.9h0.6v0.6h-0.6zM296.8 181.9h0.6v0.6h-0.6zM280.2 179.2h0.6v0.6h-0.6zM311.3 180.4h0.6v0.6h-0.6zM293.7 178.2h0.6v0.6h-0.6zM301.5 178.6h0.6v0.6h-0.6zM298.6 179.8h0.6v0.6h-0.6zM318.8 180.4h0.6v0.6h-0.6zM298.4 185.2h0.6v0.6h-0.6zM314.9 178.0h0.6v0.6h-0.6zM306.4 181.6h0.6v0.6h-0.6zM298.2 179.7h0.6v0.6h-0.6zM294.4 186.3h0.6v0.6h-0.6zM316.8 182.8h0.6v0.6h-0.6zM316.0 180.7h0.6v0.6h-0.6zM320.2 184.6h0.6v0.6h-0.6zM331.8 182.4h0.6v0.6h-0.6zM314.7 180.4h0.6v0.6h-0.6zM314.7 186.8h0.6v0.6h-0.6zM310.3 184.1h0.6v0.6h-0.6zM312.7 187.4h0.6v0.6h-0.6zM307.7 185.5h0.6v0.6h-0.6zM301.8 184.1h0.6v0.6h-0.6zM333.5 182.7h0.6v0.6h-0.6zM291.2 178.0h0.6v0.6h-0.6zM314.4 184.2h0.6v0.6h-0.6zM316.5 182.2h0.6v0.6h-0.6zM313.2 184.0h0.6v0.6h-0.6zM301.0 181.6h0.6v0.6h-0.6zM309.5 179.6h0.6v0.6h-0.6zM306.5 178.6h0.6v0.6h-0.6zM299.7 183.9h0.6v0.6h-0.6zM310.9 186.0h0.6v0.6h-0.6zM307.0 180.9h0.6v0.6h-0.6zM305.4 183.2h0.6v0.6h-0.6zM318.9 186.4h0.6v0.6h-0.6zM299.9 179.0h0.6v0.6h-0.6zM316.3 180.9h0.6v0.6h-0.6zM304.8 178.2h0.6v0.6h-0.6zM316.1 185.7h0.6v0.6h-0.6zM312.2 182.7h0.6v0.6h-0.6zM314.1 180.4h0.6v0.6h-0.6zM300.7 176.4h0.6v0.6h-0.6zM302.9 181.1h0.6v0.6h-0.6zM301.9 184.9h0.6v0.6h-0.6zM313.3 181.0h0.6v0.6h-0.6zM319.6 180.7h0.6v0.6h-0.6zM323.2 184.1h0.6v0.6h-0.6zM305.9 177.9h0.6v0.6h-0.6zM312.3 182.1h0.6v0.6h-0.6zM293.5 183.5h0.6v0.6h-0.6zM287.0 179.0h0.6v0.6h-0.6zM301.9 179.1h0.6v0.6h-0.6zM304.0 182.5h0.6v0.6h-0.6zM294.3 181.3h0.6v0.6h-0.6zM291.8 180.8h0.6v0.6h-0.6zM317.1 182.6h0.6v0.6h-0.6zM302.5 182.4h0.6v0.6h-0.6zM292.9 178.6h0.6v0.6h-0.6zM336.8 180.2h0.6v0.6h-0.6zM313.1 183.3h0.6v0.6h-0.6zM307.7 185.4h0.6v0.6h-0.6zM318.6 186.3h0.6v0.6h-0.6zM302.9 179.0h0.6v0.6h-0.6zM328.6 185.7h0.6v0.6h-0.6zM294.3 184.0h0.6v0.6h-0.6zM296.9 181.5h0.6v0.6h-0.6zM309.7 183.4h0.6v0.6h-0.6zM302.7 184.4h0.6v0.6h-0.6zM326.5 187.8h0.6v0.6h-0.6zM293.6 178.2h0.6v0.6h-0.6zM303.1 183.7h0.6v0.6h-0.6zM313.8 181.5h0.6v0.6h-0.6zM317.3 181.3h0.6v0.6h-0.6zM322.0 185.7h0.6v0.6h-0.6zM314.8 184.5h0.6v0.6h-0.6zM335.3 179.1h0.6v0.6h-0.6zM305.9 180.9h0.6v0.6h-0.6zM313.0 182.6h0.6v0.6h-0.6zM320.5 177.6h0.6v0.6h-0.6zM307.5 184.6h0.6v0.6h-0.6zM307.8 181.6h0.6v0.6h-0.6zM305.9 182.3h0.6v0.6h-0.6zM304.0 182.8h0.6v0.6h-0.6zM298.5 187.4h0.6v0.6h-0.6zM304.9 181.9h0.6v0.6h-0.6zM294.0 180.5h0.6v0.6h-0.6zM315.1 187.5h0.6v0.6h-0.6zM293.6 180.0h0.6v0.6h-0.6zM333.6 180.6h0.6v0.6h-0.6zM329.7 177.8h0.6v0.6h-0.6zM323.0 185.5h0.6v0.6h-0.6zM308.6 182.7h0.6v0.6h-0.6zM304.5 183.3h0.6v0.6h-0.6zM324.3 182.7h0.6v0.6h-0.6zM312.9 181.5h0.6v0.6h-0.6zM317.1 179.5h0.6v0.6h-0.6zM303.1 179.3h0.6v0.6h-0.6zM322.6 183.5h0.6v0.6h-0.6zM302.1 182.1h0.6v0.6h-0.6zM312.0 187.1h0.6v0.6h-0.6zM292.0 179.2h0.6v0.6h-0.6zM303.7 180.2h0.6v0.6h-0.6zM316.4 178.8h0.6v0.6h-0.6zM305.9 186.2h0.6v0.6h-0.6zM306.1 177.9h0.6v0.6h-0.6zM319.5 184.5h0.6v0.6h-0.6zM310.0 186.4h0.6v0.6h-0.6zM324.5 181.7h0.6v0.6h-0.6zM284.3 183.7h0.6v0.6h-0.6zM317.2 175.3h0.6v0.6h-0.6zM316.4 180.8h0.6v0.6h-0.6zM294.0 176.4h0.6v0.6h-0.6zM296.6 182.2h0.6v0.6h-0.6zM320.5 182.1h0.6v0.6h-0.6zM299.2 179.3h0.6v0.6h-0.6zM303.8 184.8h0.6v0.6h-0.6zM317.4 183.1h0.6v0.6h-0.6zM307.2 180.2h0.6v0.6h-0.6zM316.1 180.4h0.6v0.6h-0.6zM301.4 177.1h0.6v0.6h-0.6zM314.1 181.4h0.6v0.6h-0.6zM322.6 188.8h0.6v0.6h-0.6zM314.4 179.7h0.6v0.6h-0.6zM286.8 182.8h0.6v0.6h-0.6zM318.0 180.3h0.6v0.6h-0.6zM311.4 184.5h0.6v0.6h-0.6zM300.9 183.1h0.6v0.6h-0.6zM326.1 181.4h0.6v0.6h-0.6zM291.8 175.9h0.6v0.6h-0.6zM331.4 180.6h0.6v0.6h-0.6zM303.8 185.6h0.6v0.6h-0.6zM328.1 181.4h0.6v0.6h-0.6zM310.3 183.9h0.6v0.6h-0.6zM296.3 180.1h0.6v0.6h-0.6zM312.0 176.0h0.6v0.6h-0.6zM314.4 183.3h0.6v0.6h-0.6zM316.7 183.0h0.6v0.6h-0.6zM322.5 180.3h0.6v0.6h-0.6zM301.0 180.6h0.6v0.6h-0.6zM316.2 182.9h0.6v0.6h-0.6zM318.9 180.2h0.6v0.6h-0.6zM307.8 183.0h0.6v0.6h-0.6zM300.6 181.1h0.6v0.6h-0.6zM300.5 174.3h0.6v0.6h-0.6zM319.0 181.6h0.6v0.6h-0.6zM319.6 180.2h0.6v0.6h-0.6zM301.8 179.1h0.6v0.6h-0.6zM296.1 182.9h0.6v0.6h-0.6zM324.4 180.6h0.6v0.6h-0.6zM293.8 183.3h0.6v0.6h-0.6zM312.5 185.4h0.6v0.6h-0.6zM302.0 182.2h0.6v0.6h-0.6zM291.7 176.7h0.6v0.6h-0.6zM312.2 179.6h0.6v0.6h-0.6zM308.7 184.8h0.6v0.6h-0.6zM326.6 181.4h0.6v0.6h-0.6zM335.7 179.8h0.6v0.6h-0.6zM308.7 181.6h0.6v0.6h-0.6zM322.0 183.7h0.6v0.6h-0.6zM322.2 182.9h0.6v0.6h-0.6zM305.0 183.9h0.6v0.6h-0.6zM301.3 179.1h0.6v0.6h-0.6zM328.4 181.4h0.6v0.6h-0.6zM306.8 181.1h0.6v0.6h-0.6zM310.5 181.8h0.6v0.6h-0.6zM307.7 175.2h0.6v0.6h-0.6zM309.3 181.1h0.6v0.6h-0.6zM304.2 177.6h0.6v0.6h-0.6zM318.9 186.5h0.6v0.6h-0.6zM324.4 187.1h0.6v0.6h-0.6zM306.6 187.2h0.6v0.6h-0.6zM295.6 184.2h0.6v0.6h-0.6zM311.4 180.4h0.6v0.6h-0.6zM294.5 184.7h0.6v0.6h-0.6zM303.8 181.2h0.6v0.6h-0.6zM324.2 184.1h0.6v0.6h-0.6zM336.2 179.5h0.6v0.6h-0.6zM314.9 180.1h0.6v0.6h-0.6zM299.1 183.2h0.6v0.6h-0.6zM319.2 187.7h0.6v0.6h-0.6zM286.2 181.4h0.6v0.6h-0.6zM303.1 188.9h0.6v0.6h-0.6zM327.3 190.9h0.6v0.6h-0.6zM319.0 178.0h0.6v0.6h-0.6zM295.7 181.6h0.6v0.6h-0.6zM292.6 178.6h0.6v0.6h-0.6zM320.2 181.7h0.6v0.6h-0.6zM310.3 180.2h0.6v0.6h-0.6zM304.3 181.6h0.6v0.6h-0.6zM315.2 185.1h0.6v0.6h-0.6zM304.4 184.8h0.6v0.6h-0.6zM289.7 182.4h0.6v0.6h-0.6zM319.6 182.1h0.6v0.6h-0.6zM303.7 182.2h0.6v0.6h-0.6zM299.8 182.1h0.6v0.6h-0.6zM296.2 183.5h0.6v0.6h-0.6zM313.5 182.0h0.6v0.6h-0.6zM301.9 183.4h0.6v0.6h-0.6zM317.7 177.9h0.6v0.6h-0.6zM307.8 184.4h0.6v0.6h-0.6zM322.5 187.7h0.6v0.6h-0.6zM306.5 182.4h0.6v0.6h-0.6zM303.7 177.3h0.6v0.6h-0.6zM289.2 185.8h0.6v0.6h-0.6zM319.0 176.4h0.6v0.6h-0.6zM330.9 184.9h0.6v0.6h-0.6zM300.9 194.6h0.6v0.6h-0.6zM309.9 194.7h0.6v0.6h-0.6zM321.3 185.4h0.6v0.6h-0.6zM313.2 180.4h0.6v0.6h-0.6zM305.5 189.9h0.6v0.6h-0.6zM316.8 184.9h0.6v0.6h-0.6zM321.4 192.0h0.6v0.6h-0.6zM327.2 192.2h0.6v0.6h-0.6zM311.8 188.7h0.6v0.6h-0.6zM318.2 196.0h0.6v0.6h-0.6zM288.3 187.3h0.6v0.6h-0.6zM286.2 196.0h0.6v0.6h-0.6zM327.8 187.4h0.6v0.6h-0.6zM290.2 175.8h0.6v0.6h-0.6zM303.9 186.7h0.6v0.6h-0.6zM332.6 190.5h0.6v0.6h-0.6zM285.2 181.2h0.6v0.6h-0.6zM319.4 174.4h0.6v0.6h-0.6zM291.8 179.3h0.6v0.6h-0.6zM316.0 190.8h0.6v0.6h-0.6zM328.2 175.5h0.6v0.6h-0.6zM328.5 170.2h0.6v0.6h-0.6zM325.7 193.5h0.6v0.6h-0.6zM309.0 195.9h0.6v0.6h-0.6zM310.7 193.2h0.6v0.6h-0.6zM286.8 191.4h0.6v0.6h-0.6zM283.3 189.5h0.6v0.6h-0.6zM323.8 184.7h0.6v0.6h-0.6zM279.2 187.4h0.6v0.6h-0.6zM335.7 189.9h0.6v0.6h-0.6zM287.7 178.7h0.6v0.6h-0.6zM322.0 175.4h0.6v0.6h-0.6zM304.5 188.5h0.6v0.6h-0.6zM315.1 186.1h0.6v0.6h-0.6zM324.4 196.4h0.6v0.6h-0.6zM294.8 181.0h0.6v0.6h-0.6zM328.8 181.0h0.6v0.6h-0.6zM324.3 173.2h0.6v0.6h-0.6zM313.1 170.3h0.6v0.6h-0.6zM312.7 173.6h0.6v0.6h-0.6zM300.5 185.8h0.6v0.6h-0.6zM338.0 195.7h0.6v0.6h-0.6zM300.7 172.9h0.6v0.6h-0.6zM283.0 150.7h0.6v0.6h-0.6zM293.4 161.6h0.6v0.6h-0.6zM285.8 162.4h0.6v0.6h-0.6zM280.7 168.4h0.6v0.6h-0.6zM297.6 156.0h0.6v0.6h-0.6zM282.8 140.9h0.6v0.6h-0.6z" fill="#333" opacity="0.6"/>
<polygon points="278.5,135.3 299.6,135.3 299.6,167.4 278.5,179.5" fill="none" stroke="#222" stroke-width="1.0" stroke-linejoin="miter"/>
<polygon points="306.3,169.4 338.0,169.4 338.0,193.0 286.8,193.0" fill="none" stroke="#222" stroke-width="1.0" stroke-linejoin="miter"/>
<path d="M273.2,129.9 H342.0 V198.7" fill="none" stroke="#aaa" stroke-width="0.9"/>
<path d="M273.2,129.9 V198.7 H342.0" fill="none" stroke="#888" stroke-width="1.0"/>
<line x1="272.0" y1="129.9" x2="273.2" y2="129.9" stroke="#777" stroke-width="0.6"/>
<text x="270.1" y="131.8" font-size="2.8" font-weight="bold" text-anchor="end" fill="#444" textLength="7.5" lengthAdjust="spacingAndGlyphs">10000</text>
<line x1="272.0" y1="147.1" x2="273.2" y2="147.1" stroke="#777" stroke-width="0.6"/>
<text x="270.1" y="149.0" font-size="2.8" font-weight="bold" text-anchor="end" fill="#444" textLength="6.0" lengthAdjust="spacingAndGlyphs">1000</text>
<line x1="272.0" y1="164.3" x2="273.2" y2="164.3" stroke="#777" stroke-width="0.6"/>
<text x="270.1" y="166.2" font-size="2.8" font-weight="bold" text-anchor="end" fill="#444" textLength="4.5" lengthAdjust="spacingAndGlyphs">100</text>
<line x1="272.0" y1="181.5" x2="273.2" y2="181.5" stroke="#777" stroke-width="0.6"/>
<text x="270.1" y="183.4" font-size="2.8" font-weight="bold" text-anchor="end" fill="#444" textLength="3.0" lengthAdjust="spacingAndGlyphs">10</text>
<line x1="272.0" y1="198.7" x2="273.2" y2="198.7" stroke="#777" stroke-width="0.6"/>
<text x="270.1" y="200.6" font-size="2.8" font-weight="bold" text-anchor="end" fill="#444" textLength="1.5" lengthAdjust="spacingAndGlyphs">1</text>
<line x1="273.2" y1="198.7" x2="273.2" y2="199.89999999999998" stroke="#777" stroke-width="0.6"/>
<text x="273.2" y="204.0" font-size="2.8" font-weight="bold" text-anchor="middle" fill="#444" textLength="1.5" lengthAdjust="spacingAndGlyphs">1</text>
<line x1="290.4" y1="198.7" x2="290.4" y2="199.89999999999998" stroke="#777" stroke-width="0.6"/>
<text x="290.4" y="204.0" font-size="2.8" font-weight="bold" text-anchor="middle" fill="#444" textLength="3.0" lengthAdjust="spacingAndGlyphs">10</text>
<line x1="307.6" y1="198.7" x2="307.6" y2="199.89999999999998" stroke="#777" stroke-width="0.6"/>
<text x="307.6" y="204.0" font-size="2.8" font-weight="bold" text-anchor="middle" fill="#444" textLength="4.5" lengthAdjust="spacingAndGlyphs">100</text>
<line x1="324.8" y1="198.7" x2="324.8" y2="199.89999999999998" stroke="#777" stroke-width="0.6"/>
<text x="324.8" y="204.0" font-size="2.8" font-weight="bold" text-anchor="middle" fill="#444" textLength="6.0" lengthAdjust="spacingAndGlyphs">1000</text>
<line x1="342.0" y1="198.7" x2="342.0" y2="199.89999999999998" stroke="#777" stroke-width="0.6"/>
<text x="342.0" y="204.0" font-size="2.8" font-weight="bold" text-anchor="middle" fill="#444" textLength="7.5" lengthAdjust="spacingAndGlyphs">10000</text>
<text transform="translate(300.52,141.65) scale(0.0465,0.0479)" font-size="100" font-weight="bold" fill="#000" stroke="#000" stroke-width="4.66">1.6</text>
<text transform="translate(325.60,165.05) scale(0.0508,0.0521)" font-size="100" font-weight="bold" fill="#000" stroke="#000" stroke-width="4.28">15.9</text>
<ellipse cx="380.6" cy="181.79999999999998" rx="20" ry="4.5" transform="rotate(0 380.6 181.79999999999998)" fill="#d6d6d6" opacity="0.9" filter="url(#b2)"/>
<ellipse cx="359.1" cy="181.29999999999998" rx="10" ry="6.5" transform="rotate(-10 359.1 181.29999999999998)" fill="#8a8a8a" opacity="0.9" filter="url(#b2)"/>
<ellipse cx="360.6" cy="180.29999999999998" rx="6.0" ry="3.8" transform="rotate(-10 360.6 180.29999999999998)" fill="#222" opacity="0.95" filter="url(#b1)"/>
<ellipse cx="360.6" cy="180.29999999999998" rx="3.5" ry="2.2" transform="rotate(-10 360.6 180.29999999999998)" fill="#000" opacity="0.9" filter="url(#b3)"/>
<path d="M352.3 184.1h0.6v0.6h-0.6zM361.4 180.4h0.6v0.6h-0.6zM356.1 178.3h0.6v0.6h-0.6zM356.3 183.8h0.6v0.6h-0.6zM362.4 175.1h0.6v0.6h-0.6zM356.9 183.3h0.6v0.6h-0.6zM355.1 178.4h0.6v0.6h-0.6zM356.8 182.5h0.6v0.6h-0.6zM361.1 185.1h0.6v0.6h-0.6zM374.3 180.0h0.6v0.6h-0.6zM348.9 180.5h0.6v0.6h-0.6zM359.9 180.5h0.6v0.6h-0.6zM358.5 179.6h0.6v0.6h-0.6zM364.1 175.9h0.6v0.6h-0.6zM357.4 177.3h0.6v0.6h-0.6zM347.4 182.9h0.6v0.6h-0.6zM367.0 181.2h0.6v0.6h-0.6zM353.4 175.7h0.6v0.6h-0.6zM359.6 180.4h0.6v0.6h-0.6zM353.3 183.5h0.6v0.6h-0.6zM354.4 181.9h0.6v0.6h-0.6zM356.8 177.7h0.6v0.6h-0.6zM364.9 183.2h0.6v0.6h-0.6zM363.5 175.8h0.6v0.6h-0.6zM357.3 183.2h0.6v0.6h-0.6zM363.4 185.4h0.6v0.6h-0.6zM356.9 174.2h0.6v0.6h-0.6zM360.7 181.3h0.6v0.6h-0.6zM360.9 181.4h0.6v0.6h-0.6zM363.2 180.7h0.6v0.6h-0.6zM356.3 178.6h0.6v0.6h-0.6zM359.1 179.6h0.6v0.6h-0.6zM360.2 175.7h0.6v0.6h-0.6zM360.5 180.9h0.6v0.6h-0.6zM356.2 183.0h0.6v0.6h-0.6zM368.3 176.8h0.6v0.6h-0.6zM357.0 177.9h0.6v0.6h-0.6zM363.5 178.3h0.6v0.6h-0.6zM360.9 180.3h0.6v0.6h-0.6zM366.2 179.6h0.6v0.6h-0.6zM348.7 182.1h0.6v0.6h-0.6zM370.4 178.9h0.6v0.6h-0.6zM358.1 176.4h0.6v0.6h-0.6zM352.1 172.6h0.6v0.6h-0.6zM360.9 182.4h0.6v0.6h-0.6zM372.2 183.2h0.6v0.6h-0.6zM361.7 175.4h0.6v0.6h-0.6zM353.2 179.4h0.6v0.6h-0.6zM357.7 181.9h0.6v0.6h-0.6zM367.2 182.4h0.6v0.6h-0.6zM353.1 183.9h0.6v0.6h-0.6zM359.7 184.9h0.6v0.6h-0.6zM358.4 180.6h0.6v0.6h-0.6zM371.2 179.9h0.6v0.6h-0.6zM358.6 182.1h0.6v0.6h-0.6zM366.3 177.9h0.6v0.6h-0.6zM357.1 185.1h0.6v0.6h-0.6zM356.2 183.3h0.6v0.6h-0.6zM365.6 182.8h0.6v0.6h-0.6zM362.8 178.7h0.6v0.6h-0.6zM351.7 185.4h0.6v0.6h-0.6zM362.5 176.5h0.6v0.6h-0.6zM363.4 181.2h0.6v0.6h-0.6zM355.3 172.5h0.6v0.6h-0.6zM360.4 177.0h0.6v0.6h-0.6zM361.7 182.7h0.6v0.6h-0.6zM357.1 179.5h0.6v0.6h-0.6zM357.0 181.6h0.6v0.6h-0.6zM355.5 175.8h0.6v0.6h-0.6zM359.4 185.8h0.6v0.6h-0.6zM353.5 183.6h0.6v0.6h-0.6zM359.6 180.5h0.6v0.6h-0.6zM352.5 183.2h0.6v0.6h-0.6zM360.4 181.5h0.6v0.6h-0.6zM360.3 185.2h0.6v0.6h-0.6zM354.7 182.1h0.6v0.6h-0.6zM363.4 174.9h0.6v0.6h-0.6zM369.6 177.9h0.6v0.6h-0.6zM367.4 183.5h0.6v0.6h-0.6zM353.3 183.6h0.6v0.6h-0.6zM366.1 178.0h0.6v0.6h-0.6zM361.3 182.3h0.6v0.6h-0.6zM359.7 180.9h0.6v0.6h-0.6zM357.2 183.0h0.6v0.6h-0.6zM358.9 175.3h0.6v0.6h-0.6zM366.4 176.3h0.6v0.6h-0.6zM363.0 182.2h0.6v0.6h-0.6zM357.6 180.1h0.6v0.6h-0.6zM356.7 182.2h0.6v0.6h-0.6zM358.9 187.3h0.6v0.6h-0.6zM362.7 179.0h0.6v0.6h-0.6zM369.5 179.6h0.6v0.6h-0.6zM354.2 179.6h0.6v0.6h-0.6zM359.5 178.5h0.6v0.6h-0.6zM357.9 180.6h0.6v0.6h-0.6zM355.2 176.4h0.6v0.6h-0.6zM360.7 173.3h0.6v0.6h-0.6zM363.5 184.5h0.6v0.6h-0.6zM352.6 181.4h0.6v0.6h-0.6zM355.3 185.1h0.6v0.6h-0.6zM366.0 179.8h0.6v0.6h-0.6zM361.6 180.7h0.6v0.6h-0.6zM362.9 182.2h0.6v0.6h-0.6zM357.7 183.3h0.6v0.6h-0.6zM357.2 176.9h0.6v0.6h-0.6zM362.9 184.0h0.6v0.6h-0.6zM356.8 177.8h0.6v0.6h-0.6zM354.3 182.2h0.6v0.6h-0.6zM361.3 188.9h0.6v0.6h-0.6zM364.5 180.0h0.6v0.6h-0.6zM355.6 186.9h0.6v0.6h-0.6zM365.0 178.4h0.6v0.6h-0.6zM363.8 181.9h0.6v0.6h-0.6zM355.5 181.4h0.6v0.6h-0.6zM360.1 181.9h0.6v0.6h-0.6zM359.2 177.7h0.6v0.6h-0.6zM362.6 176.9h0.6v0.6h-0.6zM363.4 181.0h0.6v0.6h-0.6zM352.4 176.6h0.6v0.6h-0.6zM352.5 178.9h0.6v0.6h-0.6zM365.5 181.7h0.6v0.6h-0.6zM360.1 178.4h0.6v0.6h-0.6zM361.5 177.2h0.6v0.6h-0.6zM360.9 176.6h0.6v0.6h-0.6zM367.7 179.6h0.6v0.6h-0.6zM353.5 180.4h0.6v0.6h-0.6zM365.5 180.0h0.6v0.6h-0.6zM355.6 180.6h0.6v0.6h-0.6zM364.6 185.9h0.6v0.6h-0.6zM366.4 177.9h0.6v0.6h-0.6zM351.7 175.3h0.6v0.6h-0.6zM362.0 180.5h0.6v0.6h-0.6zM358.5 180.8h0.6v0.6h-0.6zM358.5 181.3h0.6v0.6h-0.6zM359.2 175.2h0.6v0.6h-0.6zM355.2 185.1h0.6v0.6h-0.6zM355.0 181.3h0.6v0.6h-0.6zM363.2 179.8h0.6v0.6h-0.6zM363.2 174.6h0.6v0.6h-0.6zM357.3 182.6h0.6v0.6h-0.6zM352.5 181.6h0.6v0.6h-0.6zM372.4 182.8h0.6v0.6h-0.6zM365.2 178.2h0.6v0.6h-0.6zM361.0 176.1h0.6v0.6h-0.6zM354.7 181.8h0.6v0.6h-0.6zM356.4 178.0h0.6v0.6h-0.6zM361.3 181.6h0.6v0.6h-0.6zM354.4 177.8h0.6v0.6h-0.6zM367.9 178.7h0.6v0.6h-0.6zM360.4 179.6h0.6v0.6h-0.6zM361.8 180.0h0.6v0.6h-0.6zM354.4 179.7h0.6v0.6h-0.6zM354.8 178.7h0.6v0.6h-0.6zM355.8 181.0h0.6v0.6h-0.6zM360.9 178.4h0.6v0.6h-0.6zM358.6 181.2h0.6v0.6h-0.6zM358.3 179.9h0.6v0.6h-0.6zM360.2 172.9h0.6v0.6h-0.6zM361.0 180.1h0.6v0.6h-0.6zM368.2 183.7h0.6v0.6h-0.6zM359.0 181.7h0.6v0.6h-0.6zM355.1 183.4h0.6v0.6h-0.6zM360.1 182.0h0.6v0.6h-0.6zM367.0 177.7h0.6v0.6h-0.6zM356.3 176.7h0.6v0.6h-0.6zM360.6 183.1h0.6v0.6h-0.6zM358.7 184.2h0.6v0.6h-0.6zM362.2 182.0h0.6v0.6h-0.6zM361.4 181.7h0.6v0.6h-0.6zM356.0 182.5h0.6v0.6h-0.6zM358.7 180.6h0.6v0.6h-0.6zM364.8 180.6h0.6v0.6h-0.6zM365.4 179.6h0.6v0.6h-0.6zM364.7 180.7h0.6v0.6h-0.6zM363.7 176.7h0.6v0.6h-0.6zM357.8 178.8h0.6v0.6h-0.6zM358.4 182.7h0.6v0.6h-0.6zM364.4 178.6h0.6v0.6h-0.6zM352.6 173.7h0.6v0.6h-0.6zM359.7 181.0h0.6v0.6h-0.6zM349.2 174.8h0.6v0.6h-0.6zM359.1 187.0h0.6v0.6h-0.6zM356.7 183.5h0.6v0.6h-0.6zM354.2 183.7h0.6v0.6h-0.6zM362.4 177.8h0.6v0.6h-0.6zM355.5 177.5h0.6v0.6h-0.6zM357.9 180.2h0.6v0.6h-0.6zM358.6 180.8h0.6v0.6h-0.6zM355.7 178.7h0.6v0.6h-0.6zM367.1 179.8h0.6v0.6h-0.6zM357.8 183.2h0.6v0.6h-0.6zM361.2 182.3h0.6v0.6h-0.6zM352.7 178.3h0.6v0.6h-0.6zM356.3 174.0h0.6v0.6h-0.6zM358.3 180.8h0.6v0.6h-0.6zM358.0 178.7h0.6v0.6h-0.6zM357.2 182.5h0.6v0.6h-0.6zM361.5 185.7h0.6v0.6h-0.6zM368.7 184.4h0.6v0.6h-0.6zM359.4 181.6h0.6v0.6h-0.6zM359.8 184.2h0.6v0.6h-0.6zM358.8 186.2h0.6v0.6h-0.6zM372.7 178.4h0.6v0.6h-0.6zM368.2 180.0h0.6v0.6h-0.6zM363.2 182.8h0.6v0.6h-0.6zM363.4 179.8h0.6v0.6h-0.6zM356.0 179.6h0.6v0.6h-0.6zM358.7 178.3h0.6v0.6h-0.6zM360.9 180.4h0.6v0.6h-0.6zM360.1 178.4h0.6v0.6h-0.6zM356.0 183.9h0.6v0.6h-0.6zM355.8 180.2h0.6v0.6h-0.6zM363.3 184.8h0.6v0.6h-0.6zM362.1 184.2h0.6v0.6h-0.6zM348.6 178.4h0.6v0.6h-0.6zM361.0 183.9h0.6v0.6h-0.6zM366.1 178.1h0.6v0.6h-0.6zM357.4 185.5h0.6v0.6h-0.6zM361.4 182.0h0.6v0.6h-0.6zM352.6 181.7h0.6v0.6h-0.6zM364.5 182.0h0.6v0.6h-0.6zM354.0 179.8h0.6v0.6h-0.6zM353.8 182.7h0.6v0.6h-0.6zM358.5 182.1h0.6v0.6h-0.6zM371.7 178.0h0.6v0.6h-0.6zM357.0 182.4h0.6v0.6h-0.6zM353.0 178.5h0.6v0.6h-0.6zM362.5 181.9h0.6v0.6h-0.6zM360.4 176.5h0.6v0.6h-0.6zM368.6 181.1h0.6v0.6h-0.6zM353.8 183.2h0.6v0.6h-0.6zM352.3 184.3h0.6v0.6h-0.6zM358.0 179.1h0.6v0.6h-0.6zM363.5 189.9h0.6v0.6h-0.6zM361.6 179.6h0.6v0.6h-0.6zM365.4 180.1h0.6v0.6h-0.6zM352.0 179.5h0.6v0.6h-0.6zM356.6 185.9h0.6v0.6h-0.6zM359.0 179.2h0.6v0.6h-0.6zM364.7 183.0h0.6v0.6h-0.6zM361.8 177.2h0.6v0.6h-0.6zM358.0 182.0h0.6v0.6h-0.6zM354.6 180.3h0.6v0.6h-0.6zM364.9 182.8h0.6v0.6h-0.6zM364.5 178.9h0.6v0.6h-0.6zM373.0 175.5h0.6v0.6h-0.6zM359.3 182.2h0.6v0.6h-0.6zM367.4 175.4h0.6v0.6h-0.6zM353.3 178.7h0.6v0.6h-0.6zM357.6 183.6h0.6v0.6h-0.6zM355.5 175.3h0.6v0.6h-0.6zM358.0 183.5h0.6v0.6h-0.6zM355.3 180.1h0.6v0.6h-0.6zM356.7 178.2h0.6v0.6h-0.6zM359.8 181.5h0.6v0.6h-0.6zM358.0 183.1h0.6v0.6h-0.6zM362.9 178.2h0.6v0.6h-0.6zM359.4 180.2h0.6v0.6h-0.6zM360.4 183.2h0.6v0.6h-0.6zM367.7 181.8h0.6v0.6h-0.6zM361.5 180.2h0.6v0.6h-0.6zM360.3 178.1h0.6v0.6h-0.6zM359.3 177.7h0.6v0.6h-0.6zM359.9 178.7h0.6v0.6h-0.6zM363.2 182.3h0.6v0.6h-0.6zM356.2 183.2h0.6v0.6h-0.6zM365.8 180.6h0.6v0.6h-0.6zM368.6 183.7h0.6v0.6h-0.6zM365.5 178.7h0.6v0.6h-0.6zM357.2 179.9h0.6v0.6h-0.6zM351.7 180.9h0.6v0.6h-0.6zM358.8 187.1h0.6v0.6h-0.6zM359.6 174.1h0.6v0.6h-0.6zM364.2 180.9h0.6v0.6h-0.6zM359.3 182.3h0.6v0.6h-0.6zM358.4 181.2h0.6v0.6h-0.6zM368.9 186.8h0.6v0.6h-0.6zM357.2 185.0h0.6v0.6h-0.6zM365.7 182.2h0.6v0.6h-0.6zM364.0 177.1h0.6v0.6h-0.6zM353.5 183.5h0.6v0.6h-0.6zM361.1 179.3h0.6v0.6h-0.6zM357.2 181.4h0.6v0.6h-0.6zM355.3 182.2h0.6v0.6h-0.6zM350.4 180.8h0.6v0.6h-0.6zM352.4 184.1h0.6v0.6h-0.6zM362.9 185.5h0.6v0.6h-0.6zM358.6 184.4h0.6v0.6h-0.6zM361.4 181.2h0.6v0.6h-0.6zM353.5 175.6h0.6v0.6h-0.6zM358.9 184.5h0.6v0.6h-0.6zM359.2 184.4h0.6v0.6h-0.6zM352.1 181.5h0.6v0.6h-0.6zM351.3 180.7h0.6v0.6h-0.6zM362.5 182.4h0.6v0.6h-0.6zM360.2 178.1h0.6v0.6h-0.6zM355.7 184.1h0.6v0.6h-0.6zM358.8 177.5h0.6v0.6h-0.6zM362.8 177.3h0.6v0.6h-0.6zM369.1 179.2h0.6v0.6h-0.6zM354.7 177.0h0.6v0.6h-0.6zM363.0 180.2h0.6v0.6h-0.6zM370.9 180.6h0.6v0.6h-0.6zM359.5 176.6h0.6v0.6h-0.6zM367.8 182.4h0.6v0.6h-0.6zM346.7 181.3h0.6v0.6h-0.6zM367.5 181.2h0.6v0.6h-0.6zM360.0 181.5h0.6v0.6h-0.6zM350.3 181.0h0.6v0.6h-0.6zM363.6 178.5h0.6v0.6h-0.6zM364.3 174.5h0.6v0.6h-0.6zM365.6 177.5h0.6v0.6h-0.6zM365.5 177.3h0.6v0.6h-0.6zM360.7 186.0h0.6v0.6h-0.6zM356.8 184.7h0.6v0.6h-0.6zM356.9 176.9h0.6v0.6h-0.6zM360.2 183.3h0.6v0.6h-0.6zM362.1 181.1h0.6v0.6h-0.6zM357.3 180.0h0.6v0.6h-0.6zM360.4 182.2h0.6v0.6h-0.6zM364.8 182.5h0.6v0.6h-0.6zM361.3 178.7h0.6v0.6h-0.6zM371.3 177.9h0.6v0.6h-0.6zM370.9 179.4h0.6v0.6h-0.6zM353.6 178.7h0.6v0.6h-0.6zM357.2 181.9h0.6v0.6h-0.6zM353.3 181.7h0.6v0.6h-0.6zM353.7 179.7h0.6v0.6h-0.6zM362.2 177.7h0.6v0.6h-0.6zM355.1 182.6h0.6v0.6h-0.6zM355.2 184.5h0.6v0.6h-0.6zM358.8 182.1h0.6v0.6h-0.6zM363.5 177.4h0.6v0.6h-0.6zM358.6 183.5h0.6v0.6h-0.6zM358.2 181.7h0.6v0.6h-0.6zM364.9 181.9h0.6v0.6h-0.6zM363.0 184.0h0.6v0.6h-0.6zM361.7 177.6h0.6v0.6h-0.6zM364.6 179.5h0.6v0.6h-0.6zM354.5 179.8h0.6v0.6h-0.6zM360.5 177.9h0.6v0.6h-0.6zM357.9 187.7h0.6v0.6h-0.6zM365.6 182.8h0.6v0.6h-0.6zM363.1 174.6h0.6v0.6h-0.6zM354.9 183.1h0.6v0.6h-0.6zM366.4 177.9h0.6v0.6h-0.6zM354.7 185.5h0.6v0.6h-0.6zM365.9 180.0h0.6v0.6h-0.6zM360.9 180.1h0.6v0.6h-0.6zM355.6 182.0h0.6v0.6h-0.6zM354.5 183.0h0.6v0.6h-0.6zM358.4 181.2h0.6v0.6h-0.6zM359.7 180.2h0.6v0.6h-0.6zM356.3 181.0h0.6v0.6h-0.6zM363.1 181.9h0.6v0.6h-0.6zM352.3 178.5h0.6v0.6h-0.6zM359.9 180.8h0.6v0.6h-0.6zM359.9 180.4h0.6v0.6h-0.6zM350.3 181.0h0.6v0.6h-0.6zM361.9 182.9h0.6v0.6h-0.6zM352.9 177.9h0.6v0.6h-0.6zM347.2 181.9h0.6v0.6h-0.6zM356.4 178.7h0.6v0.6h-0.6zM359.1 182.7h0.6v0.6h-0.6zM364.2 178.6h0.6v0.6h-0.6zM357.5 181.4h0.6v0.6h-0.6zM367.6 180.7h0.6v0.6h-0.6zM366.3 174.5h0.6v0.6h-0.6zM365.7 181.3h0.6v0.6h-0.6zM366.2 177.3h0.6v0.6h-0.6zM361.6 179.7h0.6v0.6h-0.6zM357.1 181.0h0.6v0.6h-0.6zM363.7 182.8h0.6v0.6h-0.6zM365.2 182.3h0.6v0.6h-0.6zM362.1 186.1h0.6v0.6h-0.6zM358.8 181.6h0.6v0.6h-0.6zM351.8 180.7h0.6v0.6h-0.6zM363.1 178.7h0.6v0.6h-0.6zM362.1 182.6h0.6v0.6h-0.6zM354.3 187.0h0.6v0.6h-0.6zM360.6 181.8h0.6v0.6h-0.6zM363.3 178.4h0.6v0.6h-0.6zM359.5 181.8h0.6v0.6h-0.6zM364.0 180.9h0.6v0.6h-0.6zM363.8 180.3h0.6v0.6h-0.6zM352.1 179.8h0.6v0.6h-0.6zM357.0 173.2h0.6v0.6h-0.6zM362.1 178.7h0.6v0.6h-0.6zM365.2 183.3h0.6v0.6h-0.6zM367.2 180.2h0.6v0.6h-0.6zM349.0 175.6h0.6v0.6h-0.6zM359.6 180.9h0.6v0.6h-0.6zM362.5 174.4h0.6v0.6h-0.6zM367.2 186.0h0.6v0.6h-0.6zM368.6 179.9h0.6v0.6h-0.6zM354.6 177.9h0.6v0.6h-0.6zM358.5 183.7h0.6v0.6h-0.6zM354.2 179.3h0.6v0.6h-0.6zM364.4 181.9h0.6v0.6h-0.6zM353.3 182.1h0.6v0.6h-0.6zM365.3 176.1h0.6v0.6h-0.6zM365.0 182.1h0.6v0.6h-0.6zM361.7 176.2h0.6v0.6h-0.6zM349.7 187.0h0.6v0.6h-0.6zM356.6 181.6h0.6v0.6h-0.6zM363.2 176.9h0.6v0.6h-0.6zM351.8 176.4h0.6v0.6h-0.6zM359.6 186.1h0.6v0.6h-0.6zM360.2 185.5h0.6v0.6h-0.6zM363.8 176.1h0.6v0.6h-0.6zM362.3 185.7h0.6v0.6h-0.6zM361.4 181.1h0.6v0.6h-0.6zM357.6 180.5h0.6v0.6h-0.6zM359.9 180.6h0.6v0.6h-0.6zM359.1 180.1h0.6v0.6h-0.6zM364.4 184.7h0.6v0.6h-0.6zM359.1 181.5h0.6v0.6h-0.6zM364.2 174.1h0.6v0.6h-0.6zM352.5 188.9h0.6v0.6h-0.6zM366.5 182.5h0.6v0.6h-0.6zM358.5 177.6h0.6v0.6h-0.6zM365.5 178.7h0.6v0.6h-0.6zM359.9 177.9h0.6v0.6h-0.6zM364.3 180.2h0.6v0.6h-0.6zM367.7 180.7h0.6v0.6h-0.6zM357.3 182.1h0.6v0.6h-0.6zM360.0 178.9h0.6v0.6h-0.6zM358.6 178.5h0.6v0.6h-0.6zM361.5 183.3h0.6v0.6h-0.6zM351.7 182.0h0.6v0.6h-0.6zM360.3 188.0h0.6v0.6h-0.6zM358.2 178.5h0.6v0.6h-0.6zM356.4 184.0h0.6v0.6h-0.6zM359.0 181.2h0.6v0.6h-0.6zM351.7 179.8h0.6v0.6h-0.6zM367.8 183.8h0.6v0.6h-0.6zM362.3 180.8h0.6v0.6h-0.6zM369.0 176.4h0.6v0.6h-0.6zM355.3 180.6h0.6v0.6h-0.6zM354.6 185.1h0.6v0.6h-0.6zM360.7 176.7h0.6v0.6h-0.6zM352.3 186.6h0.6v0.6h-0.6zM361.5 182.8h0.6v0.6h-0.6zM356.2 180.6h0.6v0.6h-0.6zM359.0 185.4h0.6v0.6h-0.6zM362.2 186.1h0.6v0.6h-0.6zM360.5 182.7h0.6v0.6h-0.6zM369.4 179.7h0.6v0.6h-0.6zM364.1 186.0h0.6v0.6h-0.6zM354.2 186.7h0.6v0.6h-0.6zM364.4 177.1h0.6v0.6h-0.6zM353.0 181.4h0.6v0.6h-0.6zM360.2 180.1h0.6v0.6h-0.6zM353.4 180.7h0.6v0.6h-0.6zM354.9 176.9h0.6v0.6h-0.6zM367.1 182.5h0.6v0.6h-0.6zM357.1 181.6h0.6v0.6h-0.6zM356.7 181.7h0.6v0.6h-0.6zM357.9 185.7h0.6v0.6h-0.6zM358.0 179.3h0.6v0.6h-0.6zM367.2 179.4h0.6v0.6h-0.6zM354.1 182.7h0.6v0.6h-0.6zM353.4 180.6h0.6v0.6h-0.6zM362.8 180.0h0.6v0.6h-0.6zM352.3 184.7h0.6v0.6h-0.6zM358.1 181.1h0.6v0.6h-0.6zM366.4 184.0h0.6v0.6h-0.6zM359.5 178.5h0.6v0.6h-0.6zM357.6 181.9h0.6v0.6h-0.6zM355.5 177.0h0.6v0.6h-0.6zM355.2 181.3h0.6v0.6h-0.6zM356.5 179.2h0.6v0.6h-0.6zM361.3 185.0h0.6v0.6h-0.6zM366.6 182.1h0.6v0.6h-0.6zM365.1 181.6h0.6v0.6h-0.6zM358.0 187.1h0.6v0.6h-0.6zM357.0 186.0h0.6v0.6h-0.6zM363.8 182.5h0.6v0.6h-0.6zM350.3 180.3h0.6v0.6h-0.6zM356.8 176.7h0.6v0.6h-0.6zM358.2 181.0h0.6v0.6h-0.6zM354.0 180.7h0.6v0.6h-0.6zM354.5 179.7h0.6v0.6h-0.6zM361.5 179.6h0.6v0.6h-0.6zM350.6 177.1h0.6v0.6h-0.6zM356.1 186.4h0.6v0.6h-0.6zM355.9 177.8h0.6v0.6h-0.6zM359.9 178.7h0.6v0.6h-0.6zM353.2 183.9h0.6v0.6h-0.6zM364.4 174.7h0.6v0.6h-0.6zM358.8 184.0h0.6v0.6h-0.6zM359.0 184.0h0.6v0.6h-0.6zM357.8 180.2h0.6v0.6h-0.6zM355.8 178.0h0.6v0.6h-0.6zM354.6 180.2h0.6v0.6h-0.6zM364.6 174.0h0.6v0.6h-0.6zM361.6 185.1h0.6v0.6h-0.6zM359.3 181.1h0.6v0.6h-0.6zM364.4 177.6h0.6v0.6h-0.6zM355.7 178.6h0.6v0.6h-0.6zM385.5 182.7h0.6v0.6h-0.6zM395.2 184.9h0.6v0.6h-0.6zM366.4 182.5h0.6v0.6h-0.6zM373.6 185.3h0.6v0.6h-0.6zM361.3 184.8h0.6v0.6h-0.6zM386.6 184.8h0.6v0.6h-0.6zM381.3 177.5h0.6v0.6h-0.6zM403.0 184.9h0.6v0.6h-0.6zM378.3 182.0h0.6v0.6h-0.6zM375.1 178.2h0.6v0.6h-0.6zM372.2 184.0h0.6v0.6h-0.6zM388.5 177.6h0.6v0.6h-0.6zM362.6 184.4h0.6v0.6h-0.6zM387.3 187.4h0.6v0.6h-0.6zM382.2 180.3h0.6v0.6h-0.6zM374.3 184.7h0.6v0.6h-0.6zM370.2 183.1h0.6v0.6h-0.6zM390.5 184.1h0.6v0.6h-0.6zM399.1 177.9h0.6v0.6h-0.6zM374.9 183.7h0.6v0.6h-0.6zM385.1 182.4h0.6v0.6h-0.6zM397.7 184.5h0.6v0.6h-0.6zM373.1 181.8h0.6v0.6h-0.6zM376.9 185.3h0.6v0.6h-0.6zM366.9 182.5h0.6v0.6h-0.6zM378.0 184.0h0.6v0.6h-0.6zM378.7 186.2h0.6v0.6h-0.6zM375.2 182.4h0.6v0.6h-0.6zM371.8 184.9h0.6v0.6h-0.6zM363.1 182.3h0.6v0.6h-0.6zM365.5 183.3h0.6v0.6h-0.6zM369.4 180.0h0.6v0.6h-0.6zM386.2 184.5h0.6v0.6h-0.6zM374.2 185.7h0.6v0.6h-0.6zM370.7 181.5h0.6v0.6h-0.6zM386.4 184.5h0.6v0.6h-0.6zM385.5 183.4h0.6v0.6h-0.6zM371.8 178.3h0.6v0.6h-0.6zM373.0 182.9h0.6v0.6h-0.6zM386.4 186.2h0.6v0.6h-0.6zM383.4 180.4h0.6v0.6h-0.6zM371.0 176.1h0.6v0.6h-0.6zM382.1 182.6h0.6v0.6h-0.6zM379.3 179.9h0.6v0.6h-0.6zM391.1 188.1h0.6v0.6h-0.6zM370.5 181.6h0.6v0.6h-0.6zM388.8 182.1h0.6v0.6h-0.6zM384.2 180.0h0.6v0.6h-0.6zM369.0 182.5h0.6v0.6h-0.6zM390.7 180.3h0.6v0.6h-0.6zM389.2 179.2h0.6v0.6h-0.6zM365.8 181.5h0.6v0.6h-0.6zM400.4 179.7h0.6v0.6h-0.6zM367.5 185.9h0.6v0.6h-0.6zM370.0 178.1h0.6v0.6h-0.6zM376.2 181.6h0.6v0.6h-0.6zM387.7 179.9h0.6v0.6h-0.6zM385.8 177.7h0.6v0.6h-0.6zM378.5 187.1h0.6v0.6h-0.6zM394.1 175.6h0.6v0.6h-0.6zM383.8 186.6h0.6v0.6h-0.6zM394.3 177.7h0.6v0.6h-0.6zM409.2 182.7h0.6v0.6h-0.6zM381.5 189.1h0.6v0.6h-0.6zM352.6 174.8h0.6v0.6h-0.6zM374.9 177.5h0.6v0.6h-0.6zM368.2 185.8h0.6v0.6h-0.6zM380.6 182.5h0.6v0.6h-0.6zM380.7 180.2h0.6v0.6h-0.6zM366.7 181.6h0.6v0.6h-0.6zM367.5 178.7h0.6v0.6h-0.6zM376.8 182.2h0.6v0.6h-0.6zM377.4 186.6h0.6v0.6h-0.6zM352.1 180.2h0.6v0.6h-0.6zM389.9 182.5h0.6v0.6h-0.6zM379.9 185.7h0.6v0.6h-0.6zM379.4 188.1h0.6v0.6h-0.6zM382.8 180.1h0.6v0.6h-0.6zM368.7 182.7h0.6v0.6h-0.6zM379.1 180.1h0.6v0.6h-0.6zM390.6 180.1h0.6v0.6h-0.6zM391.0 180.9h0.6v0.6h-0.6zM384.5 180.0h0.6v0.6h-0.6zM376.7 176.4h0.6v0.6h-0.6zM371.0 175.5h0.6v0.6h-0.6zM393.7 179.9h0.6v0.6h-0.6zM385.2 182.4h0.6v0.6h-0.6zM375.0 185.6h0.6v0.6h-0.6zM356.5 179.8h0.6v0.6h-0.6zM370.3 181.2h0.6v0.6h-0.6zM359.0 183.6h0.6v0.6h-0.6zM392.9 184.5h0.6v0.6h-0.6zM381.6 181.6h0.6v0.6h-0.6zM371.6 181.6h0.6v0.6h-0.6zM376.5 187.7h0.6v0.6h-0.6zM407.4 181.3h0.6v0.6h-0.6zM392.6 180.6h0.6v0.6h-0.6zM365.3 176.6h0.6v0.6h-0.6zM378.2 183.2h0.6v0.6h-0.6zM366.4 180.9h0.6v0.6h-0.6zM361.0 187.6h0.6v0.6h-0.6zM381.5 180.9h0.6v0.6h-0.6zM405.5 184.9h0.6v0.6h-0.6zM396.3 185.1h0.6v0.6h-0.6zM380.0 187.1h0.6v0.6h-0.6zM375.6 177.7h0.6v0.6h-0.6zM381.7 186.9h0.6v0.6h-0.6zM390.7 182.1h0.6v0.6h-0.6zM363.9 181.3h0.6v0.6h-0.6zM359.5 180.6h0.6v0.6h-0.6zM399.9 181.0h0.6v0.6h-0.6zM382.6 180.9h0.6v0.6h-0.6zM397.1 174.9h0.6v0.6h-0.6zM382.1 183.6h0.6v0.6h-0.6zM395.6 182.4h0.6v0.6h-0.6zM373.0 178.8h0.6v0.6h-0.6zM385.0 181.8h0.6v0.6h-0.6zM396.3 189.4h0.6v0.6h-0.6zM390.6 183.3h0.6v0.6h-0.6zM374.6 180.6h0.6v0.6h-0.6zM389.2 187.4h0.6v0.6h-0.6zM372.4 179.3h0.6v0.6h-0.6zM364.1 181.2h0.6v0.6h-0.6zM385.3 180.3h0.6v0.6h-0.6zM394.8 181.4h0.6v0.6h-0.6zM388.8 184.4h0.6v0.6h-0.6zM365.9 183.5h0.6v0.6h-0.6zM389.1 179.8h0.6v0.6h-0.6zM387.0 181.6h0.6v0.6h-0.6zM374.6 182.1h0.6v0.6h-0.6zM352.6 180.2h0.6v0.6h-0.6zM390.6 182.0h0.6v0.6h-0.6zM389.3 179.8h0.6v0.6h-0.6zM385.1 179.7h0.6v0.6h-0.6zM360.7 181.7h0.6v0.6h-0.6zM363.4 178.4h0.6v0.6h-0.6zM390.6 183.4h0.6v0.6h-0.6zM388.4 181.5h0.6v0.6h-0.6zM385.0 179.1h0.6v0.6h-0.6zM376.9 179.9h0.6v0.6h-0.6zM383.9 180.5h0.6v0.6h-0.6zM373.7 181.3h0.6v0.6h-0.6zM376.2 182.2h0.6v0.6h-0.6zM370.1 181.1h0.6v0.6h-0.6zM382.5 179.2h0.6v0.6h-0.6zM375.0 186.3h0.6v0.6h-0.6zM390.0 184.9h0.6v0.6h-0.6zM387.5 182.4h0.6v0.6h-0.6zM370.7 184.7h0.6v0.6h-0.6zM399.7 183.3h0.6v0.6h-0.6zM367.3 180.9h0.6v0.6h-0.6zM384.5 182.2h0.6v0.6h-0.6zM391.3 190.4h0.6v0.6h-0.6zM393.6 185.2h0.6v0.6h-0.6zM355.4 184.7h0.6v0.6h-0.6zM390.6 180.9h0.6v0.6h-0.6zM392.9 184.0h0.6v0.6h-0.6zM395.2 189.2h0.6v0.6h-0.6zM355.2 182.8h0.6v0.6h-0.6zM372.1 185.1h0.6v0.6h-0.6zM378.4 185.8h0.6v0.6h-0.6zM374.7 183.8h0.6v0.6h-0.6zM394.2 187.0h0.6v0.6h-0.6zM372.1 182.5h0.6v0.6h-0.6zM393.1 183.7h0.6v0.6h-0.6zM385.8 180.1h0.6v0.6h-0.6zM363.5 189.8h0.6v0.6h-0.6zM368.7 182.6h0.6v0.6h-0.6zM374.4 182.1h0.6v0.6h-0.6zM380.6 186.2h0.6v0.6h-0.6zM390.5 180.6h0.6v0.6h-0.6zM377.6 181.8h0.6v0.6h-0.6zM389.6 179.6h0.6v0.6h-0.6zM362.3 181.7h0.6v0.6h-0.6zM346.1 180.1h0.6v0.6h-0.6zM375.9 183.5h0.6v0.6h-0.6zM384.6 181.6h0.6v0.6h-0.6zM375.7 180.0h0.6v0.6h-0.6zM368.5 180.8h0.6v0.6h-0.6zM384.2 181.6h0.6v0.6h-0.6zM400.9 180.7h0.6v0.6h-0.6zM378.4 184.8h0.6v0.6h-0.6zM371.6 183.8h0.6v0.6h-0.6zM370.3 182.2h0.6v0.6h-0.6zM401.3 178.6h0.6v0.6h-0.6zM379.1 183.5h0.6v0.6h-0.6zM386.4 178.0h0.6v0.6h-0.6zM393.0 182.7h0.6v0.6h-0.6zM391.4 182.2h0.6v0.6h-0.6zM369.5 179.9h0.6v0.6h-0.6zM390.2 179.5h0.6v0.6h-0.6zM388.9 179.9h0.6v0.6h-0.6zM384.9 188.3h0.6v0.6h-0.6zM390.7 181.3h0.6v0.6h-0.6zM373.4 181.1h0.6v0.6h-0.6zM378.7 184.8h0.6v0.6h-0.6zM373.8 183.1h0.6v0.6h-0.6zM387.9 185.3h0.6v0.6h-0.6zM372.5 178.0h0.6v0.6h-0.6zM384.0 178.6h0.6v0.6h-0.6zM367.4 192.0h0.6v0.6h-0.6zM378.3 181.7h0.6v0.6h-0.6zM375.6 180.9h0.6v0.6h-0.6zM378.3 182.4h0.6v0.6h-0.6zM381.0 185.0h0.6v0.6h-0.6zM377.6 178.2h0.6v0.6h-0.6zM377.2 182.7h0.6v0.6h-0.6zM356.8 181.4h0.6v0.6h-0.6zM391.7 184.2h0.6v0.6h-0.6zM372.7 182.3h0.6v0.6h-0.6zM376.9 180.2h0.6v0.6h-0.6zM370.5 179.1h0.6v0.6h-0.6zM390.7 174.6h0.6v0.6h-0.6zM369.6 184.7h0.6v0.6h-0.6zM385.2 177.4h0.6v0.6h-0.6zM392.6 180.9h0.6v0.6h-0.6zM397.6 187.3h0.6v0.6h-0.6zM392.7 180.8h0.6v0.6h-0.6zM386.4 183.9h0.6v0.6h-0.6zM366.4 181.0h0.6v0.6h-0.6zM393.8 184.3h0.6v0.6h-0.6zM392.7 182.2h0.6v0.6h-0.6zM388.9 180.5h0.6v0.6h-0.6zM388.4 186.2h0.6v0.6h-0.6zM380.5 181.1h0.6v0.6h-0.6zM374.0 177.7h0.6v0.6h-0.6zM391.5 181.1h0.6v0.6h-0.6zM393.6 183.8h0.6v0.6h-0.6zM368.3 178.3h0.6v0.6h-0.6zM389.7 184.5h0.6v0.6h-0.6zM357.3 178.8h0.6v0.6h-0.6zM375.3 192.9h0.6v0.6h-0.6zM357.4 195.1h0.6v0.6h-0.6zM395.5 190.6h0.6v0.6h-0.6zM351.3 194.6h0.6v0.6h-0.6zM394.1 176.6h0.6v0.6h-0.6zM386.7 175.0h0.6v0.6h-0.6zM354.3 176.2h0.6v0.6h-0.6zM368.6 170.2h0.6v0.6h-0.6zM368.8 194.8h0.6v0.6h-0.6zM373.6 175.3h0.6v0.6h-0.6zM387.9 186.7h0.6v0.6h-0.6zM345.0 177.4h0.6v0.6h-0.6zM354.8 184.3h0.6v0.6h-0.6zM389.4 181.5h0.6v0.6h-0.6zM350.0 189.2h0.6v0.6h-0.6zM398.9 175.1h0.6v0.6h-0.6zM368.1 177.5h0.6v0.6h-0.6zM346.4 173.4h0.6v0.6h-0.6zM393.9 178.5h0.6v0.6h-0.6zM359.9 192.2h0.6v0.6h-0.6zM408.9 195.7h0.6v0.6h-0.6zM404.0 170.1h0.6v0.6h-0.6zM401.5 192.5h0.6v0.6h-0.6zM401.4 189.5h0.6v0.6h-0.6zM348.8 171.8h0.6v0.6h-0.6zM345.7 174.0h0.6v0.6h-0.6zM370.1 193.1h0.6v0.6h-0.6zM371.3 174.9h0.6v0.6h-0.6zM370.6 194.2h0.6v0.6h-0.6zM382.8 184.3h0.6v0.6h-0.6zM395.0 196.3h0.6v0.6h-0.6zM395.2 183.3h0.6v0.6h-0.6zM404.5 173.2h0.6v0.6h-0.6zM388.0 186.1h0.6v0.6h-0.6zM401.0 181.7h0.6v0.6h-0.6zM349.9 171.6h0.6v0.6h-0.6zM345.7 191.8h0.6v0.6h-0.6zM373.3 194.0h0.6v0.6h-0.6zM401.4 195.7h0.6v0.6h-0.6zM369.1 187.1h0.6v0.6h-0.6zM351.2 185.4h0.6v0.6h-0.6zM352.2 175.0h0.6v0.6h-0.6zM358.9 195.7h0.6v0.6h-0.6zM400.1 189.5h0.6v0.6h-0.6zM361.4 136.8h0.6v0.6h-0.6zM361.9 144.9h0.6v0.6h-0.6zM364.8 152.4h0.6v0.6h-0.6zM354.9 137.1h0.6v0.6h-0.6zM350.2 146.2h0.6v0.6h-0.6zM367.8 165.3h0.6v0.6h-0.6z" fill="#333" opacity="0.6"/>
<polygon points="346.7,135.1 367.8,135.1 367.8,167.2 346.7,179.3" fill="none" stroke="#222" stroke-width="1.0" stroke-linejoin="miter"/>
<polygon points="374.5,169.2 406.2,169.2 406.2,192.8 355.0,192.8" fill="none" stroke="#222" stroke-width="1.0" stroke-linejoin="miter"/>
<path d="M342.0,129.7 H411.0 V198.7" fill="none" stroke="#aaa" stroke-width="0.9"/>
<path d="M342.0,129.7 V198.7 H411.0" fill="none" stroke="#888" stroke-width="1.0"/>
<line x1="340.8" y1="129.7" x2="342.0" y2="129.7" stroke="#777" stroke-width="0.6"/>
<line x1="340.8" y1="146.9" x2="342.0" y2="146.9" stroke="#777" stroke-width="0.6"/>
<line x1="340.8" y1="164.2" x2="342.0" y2="164.2" stroke="#777" stroke-width="0.6"/>
<line x1="340.8" y1="181.4" x2="342.0" y2="181.4" stroke="#777" stroke-width="0.6"/>
<line x1="340.8" y1="198.7" x2="342.0" y2="198.7" stroke="#777" stroke-width="0.6"/>
<line x1="342.0" y1="198.7" x2="342.0" y2="199.89999999999998" stroke="#777" stroke-width="0.6"/>
<text x="342.0" y="204.0" font-size="2.8" font-weight="bold" text-anchor="middle" fill="#444" textLength="1.5" lengthAdjust="spacingAndGlyphs">1</text>
<line x1="359.2" y1="198.7" x2="359.2" y2="199.89999999999998" stroke="#777" stroke-width="0.6"/>
<text x="359.2" y="204.0" font-size="2.8" font-weight="bold" text-anchor="middle" fill="#444" textLength="3.0" lengthAdjust="spacingAndGlyphs">10</text>
<line x1="376.5" y1="198.7" x2="376.5" y2="199.89999999999998" stroke="#777" stroke-width="0.6"/>
<text x="376.5" y="204.0" font-size="2.8" font-weight="bold" text-anchor="middle" fill="#444" textLength="4.5" lengthAdjust="spacingAndGlyphs">100</text>
<line x1="393.8" y1="198.7" x2="393.8" y2="199.89999999999998" stroke="#777" stroke-width="0.6"/>
<text x="393.8" y="204.0" font-size="2.8" font-weight="bold" text-anchor="middle" fill="#444" textLength="6.0" lengthAdjust="spacingAndGlyphs">1000</text>
<line x1="411.0" y1="198.7" x2="411.0" y2="199.89999999999998" stroke="#777" stroke-width="0.6"/>
<text x="411.0" y="204.0" font-size="2.8" font-weight="bold" text-anchor="middle" fill="#444" textLength="7.5" lengthAdjust="spacingAndGlyphs">10000</text>
<text transform="translate(371.69,141.65) scale(0.0523,0.0479)" font-size="100" font-weight="bold" fill="#000" stroke="#000" stroke-width="4.39">0.1</text>
<text transform="translate(397.75,165.04) scale(0.0508,0.0563)" font-size="100" font-weight="bold" fill="#000" stroke="#000" stroke-width="4.11">25.4</text>
<text x="301.9" y="125.5" font-size="9.2" font-weight="bold" fill="#000" textLength="13.9" lengthAdjust="spacingAndGlyphs">WT</text>
<text x="366.2" y="126.6" font-size="9.0" font-weight="bold" fill="#000" textLength="19.2" lengthAdjust="spacingAndGlyphs">IL-17</text>
<text x="388.1" y="120.8" font-size="4.6" font-weight="bold" fill="#000" textLength="5.7" lengthAdjust="spacingAndGlyphs">-/-</text>
<line x1="256.2" y1="137.3" x2="256.2" y2="155.8" stroke="#222" stroke-width="0.9"/>
<path d="M254.2,137.8 L256.2,131.8 L258.2,137.8 Z" fill="#111"/>
<line x1="256.2" y1="178.0" x2="256.2" y2="200.2" stroke="#222" stroke-width="0.9"/>
<text transform="translate(258.90,176.42) rotate(-90) scale(0.0739,0.0667)" font-size="100" font-weight="bold" fill="#000" stroke="#000" stroke-width="3.13">IL-17</text>
<line x1="263.8" y1="211.9" x2="324.4" y2="211.9" stroke="#222" stroke-width="0.9"/>
<line x1="353.8" y1="211.9" x2="407.5" y2="211.9" stroke="#222" stroke-width="0.9"/>
<path d="M407.0,210.1 L413.5,211.9 L407.0,213.70000000000002 Z" fill="#111"/>
<text transform="translate(327.80,213.32) scale(0.0715,0.0611)" font-size="100" font-weight="bold" fill="#000" stroke="#000" stroke-width="3.32">IFN-&#947;</text>
<text transform="translate(0.51,118.80) scale(0.0984,0.1072)" font-size="100" font-weight="bold" fill="#000" stroke="#000" stroke-width="2.14">B</text>
<line x1="31.2" y1="121.8" x2="31.2" y2="191.4" stroke="#000" stroke-width="0.9"/>
<line x1="30.75" y1="191.4" x2="104.9" y2="191.4" stroke="#000" stroke-width="0.9"/>
<line x1="29.4" y1="122.2" x2="31.2" y2="122.2" stroke="#000" stroke-width="0.7"/>
<line x1="30.2" y1="130.85" x2="31.2" y2="130.85" stroke="#000" stroke-width="0.6"/>
<text transform="translate(25.96,123.66) scale(0.0480,0.0423)" font-size="100" font-weight="bold" fill="#333" stroke="#333" stroke-width="4.88">8</text>
<line x1="29.4" y1="139.5" x2="31.2" y2="139.5" stroke="#000" stroke-width="0.7"/>
<line x1="30.2" y1="148.15" x2="31.2" y2="148.15" stroke="#000" stroke-width="0.6"/>
<text transform="translate(25.90,140.96) scale(0.0500,0.0423)" font-size="100" font-weight="bold" fill="#333" stroke="#333" stroke-width="4.77">6</text>
<line x1="29.4" y1="156.8" x2="31.2" y2="156.8" stroke="#000" stroke-width="0.7"/>
<line x1="30.2" y1="165.45000000000002" x2="31.2" y2="165.45000000000002" stroke="#000" stroke-width="0.6"/>
<text transform="translate(26.06,158.30) scale(0.0444,0.0435)" font-size="100" font-weight="bold" fill="#333" stroke="#333" stroke-width="5.00">4</text>
<line x1="29.4" y1="174.10000000000002" x2="31.2" y2="174.10000000000002" stroke="#000" stroke-width="0.7"/>
<line x1="30.2" y1="182.75" x2="31.2" y2="182.75" stroke="#000" stroke-width="0.6"/>
<text transform="translate(25.95,175.60) scale(0.0490,0.0429)" font-size="100" font-weight="bold" fill="#333" stroke="#333" stroke-width="4.79">2</text>
<line x1="29.4" y1="191.4" x2="31.2" y2="191.4" stroke="#000" stroke-width="0.7"/>
<text transform="translate(25.90,192.86) scale(0.0500,0.0423)" font-size="100" font-weight="bold" fill="#333" stroke="#333" stroke-width="4.77">0</text>
<line x1="43.5" y1="137.8" x2="43.5" y2="142.5" stroke="#000" stroke-width="0.9"/>
<line x1="39.35" y1="137.8" x2="47.65" y2="137.8" stroke="#000" stroke-width="0.9"/>
<rect x="35.650000000000006" y="142.95" width="15.699999999999994" height="48.45" fill="#fff" stroke="#000" stroke-width="0.9"/>
<line x1="68.19999999999999" y1="132.7" x2="68.19999999999999" y2="136.0" stroke="#000" stroke-width="0.9"/>
<line x1="63.999999999999986" y1="132.7" x2="72.39999999999999" y2="132.7" stroke="#000" stroke-width="0.9"/>
<rect x="60.25" y="136.45" width="15.899999999999997" height="54.95" fill="#000" stroke="#000" stroke-width="0.9"/>
<line x1="92.5" y1="130.3" x2="92.5" y2="131.5" stroke="#000" stroke-width="0.9"/>
<line x1="88.4" y1="130.3" x2="96.6" y2="130.3" stroke="#000" stroke-width="0.9"/>
<clipPath id="hc1"><rect x="84.75" y="131.95" width="15.500000000000005" height="59.45"/></clipPath>
<rect x="84.75" y="131.95" width="15.500000000000005" height="59.45" fill="#fff"/>
<path d="M22.50,131.95l61.5,61.5M25.30,131.95l61.5,61.5M28.10,131.95l61.5,61.5M30.90,131.95l61.5,61.5M33.70,131.95l61.5,61.5M36.50,131.95l61.5,61.5M39.30,131.95l61.5,61.5M42.10,131.95l61.5,61.5M44.90,131.95l61.5,61.5M47.70,131.95l61.5,61.5M50.50,131.95l61.5,61.5M53.30,131.95l61.5,61.5M56.10,131.95l61.5,61.5M58.90,131.95l61.5,61.5M61.70,131.95l61.5,61.5M64.50,131.95l61.5,61.5M67.30,131.95l61.5,61.5M70.10,131.95l61.5,61.5M72.90,131.95l61.5,61.5M75.70,131.95l61.5,61.5M78.50,131.95l61.5,61.5M81.30,131.95l61.5,61.5M84.10,131.95l61.5,61.5M86.90,131.95l61.5,61.5M89.70,131.95l61.5,61.5M92.50,131.95l61.5,61.5M95.30,131.95l61.5,61.5M98.10,131.95l61.5,61.5M100.90,131.95l61.5,61.5" stroke="#111" stroke-width="0.85" clip-path="url(#hc1)"/>
<rect x="84.75" y="131.95" width="15.500000000000005" height="59.45" fill="none" stroke="#000" stroke-width="0.9"/>
<text transform="translate(21.38,186.62) rotate(-90) scale(0.0619,0.0579)" font-size="100" font-weight="bold" fill="#000" stroke="#000" stroke-width="3.67"><tspan font-size="100" dy="-0.0">%IFN-&#947;</tspan><tspan font-size="62" dy="-38.0">+</tspan><tspan font-size="100" dy="38.0"> CD4</tspan><tspan font-size="62" dy="-38.0">+</tspan><tspan font-size="100" dy="38.0"> T cells</tspan></text>
<text transform="translate(36.90,199.80) scale(0.0701,0.0826)" font-size="100" font-weight="bold" fill="#000" stroke="#000" stroke-width="2.88">WT</text>
<text transform="translate(56.88,199.60) scale(0.0736,0.0768)" font-size="100" font-weight="bold" fill="#000" stroke="#000" stroke-width="2.92">IL-17</text>
<text transform="translate(74.00,196.22) scale(0.0500,0.0392)" font-size="100" font-weight="bold" fill="#000" stroke="#000" stroke-width="4.93">-/-</text>
<text transform="translate(82.39,200.10) scale(0.0734,0.0768)" font-size="100" font-weight="bold" fill="#000" stroke="#000" stroke-width="2.93">IL-17</text>
<text transform="translate(99.54,195.74) scale(0.0395,0.0324)" font-size="100" font-weight="bold" fill="#000" stroke="#000" stroke-width="6.11">-/-</text>
<text transform="translate(81.61,207.30) scale(0.0714,0.0768)" font-size="100" font-weight="bold" fill="#000" stroke="#000" stroke-width="2.97">+IL-17</text>
<text transform="translate(123.99,118.79) scale(0.1015,0.1127)" font-size="100" font-weight="bold" fill="#000" stroke="#000" stroke-width="2.05">C</text>
<line x1="157.1" y1="125.19999999999999" x2="157.1" y2="192.3" stroke="#000" stroke-width="0.9"/>
<line x1="156.65" y1="192.3" x2="223.1" y2="192.3" stroke="#000" stroke-width="0.9"/>
<line x1="155.29999999999998" y1="125.6" x2="157.1" y2="125.6" stroke="#000" stroke-width="0.7"/>
<line x1="156.1" y1="133.9375" x2="157.1" y2="133.9375" stroke="#000" stroke-width="0.6"/>
<text transform="translate(141.44,127.30) scale(0.0569,0.0493)" font-size="100" font-weight="bold" fill="#333" stroke="#333" stroke-width="4.14">4000</text>
<line x1="155.29999999999998" y1="142.275" x2="157.1" y2="142.275" stroke="#000" stroke-width="0.7"/>
<line x1="156.1" y1="150.6125" x2="157.1" y2="150.6125" stroke="#000" stroke-width="0.6"/>
<text transform="translate(141.39,143.98) scale(0.0571,0.0493)" font-size="100" font-weight="bold" fill="#333" stroke="#333" stroke-width="4.13">3000</text>
<line x1="155.29999999999998" y1="158.95" x2="157.1" y2="158.95" stroke="#000" stroke-width="0.7"/>
<line x1="156.1" y1="167.2875" x2="157.1" y2="167.2875" stroke="#000" stroke-width="0.6"/>
<text transform="translate(141.33,160.65) scale(0.0574,0.0493)" font-size="100" font-weight="bold" fill="#333" stroke="#333" stroke-width="4.12">2000</text>
<line x1="155.29999999999998" y1="175.625" x2="157.1" y2="175.625" stroke="#000" stroke-width="0.7"/>
<line x1="156.1" y1="183.9625" x2="157.1" y2="183.9625" stroke="#000" stroke-width="0.6"/>
<text transform="translate(141.15,177.33) scale(0.0582,0.0493)" font-size="100" font-weight="bold" fill="#333" stroke="#333" stroke-width="4.09">1000</text>
<line x1="155.29999999999998" y1="192.3" x2="157.1" y2="192.3" stroke="#000" stroke-width="0.7"/>
<text transform="translate(150.54,194.00) scale(0.0646,0.0493)" font-size="100" font-weight="bold" fill="#333" stroke="#333" stroke-width="3.86">0</text>
<line x1="168.15" y1="128.7" x2="168.15" y2="130.5" stroke="#000" stroke-width="0.9"/>
<line x1="164.275" y1="128.7" x2="172.025" y2="128.7" stroke="#000" stroke-width="0.9"/>
<rect x="160.85" y="130.95" width="14.6" height="61.35000000000001" fill="#fff" stroke="#000" stroke-width="0.9"/>
<line x1="189.60000000000002" y1="131.8" x2="189.60000000000002" y2="136.4" stroke="#000" stroke-width="0.9"/>
<line x1="185.95000000000002" y1="131.8" x2="193.25000000000003" y2="131.8" stroke="#000" stroke-width="0.9"/>
<rect x="182.75" y="136.85" width="13.699999999999994" height="55.45" fill="#000" stroke="#000" stroke-width="0.9"/>
<line x1="211.5" y1="126.1" x2="211.5" y2="127.4" stroke="#000" stroke-width="0.9"/>
<line x1="207.8" y1="126.1" x2="215.2" y2="126.1" stroke="#000" stroke-width="0.9"/>
<clipPath id="hc2"><rect x="204.54999999999998" y="127.85000000000001" width="13.900000000000011" height="64.45"/></clipPath>
<rect x="204.54999999999998" y="127.85000000000001" width="13.900000000000011" height="64.45" fill="#fff"/>
<path d="M137.30,127.85l66.5,66.5M140.10,127.85l66.5,66.5M142.90,127.85l66.5,66.5M145.70,127.85l66.5,66.5M148.50,127.85l66.5,66.5M151.30,127.85l66.5,66.5M154.10,127.85l66.5,66.5M156.90,127.85l66.5,66.5M159.70,127.85l66.5,66.5M162.50,127.85l66.5,66.5M165.30,127.85l66.5,66.5M168.10,127.85l66.5,66.5M170.90,127.85l66.5,66.5M173.70,127.85l66.5,66.5M176.50,127.85l66.5,66.5M179.30,127.85l66.5,66.5M182.10,127.85l66.5,66.5M184.90,127.85l66.5,66.5M187.70,127.85l66.5,66.5M190.50,127.85l66.5,66.5M193.30,127.85l66.5,66.5M196.10,127.85l66.5,66.5M198.90,127.85l66.5,66.5M201.70,127.85l66.5,66.5M204.50,127.85l66.5,66.5M207.30,127.85l66.5,66.5M210.10,127.85l66.5,66.5M212.90,127.85l66.5,66.5M215.70,127.85l66.5,66.5M218.50,127.85l66.5,66.5" stroke="#111" stroke-width="0.85" clip-path="url(#hc2)"/>
<rect x="204.54999999999998" y="127.85000000000001" width="13.900000000000011" height="64.45" fill="none" stroke="#000" stroke-width="0.9"/>
<text transform="translate(138.48,187.29) rotate(-90) scale(0.0637,0.0581)" font-size="100" font-weight="bold" fill="#000" stroke="#000" stroke-width="3.61"><tspan font-size="100" dy="-0.0">Sup. IFN-&#947; (pg/mL)</tspan></text>
<text transform="translate(161.70,200.80) scale(0.0656,0.0681)" font-size="100" font-weight="bold" fill="#000" stroke="#000" stroke-width="3.29">WT</text>
<text transform="translate(175.97,200.80) scale(0.0761,0.0681)" font-size="100" font-weight="bold" fill="#000" stroke="#000" stroke-width="3.05">IL-17</text>
<text transform="translate(193.81,196.63) scale(0.0465,0.0365)" font-size="100" font-weight="bold" fill="#000" stroke="#000" stroke-width="5.30">-/-</text>
<text transform="translate(200.27,201.00) scale(0.0757,0.0710)" font-size="100" font-weight="bold" fill="#000" stroke="#000" stroke-width="3.00">IL-17</text>
<text transform="translate(218.11,196.63) scale(0.0465,0.0365)" font-size="100" font-weight="bold" fill="#000" stroke="#000" stroke-width="5.30">-/-</text>
<text transform="translate(199.82,207.50) scale(0.0689,0.0681)" font-size="100" font-weight="bold" fill="#000" stroke="#000" stroke-width="3.21">+IL-17</text>
<text transform="translate(250.25,8.00) scale(0.1071,0.1159)" font-size="100" font-weight="bold" fill="#000" stroke="#000" stroke-width="1.97">E</text>
<line x1="286.1" y1="8.1" x2="286.1" y2="79.1" stroke="#000" stroke-width="0.9"/>
<line x1="285.65000000000003" y1="79.1" x2="359.0" y2="79.1" stroke="#000" stroke-width="0.9"/>
<line x1="284.3" y1="8.5" x2="286.1" y2="8.5" stroke="#000" stroke-width="0.7"/>
<line x1="285.1" y1="15.559999999999999" x2="286.1" y2="15.559999999999999" stroke="#000" stroke-width="0.6"/>
<text transform="translate(272.78,10.05) scale(0.0527,0.0451)" font-size="100" font-weight="bold" fill="#333" stroke="#333" stroke-width="4.50">12.5</text>
<line x1="284.3" y1="22.619999999999997" x2="286.1" y2="22.619999999999997" stroke="#000" stroke-width="0.7"/>
<line x1="285.1" y1="29.679999999999996" x2="286.1" y2="29.679999999999996" stroke="#000" stroke-width="0.6"/>
<text transform="translate(272.78,24.17) scale(0.0530,0.0451)" font-size="100" font-weight="bold" fill="#333" stroke="#333" stroke-width="4.49">10.0</text>
<line x1="284.3" y1="36.739999999999995" x2="286.1" y2="36.739999999999995" stroke="#000" stroke-width="0.7"/>
<line x1="285.1" y1="43.8" x2="286.1" y2="43.8" stroke="#000" stroke-width="0.6"/>
<text transform="translate(275.79,38.29) scale(0.0523,0.0457)" font-size="100" font-weight="bold" fill="#333" stroke="#333" stroke-width="4.49">7.5</text>
<line x1="284.3" y1="50.86" x2="286.1" y2="50.86" stroke="#000" stroke-width="0.7"/>
<line x1="285.1" y1="57.919999999999995" x2="286.1" y2="57.919999999999995" stroke="#000" stroke-width="0.6"/>
<text transform="translate(275.84,52.41) scale(0.0523,0.0451)" font-size="100" font-weight="bold" fill="#333" stroke="#333" stroke-width="4.52">5.0</text>
<line x1="284.3" y1="64.97999999999999" x2="286.1" y2="64.97999999999999" stroke="#000" stroke-width="0.7"/>
<line x1="285.1" y1="72.03999999999999" x2="286.1" y2="72.03999999999999" stroke="#000" stroke-width="0.6"/>
<text transform="translate(275.84,66.53) scale(0.0519,0.0451)" font-size="100" font-weight="bold" fill="#333" stroke="#333" stroke-width="4.54">2.5</text>
<line x1="284.3" y1="79.1" x2="286.1" y2="79.1" stroke="#000" stroke-width="0.7"/>
<text transform="translate(275.79,80.65) scale(0.0527,0.0451)" font-size="100" font-weight="bold" fill="#333" stroke="#333" stroke-width="4.50">0.0</text>
<line x1="297.9" y1="38.4" x2="297.9" y2="42.3" stroke="#000" stroke-width="0.9"/>
<line x1="293.75" y1="38.4" x2="302.04999999999995" y2="38.4" stroke="#000" stroke-width="0.9"/>
<rect x="290.05" y="42.75" width="15.699999999999966" height="36.349999999999994" fill="#fff" stroke="#000" stroke-width="0.9"/>
<line x1="322.25" y1="10.9" x2="322.25" y2="15.4" stroke="#000" stroke-width="0.9"/>
<line x1="318.125" y1="10.9" x2="326.375" y2="10.9" stroke="#000" stroke-width="0.9"/>
<rect x="314.45" y="15.85" width="15.6" height="63.24999999999999" fill="#000" stroke="#000" stroke-width="0.9"/>
<line x1="346.65" y1="40.6" x2="346.65" y2="41.3" stroke="#000" stroke-width="0.9"/>
<line x1="342.525" y1="40.6" x2="350.775" y2="40.6" stroke="#000" stroke-width="0.9"/>
<clipPath id="hc3"><rect x="338.84999999999997" y="41.75" width="15.6" height="37.349999999999994"/></clipPath>
<rect x="338.84999999999997" y="41.75" width="15.6" height="37.349999999999994" fill="#fff"/>
<path d="M298.70,41.75l39.3,39.3M301.50,41.75l39.3,39.3M304.30,41.75l39.3,39.3M307.10,41.75l39.3,39.3M309.90,41.75l39.3,39.3M312.70,41.75l39.3,39.3M315.50,41.75l39.3,39.3M318.30,41.75l39.3,39.3M321.10,41.75l39.3,39.3M323.90,41.75l39.3,39.3M326.70,41.75l39.3,39.3M329.50,41.75l39.3,39.3M332.30,41.75l39.3,39.3M335.10,41.75l39.3,39.3M337.90,41.75l39.3,39.3M340.70,41.75l39.3,39.3M343.50,41.75l39.3,39.3M346.30,41.75l39.3,39.3M349.10,41.75l39.3,39.3M351.90,41.75l39.3,39.3M354.70,41.75l39.3,39.3" stroke="#111" stroke-width="0.85" clip-path="url(#hc3)"/>
<rect x="338.84999999999997" y="41.75" width="15.6" height="37.349999999999994" fill="none" stroke="#000" stroke-width="0.9"/>
<text transform="translate(269.11,72.12) rotate(-90) scale(0.0609,0.0663)" font-size="100" font-weight="bold" fill="#000" stroke="#000" stroke-width="3.46"><tspan font-size="100" dy="-0.0">% IFN-&#947;</tspan><tspan font-size="62" dy="-38.0">+</tspan><tspan font-size="100" dy="38.0"> CD4</tspan><tspan font-size="62" dy="-38.0">+</tspan><tspan font-size="100" dy="38.0"> T cells</tspan></text>
<text transform="translate(288.10,89.80) scale(0.0636,0.0696)" font-size="100" font-weight="bold" fill="#000" stroke="#000" stroke-width="3.30">WT</text>
<text transform="translate(307.57,89.80) scale(0.0757,0.0768)" font-size="100" font-weight="bold" fill="#000" stroke="#000" stroke-width="2.89">IL-17</text>
<text transform="translate(325.20,86.32) scale(0.0488,0.0392)" font-size="100" font-weight="bold" fill="#000" stroke="#000" stroke-width="5.00">-/-</text>
<text transform="translate(332.47,90.10) scale(0.0757,0.0739)" font-size="100" font-weight="bold" fill="#000" stroke="#000" stroke-width="2.94">IL-17</text>
<text transform="translate(350.30,87.11) scale(0.0512,0.0432)" font-size="100" font-weight="bold" fill="#000" stroke="#000" stroke-width="4.66">-/-</text>
<text transform="translate(332.73,96.20) scale(0.0671,0.0710)" font-size="100" font-weight="bold" fill="#000" stroke="#000" stroke-width="3.18">+IL-17</text>
<text transform="translate(368.50,7.80) scale(0.1137,0.1130)" font-size="100" font-weight="bold" fill="#000" stroke="#000" stroke-width="1.94">F</text>
<line x1="408.8" y1="5.0" x2="408.8" y2="77.1" stroke="#000" stroke-width="0.9"/>
<line x1="408.35" y1="77.1" x2="478.4" y2="77.1" stroke="#000" stroke-width="0.9"/>
<line x1="407.0" y1="5.4" x2="408.8" y2="5.4" stroke="#000" stroke-width="0.7"/>
<line x1="407.8" y1="17.349999999999998" x2="408.8" y2="17.349999999999998" stroke="#000" stroke-width="0.6"/>
<text transform="translate(392.36,6.95) scale(0.0563,0.0451)" font-size="100" font-weight="bold" fill="#333" stroke="#333" stroke-width="4.34">1800</text>
<line x1="407.0" y1="29.299999999999997" x2="408.8" y2="29.299999999999997" stroke="#000" stroke-width="0.7"/>
<line x1="407.8" y1="41.24999999999999" x2="408.8" y2="41.24999999999999" stroke="#000" stroke-width="0.6"/>
<text transform="translate(392.36,30.85) scale(0.0563,0.0451)" font-size="100" font-weight="bold" fill="#333" stroke="#333" stroke-width="4.34">1200</text>
<line x1="407.0" y1="53.19999999999999" x2="408.8" y2="53.19999999999999" stroke="#000" stroke-width="0.7"/>
<line x1="407.8" y1="65.14999999999999" x2="408.8" y2="65.14999999999999" stroke="#000" stroke-width="0.6"/>
<text transform="translate(395.47,54.75) scale(0.0566,0.0451)" font-size="100" font-weight="bold" fill="#333" stroke="#333" stroke-width="4.33">600</text>
<line x1="407.0" y1="77.1" x2="408.8" y2="77.1" stroke="#000" stroke-width="0.7"/>
<text transform="translate(401.45,78.65) scale(0.0625,0.0451)" font-size="100" font-weight="bold" fill="#333" stroke="#333" stroke-width="4.09">0</text>
<line x1="420.0" y1="45.3" x2="420.0" y2="48.7" stroke="#000" stroke-width="0.9"/>
<line x1="416.0" y1="45.3" x2="424.0" y2="45.3" stroke="#000" stroke-width="0.9"/>
<rect x="412.45" y="49.150000000000006" width="15.1" height="27.949999999999992" fill="#fff" stroke="#000" stroke-width="0.9"/>
<line x1="443.3" y1="12.6" x2="443.3" y2="17.7" stroke="#000" stroke-width="0.9"/>
<line x1="439.3" y1="12.6" x2="447.3" y2="12.6" stroke="#000" stroke-width="0.9"/>
<rect x="435.75" y="18.15" width="15.1" height="58.94999999999999" fill="#000" stroke="#000" stroke-width="0.9"/>
<line x1="466.2" y1="44.6" x2="466.2" y2="47.2" stroke="#000" stroke-width="0.9"/>
<line x1="462.2" y1="44.6" x2="470.2" y2="44.6" stroke="#000" stroke-width="0.9"/>
<clipPath id="hc4"><rect x="458.65" y="47.650000000000006" width="15.1" height="29.449999999999992"/></clipPath>
<rect x="458.65" y="47.650000000000006" width="15.1" height="29.449999999999992" fill="#fff"/>
<path d="M426.40,47.65l31.4,31.4M429.20,47.65l31.4,31.4M432.00,47.65l31.4,31.4M434.80,47.65l31.4,31.4M437.60,47.65l31.4,31.4M440.40,47.65l31.4,31.4M443.20,47.65l31.4,31.4M446.00,47.65l31.4,31.4M448.80,47.65l31.4,31.4M451.60,47.65l31.4,31.4M454.40,47.65l31.4,31.4M457.20,47.65l31.4,31.4M460.00,47.65l31.4,31.4M462.80,47.65l31.4,31.4M465.60,47.65l31.4,31.4M468.40,47.65l31.4,31.4M471.20,47.65l31.4,31.4M474.00,47.65l31.4,31.4" stroke="#111" stroke-width="0.85" clip-path="url(#hc4)"/>
<rect x="458.65" y="47.650000000000006" width="15.1" height="29.449999999999992" fill="none" stroke="#000" stroke-width="0.9"/>
<text transform="translate(387.99,71.92) rotate(-90) scale(0.0722,0.0720)" font-size="100" font-weight="bold" fill="#000" stroke="#000" stroke-width="3.05"><tspan font-size="100" dy="-0.0">Sup. IFN-&#947; (pg/mL)</tspan></text>
<text transform="translate(408.30,88.80) scale(0.0688,0.0681)" font-size="100" font-weight="bold" fill="#000" stroke="#000" stroke-width="3.21">WT</text>
<text transform="translate(429.10,88.80) scale(0.0707,0.0681)" font-size="100" font-weight="bold" fill="#000" stroke="#000" stroke-width="3.17">IL-17</text>
<text transform="translate(445.10,86.11) scale(0.0488,0.0473)" font-size="100" font-weight="bold" fill="#000" stroke="#000" stroke-width="4.58">-/-</text>
<text transform="translate(453.98,89.10) scale(0.0739,0.0667)" font-size="100" font-weight="bold" fill="#000" stroke="#000" stroke-width="3.13">IL-17</text>
<text transform="translate(471.40,86.11) scale(0.0488,0.0473)" font-size="100" font-weight="bold" fill="#000" stroke="#000" stroke-width="4.58">-/-</text>
<text transform="translate(452.81,96.50) scale(0.0728,0.0710)" font-size="100" font-weight="bold" fill="#000" stroke="#000" stroke-width="3.06">+IL-17</text>
<text transform="translate(428.65,117.90) scale(0.0932,0.1130)" font-size="100" font-weight="bold" fill="#000" stroke="#000" stroke-width="2.13">H</text>
<line x1="450.1" y1="123.89999999999999" x2="450.1" y2="198.5" stroke="#000" stroke-width="0.9"/>
<line x1="449.65000000000003" y1="198.5" x2="498.4" y2="198.5" stroke="#000" stroke-width="0.9"/>
<line x1="448.3" y1="124.3" x2="450.1" y2="124.3" stroke="#000" stroke-width="0.7"/>
<line x1="449.1" y1="130.48333333333332" x2="450.1" y2="130.48333333333332" stroke="#000" stroke-width="0.6"/>
<text transform="translate(443.32,125.81) scale(0.0387,0.0437)" font-size="100" font-weight="bold" fill="#333" stroke="#333" stroke-width="5.34">30</text>
<line x1="448.3" y1="136.66666666666666" x2="450.1" y2="136.66666666666666" stroke="#000" stroke-width="0.7"/>
<line x1="449.1" y1="142.85" x2="450.1" y2="142.85" stroke="#000" stroke-width="0.6"/>
<text transform="translate(443.28,138.17) scale(0.0387,0.0437)" font-size="100" font-weight="bold" fill="#333" stroke="#333" stroke-width="5.34">25</text>
<line x1="448.3" y1="149.03333333333333" x2="450.1" y2="149.03333333333333" stroke="#000" stroke-width="0.7"/>
<line x1="449.1" y1="155.21666666666667" x2="450.1" y2="155.21666666666667" stroke="#000" stroke-width="0.6"/>
<text transform="translate(443.28,150.54) scale(0.0390,0.0437)" font-size="100" font-weight="bold" fill="#333" stroke="#333" stroke-width="5.32">20</text>
<line x1="448.3" y1="161.4" x2="450.1" y2="161.4" stroke="#000" stroke-width="0.7"/>
<line x1="449.1" y1="167.58333333333331" x2="450.1" y2="167.58333333333331" stroke="#000" stroke-width="0.6"/>
<text transform="translate(443.16,162.91) scale(0.0398,0.0443)" font-size="100" font-weight="bold" fill="#333" stroke="#333" stroke-width="5.23">15</text>
<line x1="448.3" y1="173.76666666666665" x2="450.1" y2="173.76666666666665" stroke="#000" stroke-width="0.7"/>
<line x1="449.1" y1="179.95" x2="450.1" y2="179.95" stroke="#000" stroke-width="0.6"/>
<text transform="translate(443.16,175.27) scale(0.0402,0.0437)" font-size="100" font-weight="bold" fill="#333" stroke="#333" stroke-width="5.25">10</text>
<line x1="448.3" y1="186.13333333333333" x2="450.1" y2="186.13333333333333" stroke="#000" stroke-width="0.7"/>
<line x1="449.1" y1="192.31666666666666" x2="450.1" y2="192.31666666666666" stroke="#000" stroke-width="0.6"/>
<text transform="translate(445.33,187.64) scale(0.0410,0.0443)" font-size="100" font-weight="bold" fill="#333" stroke="#333" stroke-width="5.16">5</text>
<line x1="448.3" y1="198.5" x2="450.1" y2="198.5" stroke="#000" stroke-width="0.7"/>
<text transform="translate(445.28,200.01) scale(0.0427,0.0437)" font-size="100" font-weight="bold" fill="#333" stroke="#333" stroke-width="5.09">0</text>
<line x1="462.55" y1="159.7" x2="462.55" y2="160.3" stroke="#000" stroke-width="0.9"/>
<line x1="458.425" y1="159.7" x2="466.675" y2="159.7" stroke="#000" stroke-width="0.9"/>
<rect x="454.75" y="160.75" width="15.6" height="37.749999999999986" fill="#fff" stroke="#000" stroke-width="0.9"/>
<line x1="486.15" y1="134.3" x2="486.15" y2="137.1" stroke="#000" stroke-width="0.9"/>
<line x1="482.125" y1="134.3" x2="490.17499999999995" y2="134.3" stroke="#000" stroke-width="0.9"/>
<rect x="478.55" y="137.54999999999998" width="15.199999999999966" height="60.95" fill="#000" stroke="#000" stroke-width="0.9"/>
<text transform="translate(438.89,195.74) rotate(-90) scale(0.0675,0.0526)" font-size="100" font-weight="bold" fill="#000" stroke="#000" stroke-width="3.66"><tspan font-size="100" dy="-0.0">% IFN-&#947;</tspan><tspan font-size="62" dy="-38.0">+</tspan><tspan font-size="100" dy="38.0"> CD4</tspan><tspan font-size="62" dy="-38.0">+</tspan><tspan font-size="100" dy="38.0"> T cells</tspan></text>
<text transform="translate(457.00,206.50) scale(0.0617,0.0580)" font-size="100" font-weight="bold" fill="#000" stroke="#000" stroke-width="3.68">WT</text>
<text transform="translate(474.56,207.00) scale(0.0631,0.0725)" font-size="100" font-weight="bold" fill="#000" stroke="#000" stroke-width="3.25">IL-17</text>
<text transform="translate(489.31,203.92) scale(0.0465,0.0405)" font-size="100" font-weight="bold" fill="#000" stroke="#000" stroke-width="5.05">-/-</text>
<text transform="translate(251.10,232.50) scale(0.1000,0.1130)" font-size="100" font-weight="bold" fill="#000" stroke="#000" stroke-width="2.07">I</text>
<line x1="267.1" y1="239.9" x2="267.1" y2="306.5" stroke="#000" stroke-width="0.9"/>
<line x1="266.65000000000003" y1="306.5" x2="315.3" y2="306.5" stroke="#000" stroke-width="0.9"/>
<line x1="265.3" y1="240.3" x2="267.1" y2="240.3" stroke="#000" stroke-width="0.7"/>
<line x1="266.1" y1="248.57500000000002" x2="267.1" y2="248.57500000000002" stroke="#000" stroke-width="0.6"/>
<text transform="translate(258.18,241.66) scale(0.0413,0.0394)" font-size="100" font-weight="bold" fill="#333" stroke="#333" stroke-width="5.45">800</text>
<line x1="265.3" y1="256.85" x2="267.1" y2="256.85" stroke="#000" stroke-width="0.7"/>
<line x1="266.1" y1="265.125" x2="267.1" y2="265.125" stroke="#000" stroke-width="0.6"/>
<text transform="translate(258.13,258.21) scale(0.0415,0.0394)" font-size="100" font-weight="bold" fill="#333" stroke="#333" stroke-width="5.44">600</text>
<line x1="265.3" y1="273.4" x2="267.1" y2="273.4" stroke="#000" stroke-width="0.7"/>
<line x1="266.1" y1="281.67499999999995" x2="267.1" y2="281.67499999999995" stroke="#000" stroke-width="0.6"/>
<text transform="translate(258.26,274.76) scale(0.0407,0.0394)" font-size="100" font-weight="bold" fill="#333" stroke="#333" stroke-width="5.49">400</text>
<line x1="265.3" y1="289.95" x2="267.1" y2="289.95" stroke="#000" stroke-width="0.7"/>
<line x1="266.1" y1="298.225" x2="267.1" y2="298.225" stroke="#000" stroke-width="0.6"/>
<text transform="translate(258.18,291.31) scale(0.0413,0.0394)" font-size="100" font-weight="bold" fill="#333" stroke="#333" stroke-width="5.45">200</text>
<line x1="265.3" y1="306.5" x2="267.1" y2="306.5" stroke="#000" stroke-width="0.7"/>
<text transform="translate(262.52,307.86) scale(0.0458,0.0394)" font-size="100" font-weight="bold" fill="#333" stroke="#333" stroke-width="5.16">0</text>
<line x1="279.4" y1="267.0" x2="279.4" y2="273.3" stroke="#000" stroke-width="0.9"/>
<line x1="275.2" y1="267.0" x2="283.59999999999997" y2="267.0" stroke="#000" stroke-width="0.9"/>
<rect x="271.45" y="273.75" width="15.900000000000011" height="32.749999999999986" fill="#fff" stroke="#000" stroke-width="0.9"/>
<line x1="303.05" y1="241.7" x2="303.05" y2="244.9" stroke="#000" stroke-width="0.9"/>
<line x1="299.025" y1="241.7" x2="307.07500000000005" y2="241.7" stroke="#000" stroke-width="0.9"/>
<rect x="295.45" y="245.35" width="15.200000000000022" height="61.14999999999999" fill="#000" stroke="#000" stroke-width="0.9"/>
<text transform="translate(255.48,299.09) rotate(-90) scale(0.0630,0.0581)" font-size="100" font-weight="bold" fill="#000" stroke="#000" stroke-width="3.64"><tspan font-size="100" dy="-0.0">Sup. IFN-&#947; (pg/mL)</tspan></text>
<text transform="translate(274.50,314.00) scale(0.0552,0.0580)" font-size="100" font-weight="bold" fill="#000" stroke="#000" stroke-width="3.89">WT</text>
<text transform="translate(292.61,314.00) scale(0.0563,0.0580)" font-size="100" font-weight="bold" fill="#000" stroke="#000" stroke-width="3.85">IL-17</text>
<text transform="translate(305.84,310.94) scale(0.0407,0.0297)" font-size="100" font-weight="bold" fill="#000" stroke="#000" stroke-width="6.25">-/-</text>
<text transform="translate(328.30,232.59) scale(0.1000,0.1114)" font-size="100" font-weight="bold" fill="#000" stroke="#000" stroke-width="2.08">J</text>
<line x1="347.6" y1="236.7" x2="347.6" y2="303.7" stroke="#000" stroke-width="0.9"/>
<line x1="347.15000000000003" y1="303.7" x2="419.3" y2="303.7" stroke="#000" stroke-width="0.9"/>
<line x1="345.8" y1="237.1" x2="347.6" y2="237.1" stroke="#000" stroke-width="0.7"/>
<line x1="346.6" y1="243.76" x2="347.6" y2="243.76" stroke="#000" stroke-width="0.6"/>
<text transform="translate(339.30,238.27) scale(0.0337,0.0338)" font-size="100" font-weight="bold" fill="#333" stroke="#333" stroke-width="6.51">500</text>
<line x1="345.8" y1="250.42" x2="347.6" y2="250.42" stroke="#000" stroke-width="0.7"/>
<line x1="346.6" y1="257.08" x2="347.6" y2="257.08" stroke="#000" stroke-width="0.6"/>
<text transform="translate(339.37,251.59) scale(0.0333,0.0338)" font-size="100" font-weight="bold" fill="#333" stroke="#333" stroke-width="6.55">400</text>
<line x1="345.8" y1="263.74" x2="347.6" y2="263.74" stroke="#000" stroke-width="0.7"/>
<line x1="346.6" y1="270.4" x2="347.6" y2="270.4" stroke="#000" stroke-width="0.6"/>
<text transform="translate(339.33,264.91) scale(0.0335,0.0338)" font-size="100" font-weight="bold" fill="#333" stroke="#333" stroke-width="6.53">300</text>
<line x1="345.8" y1="277.06" x2="347.6" y2="277.06" stroke="#000" stroke-width="0.7"/>
<line x1="346.6" y1="283.72" x2="347.6" y2="283.72" stroke="#000" stroke-width="0.6"/>
<text transform="translate(339.30,278.23) scale(0.0337,0.0338)" font-size="100" font-weight="bold" fill="#333" stroke="#333" stroke-width="6.51">200</text>
<line x1="345.8" y1="290.38" x2="347.6" y2="290.38" stroke="#000" stroke-width="0.7"/>
<line x1="346.6" y1="297.03999999999996" x2="347.6" y2="297.03999999999996" stroke="#000" stroke-width="0.6"/>
<text transform="translate(339.19,291.55) scale(0.0344,0.0338)" font-size="100" font-weight="bold" fill="#333" stroke="#333" stroke-width="6.45">100</text>
<line x1="345.8" y1="303.7" x2="347.6" y2="303.7" stroke="#000" stroke-width="0.7"/>
<text transform="translate(342.85,304.87) scale(0.0375,0.0338)" font-size="100" font-weight="bold" fill="#333" stroke="#333" stroke-width="6.17">0</text>
<line x1="358.95000000000005" y1="269.0" x2="358.95000000000005" y2="275.1" stroke="#000" stroke-width="0.9"/>
<line x1="356.62500000000006" y1="269.0" x2="361.27500000000003" y2="269.0" stroke="#000" stroke-width="0.9"/>
<rect x="354.75" y="275.55" width="8.400000000000011" height="28.149999999999967" fill="#fff" stroke="#000" stroke-width="0.9"/>
<line x1="373.25" y1="241.8" x2="373.25" y2="249.6" stroke="#000" stroke-width="0.9"/>
<line x1="370.925" y1="241.8" x2="375.575" y2="241.8" stroke="#000" stroke-width="0.9"/>
<rect x="369.05" y="250.04999999999998" width="8.399999999999954" height="53.64999999999999" fill="#000" stroke="#000" stroke-width="0.9"/>
<line x1="396.2" y1="286.6" x2="396.2" y2="288.0" stroke="#000" stroke-width="0.9"/>
<line x1="393.7" y1="286.6" x2="398.7" y2="286.6" stroke="#000" stroke-width="0.9"/>
<rect x="391.65" y="288.45" width="9.1" height="15.24999999999999" fill="#fff" stroke="#000" stroke-width="0.9"/>
<line x1="410.25" y1="281.5" x2="410.25" y2="283.1" stroke="#000" stroke-width="0.9"/>
<line x1="407.825" y1="281.5" x2="412.675" y2="281.5" stroke="#000" stroke-width="0.9"/>
<rect x="405.84999999999997" y="283.55" width="8.800000000000045" height="20.149999999999967" fill="#000" stroke="#000" stroke-width="0.9"/>
<text transform="translate(336.75,295.79) rotate(-90) scale(0.0630,0.0645)" font-size="100" font-weight="bold" fill="#000" stroke="#000" stroke-width="3.45"><tspan font-size="100" dy="-0.0">Sup. IFN-&#947; (pg/mL)</tspan></text>
<rect x="389.95" y="247.95" width="7.6" height="4.5" fill="#fff" stroke="#000" stroke-width="0.9"/>
<rect x="389.95" y="254.9" width="7.6" height="4.3" fill="#000" stroke="#000" stroke-width="0.9"/>
<text transform="translate(398.70,252.50) scale(0.0532,0.0551)" font-size="100" font-weight="bold" fill="#000" stroke="#000" stroke-width="4.06">WT</text>
<text transform="translate(398.61,260.10) scale(0.0554,0.0681)" font-size="100" font-weight="bold" fill="#000" stroke="#000" stroke-width="3.56">IL-17</text>
<text transform="translate(411.41,256.64) scale(0.0477,0.0311)" font-size="100" font-weight="bold" fill="#000" stroke="#000" stroke-width="5.59">-/-</text>
<text transform="translate(355.87,312.33) scale(0.0574,0.0671)" font-size="100" font-weight="bold" fill="#000" stroke="#000" stroke-width="3.53">Control</text>
<text transform="translate(389.94,312.33) scale(0.0546,0.0671)" font-size="100" font-weight="bold" fill="#000" stroke="#000" stroke-width="3.61">Anti-IL-12</text>
<text transform="translate(427.48,232.70) scale(0.1031,0.1130)" font-size="100" font-weight="bold" fill="#000" stroke="#000" stroke-width="2.04">K</text>
<line x1="449.7" y1="249.1" x2="449.7" y2="303.4" stroke="#000" stroke-width="0.9"/>
<line x1="449.25" y1="303.4" x2="519.5" y2="303.4" stroke="#000" stroke-width="0.9"/>
<line x1="447.9" y1="249.5" x2="449.7" y2="249.5" stroke="#000" stroke-width="0.7"/>
<line x1="448.7" y1="254.89" x2="449.7" y2="254.89" stroke="#000" stroke-width="0.6"/>
<text transform="translate(439.90,250.76) scale(0.0338,0.0366)" font-size="100" font-weight="bold" fill="#333" stroke="#333" stroke-width="6.25">1000</text>
<line x1="447.9" y1="260.28" x2="449.7" y2="260.28" stroke="#000" stroke-width="0.7"/>
<line x1="448.7" y1="265.66999999999996" x2="449.7" y2="265.66999999999996" stroke="#000" stroke-width="0.6"/>
<text transform="translate(441.80,261.54) scale(0.0337,0.0366)" font-size="100" font-weight="bold" fill="#333" stroke="#333" stroke-width="6.25">800</text>
<line x1="447.9" y1="271.06" x2="449.7" y2="271.06" stroke="#000" stroke-width="0.7"/>
<line x1="448.7" y1="276.45" x2="449.7" y2="276.45" stroke="#000" stroke-width="0.6"/>
<text transform="translate(441.76,272.32) scale(0.0340,0.0366)" font-size="100" font-weight="bold" fill="#333" stroke="#333" stroke-width="6.23">600</text>
<line x1="447.9" y1="281.84" x2="449.7" y2="281.84" stroke="#000" stroke-width="0.7"/>
<line x1="448.7" y1="287.23" x2="449.7" y2="287.23" stroke="#000" stroke-width="0.6"/>
<text transform="translate(441.87,283.10) scale(0.0333,0.0366)" font-size="100" font-weight="bold" fill="#333" stroke="#333" stroke-width="6.29">400</text>
<line x1="447.9" y1="292.62" x2="449.7" y2="292.62" stroke="#000" stroke-width="0.7"/>
<line x1="448.7" y1="298.01" x2="449.7" y2="298.01" stroke="#000" stroke-width="0.6"/>
<text transform="translate(441.80,293.88) scale(0.0337,0.0366)" font-size="100" font-weight="bold" fill="#333" stroke="#333" stroke-width="6.25">200</text>
<line x1="447.9" y1="303.4" x2="449.7" y2="303.4" stroke="#000" stroke-width="0.7"/>
<text transform="translate(445.35,304.66) scale(0.0375,0.0366)" font-size="100" font-weight="bold" fill="#333" stroke="#333" stroke-width="5.94">0</text>
<line x1="461.7" y1="257.2" x2="461.7" y2="259.0" stroke="#000" stroke-width="0.9"/>
<line x1="457.6" y1="257.2" x2="465.79999999999995" y2="257.2" stroke="#000" stroke-width="0.9"/>
<rect x="453.95" y="259.45" width="15.499999999999977" height="43.949999999999974" fill="#000" stroke="#000" stroke-width="0.9"/>
<line x1="484.5" y1="281.6" x2="484.5" y2="286.3" stroke="#000" stroke-width="0.9"/>
<line x1="480.45" y1="281.6" x2="488.55" y2="281.6" stroke="#000" stroke-width="0.9"/>
<rect x="476.84999999999997" y="286.75" width="15.300000000000045" height="16.649999999999967" fill="#777" stroke="#000" stroke-width="0.9"/>
<text transform="translate(436.48,297.99) rotate(-90) scale(0.0634,0.0581)" font-size="100" font-weight="bold" fill="#000" stroke="#000" stroke-width="3.62"><tspan font-size="100" dy="-0.0">Sup. IFN-&#947; (pg/mL)</tspan></text>
<line x1="449.7" y1="234.6" x2="449.7" y2="247.0" stroke="#000" stroke-width="0.9"/>
<line x1="447.9" y1="235.2" x2="449.7" y2="235.2" stroke="#000" stroke-width="0.7"/>
<text transform="translate(436.56,236.27) scale(0.0392,0.0310)" font-size="100" font-weight="bold" fill="#333" stroke="#333" stroke-width="6.27">16000</text>
<line x1="447.9" y1="240.5" x2="449.7" y2="240.5" stroke="#000" stroke-width="0.7"/>
<text transform="translate(436.56,241.57) scale(0.0399,0.0310)" font-size="100" font-weight="bold" fill="#333" stroke="#333" stroke-width="6.21">11000</text>
<line x1="447.9" y1="245.7" x2="449.7" y2="245.7" stroke="#000" stroke-width="0.7"/>
<text transform="translate(438.74,246.77) scale(0.0391,0.0310)" font-size="100" font-weight="bold" fill="#333" stroke="#333" stroke-width="6.28">6000</text>
<line x1="448.8" y1="236.5" x2="449.7" y2="236.5" stroke="#000" stroke-width="0.5"/>
<line x1="448.8" y1="237.9" x2="449.7" y2="237.9" stroke="#000" stroke-width="0.5"/>
<line x1="448.8" y1="239.2" x2="449.7" y2="239.2" stroke="#000" stroke-width="0.5"/>
<line x1="448.8" y1="241.8" x2="449.7" y2="241.8" stroke="#000" stroke-width="0.5"/>
<line x1="448.8" y1="243.1" x2="449.7" y2="243.1" stroke="#000" stroke-width="0.5"/>
<line x1="448.8" y1="244.4" x2="449.7" y2="244.4" stroke="#000" stroke-width="0.5"/>
<clipPath id="hc5"><rect x="499.6" y="235.1" width="15.8" height="10.9"/></clipPath>
<rect x="499.6" y="235.1" width="15.8" height="10.9" fill="#fff"/>
<path d="M486.40,235.10l12.9,12.9M488.70,235.10l12.9,12.9M491.00,235.10l12.9,12.9M493.30,235.10l12.9,12.9M495.60,235.10l12.9,12.9M497.90,235.10l12.9,12.9M500.20,235.10l12.9,12.9M502.50,235.10l12.9,12.9M504.80,235.10l12.9,12.9M507.10,235.10l12.9,12.9M509.40,235.10l12.9,12.9M511.70,235.10l12.9,12.9M514.00,235.10l12.9,12.9M516.30,235.10l12.9,12.9" stroke="#111" stroke-width="1.0" clip-path="url(#hc5)"/>
<path d="M499.6,246.0 V235.1 H515.4 V246.0" fill="none" stroke="#000" stroke-width="0.9"/>
<clipPath id="hc6"><rect x="499.6" y="249.5" width="15.8" height="53.9"/></clipPath>
<rect x="499.6" y="249.5" width="15.8" height="53.9" fill="#fff"/>
<path d="M443.40,249.50l55.9,55.9M445.70,249.50l55.9,55.9M448.00,249.50l55.9,55.9M450.30,249.50l55.9,55.9M452.60,249.50l55.9,55.9M454.90,249.50l55.9,55.9M457.20,249.50l55.9,55.9M459.50,249.50l55.9,55.9M461.80,249.50l55.9,55.9M464.10,249.50l55.9,55.9M466.40,249.50l55.9,55.9M468.70,249.50l55.9,55.9M471.00,249.50l55.9,55.9M473.30,249.50l55.9,55.9M475.60,249.50l55.9,55.9M477.90,249.50l55.9,55.9M480.20,249.50l55.9,55.9M482.50,249.50l55.9,55.9M484.80,249.50l55.9,55.9M487.10,249.50l55.9,55.9M489.40,249.50l55.9,55.9M491.70,249.50l55.9,55.9M494.00,249.50l55.9,55.9M496.30,249.50l55.9,55.9M498.60,249.50l55.9,55.9M500.90,249.50l55.9,55.9M503.20,249.50l55.9,55.9M505.50,249.50l55.9,55.9M507.80,249.50l55.9,55.9M510.10,249.50l55.9,55.9M512.40,249.50l55.9,55.9M514.70,249.50l55.9,55.9M517.00,249.50l55.9,55.9" stroke="#111" stroke-width="1.0" clip-path="url(#hc6)"/>
<path d="M499.6,249.5 V303.4 H515.4 V249.5" fill="none" stroke="#000" stroke-width="0.9"/>
<text transform="translate(453.06,312.04) scale(0.0609,0.0603)" font-size="100" font-weight="bold" fill="#000" stroke="#000" stroke-width="3.63">Control</text>
<text transform="translate(477.58,311.90) scale(0.0562,0.0710)" font-size="100" font-weight="bold" fill="#000" stroke="#000" stroke-width="3.46">+IL-17</text>
<text transform="translate(501.07,310.70) scale(0.0565,0.0638)" font-size="100" font-weight="bold" fill="#000" stroke="#000" stroke-width="3.66">+IL-17</text>
<text transform="translate(501.07,316.00) scale(0.0563,0.0586)" font-size="100" font-weight="bold" fill="#000" stroke="#000" stroke-width="3.83">+IL-12</text>
</svg></body></html>
